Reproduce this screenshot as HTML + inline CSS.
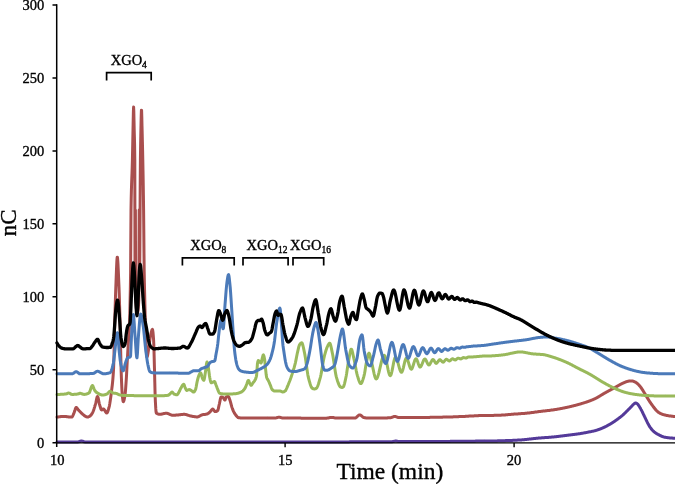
<!DOCTYPE html>
<html><head><meta charset="utf-8"><title>chart</title>
<style>
html,body{margin:0;padding:0;background:#fff;}
body{width:675px;height:484px;overflow:hidden;font-family:"Liberation Serif",serif;}
svg{display:block;will-change:transform;opacity:0.999}
text{font-family:"Liberation Serif",serif;fill:#000;stroke:#000;stroke-width:0.35px;stroke-linejoin:round}
</style></head><body>
<svg width="675" height="484" viewBox="0 0 675 484">
<rect width="675" height="484" fill="#fff"/>
<g fill="none" stroke-linejoin="round" stroke-linecap="round">
<path d="M57.0,441.9 L57.4,441.9 L57.8,441.9 L58.2,441.9 L58.6,441.9 L59.0,441.9 L59.4,441.9 L59.8,441.9 L60.2,441.9 L60.6,441.9 L61.0,441.9 L61.4,441.9 L61.8,441.9 L62.2,441.9 L62.6,441.9 L63.0,441.9 L63.4,441.9 L63.8,441.9 L64.2,441.9 L64.6,441.9 L65.0,441.9 L65.4,441.9 L65.8,441.9 L66.2,441.9 L66.6,441.9 L67.0,441.9 L67.4,441.9 L67.8,441.9 L68.2,441.9 L68.6,441.9 L69.0,441.9 L69.4,441.9 L69.8,441.9 L70.2,441.9 L70.6,441.9 L71.0,441.9 L71.4,441.9 L71.8,441.9 L72.2,441.9 L72.6,441.9 L73.0,441.9 L73.4,441.9 L73.8,441.9 L74.2,441.9 L74.6,441.9 L75.0,441.9 L75.4,441.9 L75.8,441.9 L76.2,441.9 L76.6,441.9 L77.0,441.9 L77.4,441.9 L77.8,441.9 L78.2,441.9 L78.6,441.8 L79.0,441.7 L79.4,441.6 L79.8,441.4 L80.2,441.3 L80.6,441.1 L81.0,441.0 L81.4,441.0 L81.8,441.0 L82.2,441.1 L82.6,441.2 L83.0,441.4 L83.4,441.5 L83.8,441.7 L84.2,441.8 L84.6,441.9 L85.0,441.9 L85.4,441.9 L85.8,441.9 L86.2,441.9 L86.6,441.9 L87.0,441.9 L87.4,441.9 L87.8,441.9 L88.2,441.9 L88.6,441.9 L89.0,441.9 L89.4,441.9 L89.8,441.9 L90.2,441.9 L90.6,441.9 L91.0,441.9 L91.4,441.9 L91.8,441.9 L92.2,441.9 L92.6,441.9 L93.0,441.9 L93.4,441.9 L93.8,441.9 L94.2,441.9 L94.6,441.9 L95.0,441.9 L95.4,441.9 L95.8,441.9 L96.2,441.9 L96.6,441.9 L97.0,441.9 L97.4,441.9 L97.8,441.9 L98.2,441.9 L98.6,441.9 L99.0,441.9 L99.4,441.9 L99.8,441.9 L100.2,441.9 L100.6,441.9 L101.0,441.9 L101.4,441.9 L101.8,441.9 L102.2,441.9 L102.6,441.9 L103.0,441.9 L103.4,441.9 L103.8,441.9 L104.2,441.9 L104.6,441.9 L105.0,441.9 L105.4,441.9 L105.8,441.9 L106.2,441.9 L106.6,441.9 L107.0,441.9 L107.4,441.9 L107.8,441.9 L108.2,441.9 L108.6,441.9 L109.0,441.9 L109.4,441.9 L109.8,441.9 L110.2,441.9 L110.6,441.9 L111.0,441.9 L111.4,441.9 L111.8,441.9 L112.2,441.9 L112.6,441.9 L113.0,441.9 L113.4,441.9 L113.8,441.9 L114.2,441.9 L114.6,441.9 L115.0,441.9 L115.4,441.9 L115.8,441.9 L116.2,441.9 L116.6,441.9 L117.0,441.9 L117.4,441.9 L117.8,441.9 L118.2,441.9 L118.6,441.9 L119.0,441.9 L119.4,441.9 L119.8,441.9 L120.2,441.9 L120.6,441.9 L121.0,441.9 L121.4,441.9 L121.8,441.9 L122.2,441.9 L122.6,441.9 L123.0,441.9 L123.4,441.9 L123.8,441.9 L124.2,441.9 L124.6,441.9 L125.0,441.9 L125.4,441.9 L125.8,441.9 L126.2,441.9 L126.6,441.9 L127.0,441.9 L127.4,441.9 L127.8,441.9 L128.2,441.9 L128.6,441.9 L129.0,441.9 L129.4,441.9 L129.8,441.9 L130.2,441.9 L130.6,441.9 L131.0,441.9 L131.4,441.9 L131.8,441.9 L132.2,441.9 L132.6,441.9 L133.0,441.9 L133.4,441.9 L133.8,441.9 L134.2,441.9 L134.6,441.9 L135.0,441.9 L135.4,441.9 L135.8,441.9 L136.2,441.9 L136.6,441.9 L137.0,441.9 L137.4,441.9 L137.8,441.9 L138.2,441.9 L138.6,441.9 L139.0,441.9 L139.4,441.9 L139.8,441.9 L140.2,441.9 L140.6,441.9 L141.0,441.9 L141.4,441.9 L141.8,441.9 L142.2,441.9 L142.6,441.9 L143.0,441.9 L143.4,441.9 L143.8,441.9 L144.2,441.9 L144.6,441.9 L145.0,441.9 L145.4,441.9 L145.8,441.9 L146.2,441.9 L146.6,441.9 L147.0,441.9 L147.4,441.9 L147.8,441.9 L148.2,441.9 L148.6,441.9 L149.0,441.9 L149.4,441.9 L149.8,441.9 L150.2,441.9 L150.6,441.9 L151.0,441.9 L151.4,441.9 L151.8,441.9 L152.2,441.9 L152.6,441.9 L153.0,441.9 L153.4,441.9 L153.8,441.9 L154.2,441.9 L154.6,441.9 L155.0,441.9 L155.4,441.9 L155.8,441.9 L156.2,441.9 L156.6,441.9 L157.0,441.9 L157.4,441.9 L157.8,441.9 L158.2,441.9 L158.6,441.9 L159.0,441.9 L159.4,441.9 L159.8,441.9 L160.2,441.9 L160.6,441.9 L161.0,441.9 L161.4,441.9 L161.8,441.9 L162.2,441.9 L162.6,441.9 L163.0,441.9 L163.4,441.9 L163.8,441.9 L164.2,441.9 L164.6,441.9 L165.0,441.9 L165.4,441.9 L165.8,441.9 L166.2,441.9 L166.6,441.9 L167.0,441.9 L167.4,441.9 L167.8,441.9 L168.2,441.9 L168.6,441.9 L169.0,441.9 L169.4,441.9 L169.8,441.9 L170.2,441.9 L170.6,441.9 L171.0,441.9 L171.4,441.9 L171.8,441.9 L172.2,441.9 L172.6,441.9 L173.0,441.9 L173.4,441.9 L173.8,441.9 L174.2,441.9 L174.6,441.9 L175.0,441.9 L175.4,441.9 L175.8,441.9 L176.2,441.9 L176.6,441.9 L177.0,441.9 L177.4,441.9 L177.8,441.9 L178.2,441.9 L178.6,441.9 L179.0,441.9 L179.4,441.9 L179.8,441.9 L180.2,441.9 L180.6,441.9 L181.0,441.9 L181.4,441.9 L181.8,441.9 L182.2,441.9 L182.6,441.9 L183.0,441.9 L183.4,441.9 L183.8,441.9 L184.2,441.9 L184.6,441.9 L185.0,441.9 L185.4,441.9 L185.8,441.9 L186.2,441.9 L186.6,441.9 L187.0,441.9 L187.4,441.9 L187.8,441.9 L188.2,441.9 L188.6,441.9 L189.0,441.9 L189.4,441.9 L189.8,441.9 L190.2,441.9 L190.6,441.9 L191.0,441.9 L191.4,441.9 L191.8,441.9 L192.2,441.9 L192.6,441.9 L193.0,441.9 L193.4,441.9 L193.8,441.9 L194.2,441.9 L194.6,441.9 L195.0,441.9 L195.4,441.9 L195.8,441.9 L196.2,441.9 L196.6,441.9 L197.0,441.9 L197.4,441.9 L197.8,441.9 L198.2,441.9 L198.6,441.9 L199.0,441.9 L199.4,441.9 L199.8,441.9 L200.2,441.9 L200.6,441.9 L201.0,441.9 L201.4,441.9 L201.8,441.9 L202.2,441.9 L202.6,441.9 L203.0,441.9 L203.4,441.9 L203.8,441.9 L204.2,441.9 L204.6,441.9 L205.0,441.9 L205.4,441.9 L205.8,441.9 L206.2,441.9 L206.6,441.9 L207.0,441.9 L207.4,441.9 L207.8,441.9 L208.2,441.9 L208.6,441.9 L209.0,441.9 L209.4,441.9 L209.8,441.9 L210.2,441.9 L210.6,441.9 L211.0,441.9 L211.4,441.9 L211.8,441.9 L212.2,441.9 L212.6,441.9 L213.0,441.9 L213.4,441.9 L213.8,441.9 L214.2,441.9 L214.6,441.9 L215.0,441.9 L215.4,441.9 L215.8,441.9 L216.2,441.9 L216.6,441.9 L217.0,441.9 L217.4,441.9 L217.8,441.9 L218.2,441.9 L218.6,441.9 L219.0,441.9 L219.4,441.9 L219.8,441.9 L220.2,441.9 L220.6,441.9 L221.0,441.9 L221.4,441.9 L221.8,441.9 L222.2,441.9 L222.6,441.9 L223.0,441.9 L223.4,441.9 L223.8,441.9 L224.2,441.9 L224.6,441.9 L225.0,441.9 L225.4,441.9 L225.8,441.9 L226.2,441.9 L226.6,441.9 L227.0,441.9 L227.4,441.9 L227.8,441.9 L228.2,441.9 L228.6,441.9 L229.0,441.9 L229.4,441.9 L229.8,441.9 L230.2,441.9 L230.6,441.9 L231.0,441.9 L231.4,441.9 L231.8,441.9 L232.2,441.9 L232.6,441.9 L233.0,441.9 L233.4,441.9 L233.8,441.9 L234.2,441.9 L234.6,441.9 L235.0,441.9 L235.4,441.9 L235.8,441.9 L236.2,441.9 L236.6,441.9 L237.0,441.9 L237.4,441.9 L237.8,441.9 L238.2,441.9 L238.6,441.9 L239.0,441.9 L239.4,441.9 L239.8,441.9 L240.2,441.9 L240.6,441.9 L241.0,441.9 L241.4,441.9 L241.8,441.9 L242.2,441.9 L242.6,441.9 L243.0,441.9 L243.4,441.9 L243.8,441.9 L244.2,441.9 L244.6,441.9 L245.0,441.9 L245.4,441.9 L245.8,441.9 L246.2,441.9 L246.6,441.9 L247.0,441.9 L247.4,441.9 L247.8,441.9 L248.2,441.9 L248.6,441.9 L249.0,441.9 L249.4,441.9 L249.8,441.9 L250.2,441.9 L250.6,441.9 L251.0,441.9 L251.4,441.9 L251.8,441.9 L252.2,441.9 L252.6,441.9 L253.0,441.9 L253.4,441.9 L253.8,441.9 L254.2,441.9 L254.6,441.9 L255.0,441.9 L255.4,441.9 L255.8,441.9 L256.2,441.9 L256.6,441.9 L257.0,441.9 L257.4,441.9 L257.8,441.9 L258.2,441.9 L258.6,441.9 L259.0,441.9 L259.4,441.9 L259.8,441.9 L260.2,441.9 L260.6,441.9 L261.0,441.9 L261.4,441.9 L261.8,441.9 L262.2,441.9 L262.6,441.9 L263.0,441.9 L263.4,441.9 L263.8,441.9 L264.2,441.9 L264.6,441.9 L265.0,441.9 L265.4,441.9 L265.8,441.9 L266.2,441.9 L266.6,441.9 L267.0,441.9 L267.4,441.9 L267.8,441.9 L268.2,441.9 L268.6,441.9 L269.0,441.9 L269.4,441.9 L269.8,441.9 L270.2,441.9 L270.6,441.9 L271.0,441.9 L271.4,441.9 L271.8,441.9 L272.2,441.9 L272.6,441.9 L273.0,441.9 L273.4,441.9 L273.8,441.9 L274.2,441.9 L274.6,441.9 L275.0,441.9 L275.4,441.9 L275.8,441.9 L276.2,441.9 L276.6,441.9 L277.0,441.9 L277.4,441.9 L277.8,441.9 L278.2,441.9 L278.6,441.9 L279.0,441.9 L279.4,441.9 L279.8,441.9 L280.2,441.9 L280.6,441.9 L281.0,441.9 L281.4,441.9 L281.8,441.9 L282.2,441.9 L282.6,441.9 L283.0,441.9 L283.4,441.9 L283.8,441.9 L284.2,441.9 L284.6,441.9 L285.0,441.9 L285.4,441.9 L285.8,441.9 L286.2,441.9 L286.6,441.9 L287.0,441.9 L287.4,441.9 L287.8,441.9 L288.2,441.9 L288.6,441.9 L289.0,441.9 L289.4,441.9 L289.8,441.9 L290.2,441.9 L290.6,441.9 L291.0,441.9 L291.4,441.9 L291.8,441.9 L292.2,441.9 L292.6,441.9 L293.0,441.9 L293.4,441.9 L293.8,441.9 L294.2,441.9 L294.6,441.9 L295.0,441.9 L295.4,441.9 L295.8,441.9 L296.2,441.9 L296.6,441.9 L297.0,441.9 L297.4,441.9 L297.8,441.9 L298.2,441.9 L298.6,441.9 L299.0,441.9 L299.4,441.9 L299.8,441.9 L300.2,441.9 L300.6,441.9 L301.0,441.9 L301.4,441.9 L301.8,441.9 L302.2,441.9 L302.6,441.9 L303.0,441.9 L303.4,441.9 L303.8,441.9 L304.2,441.9 L304.6,441.9 L305.0,441.9 L305.4,441.9 L305.8,441.9 L306.2,441.9 L306.6,441.9 L307.0,441.9 L307.4,441.9 L307.8,441.9 L308.2,441.9 L308.6,441.9 L309.0,441.9 L309.4,441.9 L309.8,441.9 L310.2,441.9 L310.6,441.9 L311.0,441.9 L311.4,441.9 L311.8,441.9 L312.2,441.9 L312.6,441.9 L313.0,441.9 L313.4,441.9 L313.8,441.9 L314.2,441.9 L314.6,441.9 L315.0,441.9 L315.4,441.9 L315.8,441.9 L316.2,441.9 L316.6,441.9 L317.0,441.9 L317.4,441.9 L317.8,441.9 L318.2,441.9 L318.6,441.9 L319.0,441.9 L319.4,441.9 L319.8,441.9 L320.2,441.9 L320.6,441.9 L321.0,441.9 L321.4,441.9 L321.8,441.9 L322.2,441.9 L322.6,441.9 L323.0,441.9 L323.4,441.9 L323.8,441.9 L324.2,441.9 L324.6,441.9 L325.0,441.9 L325.4,441.9 L325.8,441.9 L326.2,441.9 L326.6,441.9 L327.0,441.9 L327.4,441.9 L327.8,441.9 L328.2,441.9 L328.6,441.9 L329.0,441.9 L329.4,441.9 L329.8,441.9 L330.2,441.9 L330.6,441.9 L331.0,441.9 L331.4,441.9 L331.8,441.9 L332.2,441.9 L332.6,441.9 L333.0,441.9 L333.4,441.9 L333.8,441.9 L334.2,441.9 L334.6,441.9 L335.0,441.9 L335.4,441.9 L335.8,441.9 L336.2,441.9 L336.6,441.9 L337.0,441.9 L337.4,441.9 L337.8,441.9 L338.2,441.9 L338.6,441.9 L339.0,441.9 L339.4,441.9 L339.8,441.9 L340.2,441.9 L340.6,441.9 L341.0,441.9 L341.4,441.9 L341.8,441.9 L342.2,441.9 L342.6,441.9 L343.0,441.9 L343.4,441.9 L343.8,441.9 L344.2,441.9 L344.6,441.9 L345.0,441.9 L345.4,441.9 L345.8,441.9 L346.2,441.9 L346.6,441.9 L347.0,441.9 L347.4,441.9 L347.8,441.9 L348.2,441.9 L348.6,441.9 L349.0,441.9 L349.4,441.9 L349.8,441.8 L350.2,441.8 L350.6,441.8 L351.0,441.8 L351.4,441.8 L351.8,441.8 L352.2,441.8 L352.6,441.8 L353.0,441.8 L353.4,441.8 L353.8,441.8 L354.2,441.8 L354.6,441.8 L355.0,441.8 L355.4,441.8 L355.8,441.8 L356.2,441.8 L356.6,441.8 L357.0,441.8 L357.4,441.8 L357.8,441.8 L358.2,441.8 L358.6,441.8 L359.0,441.8 L359.4,441.8 L359.8,441.8 L360.2,441.8 L360.6,441.8 L361.0,441.8 L361.4,441.8 L361.8,441.8 L362.2,441.8 L362.6,441.8 L363.0,441.8 L363.4,441.8 L363.8,441.8 L364.2,441.8 L364.6,441.8 L365.0,441.8 L365.4,441.8 L365.8,441.8 L366.2,441.8 L366.6,441.8 L367.0,441.8 L367.4,441.8 L367.8,441.8 L368.2,441.8 L368.6,441.8 L369.0,441.8 L369.4,441.8 L369.8,441.8 L370.2,441.8 L370.6,441.8 L371.0,441.8 L371.4,441.8 L371.8,441.8 L372.2,441.8 L372.6,441.8 L373.0,441.8 L373.4,441.8 L373.8,441.8 L374.2,441.8 L374.6,441.8 L375.0,441.8 L375.4,441.8 L375.8,441.8 L376.2,441.8 L376.6,441.8 L377.0,441.8 L377.4,441.8 L377.8,441.8 L378.2,441.8 L378.6,441.8 L379.0,441.8 L379.4,441.8 L379.8,441.8 L380.2,441.8 L380.6,441.8 L381.0,441.8 L381.4,441.8 L381.8,441.8 L382.2,441.8 L382.6,441.8 L383.0,441.8 L383.4,441.8 L383.8,441.8 L384.2,441.8 L384.6,441.8 L385.0,441.8 L385.4,441.8 L385.8,441.8 L386.2,441.8 L386.6,441.8 L387.0,441.8 L387.4,441.8 L387.8,441.8 L388.2,441.8 L388.6,441.8 L389.0,441.8 L389.4,441.8 L389.8,441.8 L390.2,441.8 L390.6,441.8 L391.0,441.8 L391.4,441.7 L391.8,441.7 L392.2,441.7 L392.6,441.6 L393.0,441.6 L393.4,441.5 L393.8,441.4 L394.2,441.3 L394.6,441.2 L395.0,441.1 L395.4,441.0 L395.8,441.0 L396.2,441.0 L396.6,441.1 L397.0,441.2 L397.4,441.3 L397.8,441.4 L398.2,441.5 L398.6,441.5 L399.0,441.5 L399.4,441.5 L399.8,441.5 L400.2,441.5 L400.6,441.5 L401.0,441.5 L401.4,441.5 L401.8,441.5 L402.2,441.5 L402.6,441.5 L403.0,441.5 L403.4,441.5 L403.8,441.5 L404.2,441.5 L404.6,441.5 L405.0,441.5 L405.4,441.5 L405.8,441.5 L406.2,441.5 L406.6,441.5 L407.0,441.5 L407.4,441.5 L407.8,441.5 L408.2,441.5 L408.6,441.5 L409.0,441.5 L409.4,441.5 L409.8,441.5 L410.2,441.5 L410.6,441.5 L411.0,441.5 L411.4,441.5 L411.8,441.5 L412.2,441.5 L412.6,441.5 L413.0,441.5 L413.4,441.5 L413.8,441.5 L414.2,441.5 L414.6,441.5 L415.0,441.5 L415.4,441.5 L415.8,441.5 L416.2,441.5 L416.6,441.5 L417.0,441.5 L417.4,441.5 L417.8,441.5 L418.2,441.5 L418.6,441.5 L419.0,441.5 L419.4,441.5 L419.8,441.5 L420.2,441.5 L420.6,441.5 L421.0,441.5 L421.4,441.5 L421.8,441.5 L422.2,441.5 L422.6,441.5 L423.0,441.5 L423.4,441.5 L423.8,441.5 L424.2,441.5 L424.6,441.5 L425.0,441.5 L425.4,441.5 L425.8,441.4 L426.2,441.4 L426.6,441.4 L427.0,441.4 L427.4,441.4 L427.8,441.4 L428.2,441.4 L428.6,441.4 L429.0,441.4 L429.4,441.4 L429.8,441.4 L430.2,441.4 L430.6,441.4 L431.0,441.4 L431.4,441.4 L431.8,441.4 L432.2,441.4 L432.6,441.4 L433.0,441.4 L433.4,441.4 L433.8,441.4 L434.2,441.4 L434.6,441.4 L435.0,441.4 L435.4,441.4 L435.8,441.4 L436.2,441.4 L436.6,441.4 L437.0,441.4 L437.4,441.4 L437.8,441.4 L438.2,441.4 L438.6,441.4 L439.0,441.4 L439.4,441.4 L439.8,441.4 L440.2,441.4 L440.6,441.4 L441.0,441.4 L441.4,441.4 L441.8,441.4 L442.2,441.4 L442.6,441.4 L443.0,441.4 L443.4,441.4 L443.8,441.4 L444.2,441.4 L444.6,441.4 L445.0,441.4 L445.4,441.4 L445.8,441.4 L446.2,441.4 L446.6,441.4 L447.0,441.4 L447.4,441.4 L447.8,441.4 L448.2,441.4 L448.6,441.4 L449.0,441.4 L449.4,441.4 L449.8,441.4 L450.2,441.4 L450.6,441.3 L451.0,441.3 L451.4,441.3 L451.8,441.3 L452.2,441.3 L452.6,441.3 L453.0,441.3 L453.4,441.3 L453.8,441.3 L454.2,441.3 L454.6,441.3 L455.0,441.3 L455.4,441.3 L455.8,441.3 L456.2,441.3 L456.6,441.3 L457.0,441.3 L457.4,441.3 L457.8,441.3 L458.2,441.3 L458.6,441.3 L459.0,441.3 L459.4,441.3 L459.8,441.3 L460.2,441.3 L460.6,441.3 L461.0,441.3 L461.4,441.3 L461.8,441.3 L462.2,441.3 L462.6,441.3 L463.0,441.3 L463.4,441.3 L463.8,441.3 L464.2,441.2 L464.6,441.2 L465.0,441.2 L465.4,441.2 L465.8,441.2 L466.2,441.2 L466.6,441.2 L467.0,441.2 L467.4,441.2 L467.8,441.2 L468.2,441.2 L468.6,441.2 L469.0,441.2 L469.4,441.2 L469.8,441.2 L470.2,441.2 L470.6,441.2 L471.0,441.2 L471.4,441.2 L471.8,441.2 L472.2,441.2 L472.6,441.2 L473.0,441.2 L473.4,441.2 L473.8,441.2 L474.2,441.2 L474.6,441.2 L475.0,441.2 L475.4,441.1 L475.8,441.1 L476.2,441.1 L476.6,441.1 L477.0,441.1 L477.4,441.1 L477.8,441.1 L478.2,441.1 L478.6,441.1 L479.0,441.1 L479.4,441.1 L479.8,441.1 L480.2,441.1 L480.6,441.1 L481.0,441.1 L481.4,441.1 L481.8,441.1 L482.2,441.1 L482.6,441.1 L483.0,441.1 L483.4,441.1 L483.8,441.1 L484.2,441.1 L484.6,441.0 L485.0,441.0 L485.4,441.0 L485.8,441.0 L486.2,441.0 L486.6,441.0 L487.0,441.0 L487.4,441.0 L487.8,441.0 L488.2,441.0 L488.6,441.0 L489.0,441.0 L489.4,441.0 L489.8,441.0 L490.2,441.0 L490.6,441.0 L491.0,441.0 L491.4,441.0 L491.8,441.0 L492.2,440.9 L492.6,440.9 L493.0,440.9 L493.4,440.9 L493.8,440.9 L494.2,440.9 L494.6,440.9 L495.0,440.9 L495.4,440.9 L495.8,440.9 L496.2,440.9 L496.6,440.9 L497.0,440.9 L497.4,440.9 L497.8,440.8 L498.2,440.8 L498.6,440.8 L499.0,440.8 L499.4,440.8 L499.8,440.8 L500.2,440.8 L500.6,440.8 L501.0,440.8 L501.4,440.8 L501.8,440.8 L502.2,440.7 L502.6,440.7 L503.0,440.7 L503.4,440.7 L503.8,440.7 L504.2,440.7 L504.6,440.7 L505.0,440.7 L505.4,440.6 L505.8,440.6 L506.2,440.6 L506.6,440.6 L507.0,440.6 L507.4,440.6 L507.8,440.6 L508.2,440.5 L508.6,440.5 L509.0,440.5 L509.4,440.5 L509.8,440.5 L510.2,440.5 L510.6,440.4 L511.0,440.4 L511.4,440.4 L511.8,440.4 L512.2,440.4 L512.6,440.4 L513.0,440.3 L513.4,440.3 L513.8,440.3 L514.2,440.3 L514.6,440.3 L515.0,440.3 L515.4,440.2 L515.8,440.2 L516.2,440.2 L516.6,440.2 L517.0,440.2 L517.4,440.1 L517.8,440.1 L518.2,440.1 L518.6,440.1 L519.0,440.1 L519.4,440.0 L519.8,440.0 L520.2,440.0 L520.6,440.0 L521.0,439.9 L521.4,439.9 L521.8,439.9 L522.2,439.8 L522.6,439.8 L523.0,439.8 L523.4,439.7 L523.8,439.7 L524.2,439.7 L524.6,439.6 L525.0,439.6 L525.4,439.5 L525.8,439.5 L526.2,439.5 L526.6,439.4 L527.0,439.4 L527.4,439.3 L527.8,439.3 L528.2,439.2 L528.6,439.2 L529.0,439.1 L529.4,439.1 L529.8,439.1 L530.2,439.0 L530.6,439.0 L531.0,438.9 L531.4,438.9 L531.8,438.8 L532.2,438.8 L532.6,438.7 L533.0,438.7 L533.4,438.6 L533.8,438.6 L534.2,438.6 L534.6,438.5 L535.0,438.5 L535.4,438.4 L535.8,438.4 L536.2,438.3 L536.6,438.3 L537.0,438.3 L537.4,438.2 L537.8,438.2 L538.2,438.1 L538.6,438.1 L539.0,438.1 L539.4,438.0 L539.8,438.0 L540.2,438.0 L540.6,437.9 L541.0,437.9 L541.4,437.9 L541.8,437.8 L542.2,437.8 L542.6,437.8 L543.0,437.7 L543.4,437.7 L543.8,437.7 L544.2,437.7 L544.6,437.6 L545.0,437.6 L545.4,437.6 L545.8,437.5 L546.2,437.5 L546.6,437.5 L547.0,437.5 L547.4,437.4 L547.8,437.4 L548.2,437.4 L548.6,437.4 L549.0,437.3 L549.4,437.3 L549.8,437.3 L550.2,437.2 L550.6,437.2 L551.0,437.2 L551.4,437.1 L551.8,437.1 L552.2,437.1 L552.6,437.0 L553.0,437.0 L553.4,437.0 L553.8,436.9 L554.2,436.9 L554.6,436.8 L555.0,436.8 L555.4,436.8 L555.8,436.7 L556.2,436.7 L556.6,436.6 L557.0,436.6 L557.4,436.5 L557.8,436.5 L558.2,436.4 L558.6,436.4 L559.0,436.3 L559.4,436.3 L559.8,436.2 L560.2,436.2 L560.6,436.1 L561.0,436.1 L561.4,436.0 L561.8,436.0 L562.2,435.9 L562.6,435.9 L563.0,435.8 L563.4,435.8 L563.8,435.7 L564.2,435.7 L564.6,435.6 L565.0,435.6 L565.4,435.5 L565.8,435.5 L566.2,435.4 L566.6,435.4 L567.0,435.3 L567.4,435.3 L567.8,435.2 L568.2,435.2 L568.6,435.1 L569.0,435.1 L569.4,435.0 L569.8,435.0 L570.2,434.9 L570.6,434.9 L571.0,434.8 L571.4,434.8 L571.8,434.7 L572.2,434.7 L572.6,434.6 L573.0,434.6 L573.4,434.5 L573.8,434.5 L574.2,434.4 L574.6,434.4 L575.0,434.3 L575.4,434.3 L575.8,434.2 L576.2,434.2 L576.6,434.1 L577.0,434.1 L577.4,434.0 L577.8,433.9 L578.2,433.9 L578.6,433.8 L579.0,433.8 L579.4,433.7 L579.8,433.7 L580.2,433.6 L580.6,433.5 L581.0,433.5 L581.4,433.4 L581.8,433.3 L582.2,433.3 L582.6,433.2 L583.0,433.1 L583.4,433.0 L583.8,433.0 L584.2,432.9 L584.6,432.8 L585.0,432.8 L585.4,432.7 L585.8,432.6 L586.2,432.5 L586.6,432.4 L587.0,432.4 L587.4,432.3 L587.8,432.2 L588.2,432.1 L588.6,432.1 L589.0,432.0 L589.4,431.9 L589.8,431.8 L590.2,431.7 L590.6,431.7 L591.0,431.6 L591.4,431.5 L591.8,431.4 L592.2,431.3 L592.6,431.3 L593.0,431.2 L593.4,431.1 L593.8,431.0 L594.2,430.9 L594.6,430.8 L595.0,430.7 L595.4,430.6 L595.8,430.5 L596.2,430.4 L596.6,430.2 L597.0,430.1 L597.4,430.0 L597.8,429.8 L598.2,429.7 L598.6,429.6 L599.0,429.4 L599.4,429.3 L599.8,429.1 L600.2,429.0 L600.6,428.8 L601.0,428.6 L601.4,428.5 L601.8,428.3 L602.2,428.1 L602.6,428.0 L603.0,427.8 L603.4,427.6 L603.8,427.4 L604.2,427.3 L604.6,427.1 L605.0,426.9 L605.4,426.7 L605.8,426.5 L606.2,426.3 L606.6,426.1 L607.0,425.9 L607.4,425.6 L607.8,425.4 L608.2,425.2 L608.6,425.0 L609.0,424.7 L609.4,424.5 L609.8,424.3 L610.2,424.1 L610.6,423.8 L611.0,423.6 L611.4,423.3 L611.8,423.1 L612.2,422.8 L612.6,422.6 L613.0,422.3 L613.4,422.1 L613.8,421.8 L614.2,421.5 L614.6,421.3 L615.0,421.0 L615.4,420.7 L615.8,420.4 L616.2,420.2 L616.6,419.9 L617.0,419.6 L617.4,419.3 L617.8,419.0 L618.2,418.7 L618.6,418.4 L619.0,418.1 L619.4,417.8 L619.8,417.5 L620.2,417.2 L620.6,416.9 L621.0,416.6 L621.4,416.2 L621.8,415.9 L622.2,415.6 L622.6,415.2 L623.0,414.9 L623.4,414.5 L623.8,414.2 L624.2,413.8 L624.6,413.4 L625.0,413.0 L625.4,412.6 L625.8,412.2 L626.2,411.8 L626.6,411.4 L627.0,411.0 L627.4,410.6 L627.8,410.2 L628.2,409.8 L628.6,409.4 L629.0,409.0 L629.4,408.6 L629.8,408.2 L630.2,407.8 L630.6,407.4 L631.0,407.0 L631.4,406.6 L631.8,406.1 L632.2,405.6 L632.6,405.2 L633.0,404.7 L633.4,404.4 L633.8,404.1 L634.2,403.7 L634.6,403.4 L635.0,403.2 L635.4,403.0 L635.8,403.0 L636.2,403.1 L636.6,403.3 L637.0,403.6 L637.4,403.9 L637.8,404.3 L638.2,404.8 L638.6,405.4 L639.0,406.0 L639.4,406.6 L639.8,407.3 L640.2,407.9 L640.6,408.6 L641.0,409.4 L641.4,410.1 L641.8,410.9 L642.2,411.7 L642.6,412.5 L643.0,413.3 L643.4,414.2 L643.8,415.0 L644.2,415.8 L644.6,416.7 L645.0,417.5 L645.4,418.3 L645.8,419.2 L646.2,420.0 L646.6,420.8 L647.0,421.7 L647.4,422.5 L647.8,423.3 L648.2,424.1 L648.6,424.8 L649.0,425.5 L649.4,426.2 L649.8,426.8 L650.2,427.4 L650.6,427.9 L651.0,428.5 L651.4,429.0 L651.8,429.5 L652.2,430.0 L652.6,430.4 L653.0,430.8 L653.4,431.2 L653.8,431.5 L654.2,431.9 L654.6,432.2 L655.0,432.5 L655.4,432.8 L655.8,433.1 L656.2,433.3 L656.6,433.6 L657.0,433.8 L657.4,434.0 L657.8,434.3 L658.2,434.5 L658.6,434.7 L659.0,434.9 L659.4,435.1 L659.8,435.3 L660.2,435.6 L660.6,435.7 L661.0,435.9 L661.4,436.1 L661.8,436.3 L662.2,436.5 L662.6,436.6 L663.0,436.7 L663.4,436.9 L663.8,437.0 L664.2,437.1 L664.6,437.2 L665.0,437.2 L665.4,437.3 L665.8,437.4 L666.2,437.4 L666.6,437.5 L667.0,437.5 L667.4,437.6 L667.8,437.7 L668.2,437.7 L668.6,437.8 L669.0,437.8 L669.4,437.9 L669.8,437.9 L670.2,437.9 L670.6,438.0 L671.0,438.0 L671.4,438.0 L671.8,438.1 L672.2,438.1 L672.6,438.1 L673.0,438.2 L673.4,438.2 L673.8,438.2 L674.2,438.2 L674.6,438.2 L675.0,438.2 L675.0,438.2" stroke="#543a99" stroke-width="3"/>
<path d="M57.0,417.1 L57.2,417.1 L57.4,417.0 L57.6,417.0 L57.8,417.0 L58.0,416.9 L58.2,416.9 L58.4,416.9 L58.6,416.9 L58.8,416.8 L59.0,416.8 L59.2,416.8 L59.4,416.8 L59.6,416.7 L59.8,416.7 L60.0,416.7 L60.2,416.7 L60.4,416.7 L60.6,416.6 L60.8,416.6 L61.0,416.6 L61.2,416.6 L61.4,416.6 L61.6,416.6 L61.8,416.6 L62.0,416.6 L62.2,416.5 L62.4,416.5 L62.6,416.5 L62.8,416.5 L63.0,416.5 L63.2,416.5 L63.4,416.5 L63.6,416.5 L63.8,416.5 L64.0,416.5 L64.2,416.5 L64.4,416.5 L64.6,416.5 L64.8,416.5 L65.0,416.5 L65.2,416.5 L65.4,416.6 L65.6,416.6 L65.8,416.6 L66.0,416.6 L66.2,416.6 L66.4,416.6 L66.6,416.7 L66.8,416.7 L67.0,416.7 L67.2,416.7 L67.4,416.7 L67.6,416.8 L67.8,416.8 L68.0,416.8 L68.2,416.8 L68.4,416.9 L68.6,416.9 L68.8,416.9 L69.0,416.9 L69.2,417.0 L69.4,417.0 L69.6,417.0 L69.8,417.0 L70.0,417.0 L70.2,417.0 L70.4,417.1 L70.6,417.1 L70.8,417.1 L71.0,417.1 L71.2,417.1 L71.4,417.1 L71.6,417.1 L71.8,417.1 L72.0,417.0 L72.2,416.8 L72.4,416.5 L72.6,416.2 L72.8,415.8 L73.0,415.3 L73.2,414.9 L73.4,414.4 L73.6,413.9 L73.8,413.4 L74.0,413.0 L74.2,412.5 L74.4,411.9 L74.6,411.3 L74.8,410.6 L75.0,410.0 L75.2,409.3 L75.4,408.7 L75.6,408.2 L75.8,407.8 L76.0,407.5 L76.2,407.4 L76.4,407.5 L76.6,407.6 L76.8,407.8 L77.0,408.1 L77.2,408.4 L77.4,408.7 L77.6,409.0 L77.8,409.3 L78.0,409.5 L78.2,409.7 L78.4,409.9 L78.6,410.2 L78.8,410.4 L79.0,410.6 L79.2,410.8 L79.4,411.0 L79.6,411.2 L79.8,411.4 L80.0,411.6 L80.2,411.8 L80.4,412.0 L80.6,412.2 L80.8,412.4 L81.0,412.6 L81.2,412.8 L81.4,413.1 L81.6,413.3 L81.8,413.5 L82.0,413.6 L82.2,413.8 L82.4,414.0 L82.6,414.2 L82.8,414.3 L83.0,414.5 L83.2,414.6 L83.4,414.8 L83.6,415.0 L83.8,415.1 L84.0,415.3 L84.2,415.4 L84.4,415.6 L84.6,415.7 L84.8,415.9 L85.0,416.0 L85.2,416.2 L85.4,416.3 L85.6,416.4 L85.8,416.5 L86.0,416.6 L86.2,416.7 L86.4,416.8 L86.6,416.9 L86.8,417.0 L87.0,417.0 L87.2,417.1 L87.4,417.1 L87.6,417.1 L87.8,417.1 L88.0,417.1 L88.2,417.0 L88.4,416.9 L88.6,416.8 L88.8,416.8 L89.0,416.6 L89.2,416.5 L89.4,416.4 L89.6,416.3 L89.8,416.1 L90.0,416.0 L90.2,415.9 L90.4,415.7 L90.6,415.5 L90.8,415.3 L91.0,415.1 L91.2,414.8 L91.4,414.5 L91.6,414.3 L91.8,414.0 L92.0,413.7 L92.2,413.3 L92.4,413.0 L92.6,412.6 L92.8,412.2 L93.0,411.8 L93.2,411.3 L93.4,410.8 L93.6,410.2 L93.8,409.6 L94.0,409.0 L94.2,408.4 L94.4,407.7 L94.6,407.1 L94.8,406.4 L95.0,405.8 L95.2,405.1 L95.4,404.4 L95.6,403.7 L95.8,402.9 L96.0,402.0 L96.2,401.0 L96.4,400.0 L96.6,399.0 L96.8,398.1 L97.0,397.4 L97.2,396.8 L97.4,396.5 L97.6,396.5 L97.8,396.8 L98.0,397.4 L98.2,398.2 L98.4,399.1 L98.6,400.1 L98.8,401.2 L99.0,402.2 L99.2,403.2 L99.4,404.1 L99.6,404.8 L99.8,405.4 L100.0,406.1 L100.2,406.8 L100.4,407.4 L100.6,408.0 L100.8,408.6 L101.0,409.1 L101.2,409.5 L101.4,409.8 L101.6,410.0 L101.8,410.0 L102.0,409.9 L102.2,409.7 L102.4,409.6 L102.6,409.3 L102.8,409.2 L103.0,409.0 L103.2,408.9 L103.4,408.9 L103.6,409.0 L103.8,409.1 L104.0,409.3 L104.2,409.6 L104.4,409.9 L104.6,410.2 L104.8,410.5 L105.0,410.9 L105.2,411.2 L105.4,411.6 L105.6,411.9 L105.8,412.2 L106.0,412.5 L106.2,412.7 L106.4,412.9 L106.6,413.0 L106.8,413.0 L107.0,412.9 L107.2,412.7 L107.4,412.4 L107.6,412.0 L107.8,411.5 L108.0,410.9 L108.2,410.3 L108.4,409.6 L108.6,408.9 L108.8,408.2 L109.0,407.5 L109.2,406.7 L109.4,405.8 L109.6,404.7 L109.8,403.6 L110.0,402.3 L110.2,401.0 L110.4,399.6 L110.6,398.2 L110.8,396.7 L111.0,395.2 L111.2,393.6 L111.4,392.0 L111.6,390.4 L111.8,388.9 L112.0,387.3 L112.2,385.7 L112.4,383.9 L112.6,382.0 L112.8,379.8 L113.0,377.4 L113.2,374.7 L113.4,371.7 L113.6,367.9 L113.8,362.0 L114.0,354.3 L114.2,345.6 L114.4,336.5 L114.6,327.7 L114.8,320.0 L115.0,313.0 L115.2,306.1 L115.4,299.5 L115.6,293.3 L115.8,287.6 L116.0,282.5 L116.2,277.1 L116.4,271.7 L116.6,266.7 L116.8,262.3 L117.0,259.1 L117.2,257.2 L117.4,257.2 L117.6,258.5 L117.8,261.0 L118.0,264.4 L118.2,268.5 L118.4,273.1 L118.6,277.9 L118.8,282.7 L119.0,287.4 L119.2,292.9 L119.4,299.1 L119.6,305.7 L119.8,312.8 L120.0,320.0 L120.2,328.0 L120.4,337.1 L120.6,346.6 L120.8,356.1 L121.0,364.7 L121.2,372.1 L121.4,377.6 L121.6,382.6 L121.8,387.1 L122.0,390.9 L122.2,393.9 L122.4,396.0 L122.6,397.9 L122.8,399.6 L123.0,400.9 L123.2,401.6 L123.4,401.7 L123.6,401.4 L123.8,400.9 L124.0,400.3 L124.2,399.4 L124.4,398.4 L124.6,397.4 L124.8,396.2 L125.0,395.0 L125.2,393.5 L125.4,391.5 L125.6,389.1 L125.8,386.4 L126.0,383.5 L126.2,380.5 L126.4,377.4 L126.6,373.8 L126.8,369.8 L127.0,365.8 L127.2,362.0 L127.4,358.5 L127.6,355.0 L127.8,351.6 L128.0,348.3 L128.2,345.0 L128.4,342.0 L128.6,339.4 L128.8,336.9 L129.0,334.2 L129.2,331.0 L129.4,327.2 L129.6,322.3 L129.8,314.8 L130.0,305.5 L130.2,295.2 L130.4,284.9 L130.6,272.0 L130.8,240.0 L131.0,210.0 L131.2,198.6 L131.4,190.2 L131.6,183.7 L131.8,178.4 L132.0,173.2 L132.2,167.4 L132.4,160.0 L132.6,150.4 L132.8,139.7 L133.0,130.0 L133.2,120.2 L133.4,111.0 L133.6,107.0 L133.8,111.0 L134.0,120.2 L134.2,130.0 L134.4,136.9 L134.6,144.7 L134.8,160.0 L135.0,272.0 L135.2,241.0 L135.4,210.0 L135.6,291.8 L135.8,300.0 L136.0,303.5 L136.2,306.5 L136.4,308.8 L136.6,310.5 L136.8,311.8 L137.0,312.6 L137.2,313.0 L137.4,313.0 L137.6,312.6 L137.8,311.9 L138.0,310.7 L138.2,309.0 L138.4,306.7 L138.6,303.7 L138.8,300.0 L139.0,254.0 L139.2,210.0 L139.4,264.5 L139.6,272.0 L139.8,257.6 L140.0,224.1 L140.2,186.7 L140.4,160.0 L140.6,145.7 L140.8,134.6 L141.0,125.4 L141.2,116.4 L141.4,110.3 L141.6,110.4 L141.8,116.8 L142.0,125.8 L142.2,133.8 L142.4,141.8 L142.6,150.4 L142.8,160.0 L143.0,170.6 L143.2,182.2 L143.4,195.2 L143.6,210.0 L143.8,230.2 L144.0,253.7 L144.2,272.0 L144.4,283.1 L144.6,291.9 L144.8,300.0 L145.0,308.7 L145.2,317.6 L145.4,326.1 L145.6,333.9 L145.8,340.3 L146.0,345.0 L146.2,348.5 L146.4,351.8 L146.6,354.5 L146.8,356.3 L147.0,357.0 L147.2,356.8 L147.4,356.2 L147.6,355.3 L147.8,354.3 L148.0,353.0 L148.2,351.8 L148.4,350.6 L148.6,349.4 L148.8,348.1 L149.0,346.7 L149.2,345.2 L149.4,343.6 L149.6,342.0 L149.8,340.4 L150.0,339.0 L150.2,337.6 L150.4,336.5 L150.6,335.5 L150.8,334.6 L151.0,333.6 L151.2,332.7 L151.4,331.8 L151.6,331.0 L151.8,330.4 L152.0,329.8 L152.2,329.5 L152.4,329.4 L152.6,329.8 L152.8,330.9 L153.0,332.5 L153.2,334.7 L153.4,337.2 L153.6,340.0 L153.8,344.3 L154.0,350.8 L154.2,358.5 L154.4,366.3 L154.6,373.8 L154.8,382.3 L155.0,390.7 L155.2,397.6 L155.4,401.9 L155.6,405.6 L155.8,408.9 L156.0,411.3 L156.2,412.7 L156.4,413.1 L156.6,413.2 L156.8,413.4 L157.0,413.5 L157.2,413.6 L157.4,413.7 L157.6,413.8 L157.8,413.9 L158.0,414.0 L158.2,414.1 L158.4,414.1 L158.6,414.2 L158.8,414.2 L159.0,414.2 L159.2,414.3 L159.4,414.3 L159.6,414.3 L159.8,414.3 L160.0,414.3 L160.2,414.3 L160.4,414.3 L160.6,414.3 L160.8,414.3 L161.0,414.2 L161.2,414.2 L161.4,414.2 L161.6,414.1 L161.8,414.1 L162.0,414.0 L162.2,414.0 L162.4,413.9 L162.6,413.9 L162.8,413.8 L163.0,413.8 L163.2,413.7 L163.4,413.7 L163.6,413.6 L163.8,413.6 L164.0,413.5 L164.2,413.5 L164.4,413.4 L164.6,413.4 L164.8,413.4 L165.0,413.3 L165.2,413.3 L165.4,413.3 L165.6,413.2 L165.8,413.2 L166.0,413.2 L166.2,413.2 L166.4,413.2 L166.6,413.2 L166.8,413.2 L167.0,413.3 L167.2,413.3 L167.4,413.4 L167.6,413.4 L167.8,413.5 L168.0,413.6 L168.2,413.6 L168.4,413.7 L168.6,413.8 L168.8,413.9 L169.0,414.0 L169.2,414.1 L169.4,414.2 L169.6,414.3 L169.8,414.4 L170.0,414.5 L170.2,414.6 L170.4,414.7 L170.6,414.7 L170.8,414.8 L171.0,414.9 L171.2,415.0 L171.4,415.0 L171.6,415.1 L171.8,415.2 L172.0,415.2 L172.2,415.2 L172.4,415.3 L172.6,415.3 L172.8,415.3 L173.0,415.3 L173.2,415.3 L173.4,415.3 L173.6,415.3 L173.8,415.3 L174.0,415.3 L174.2,415.3 L174.4,415.3 L174.6,415.2 L174.8,415.2 L175.0,415.2 L175.2,415.2 L175.4,415.2 L175.6,415.2 L175.8,415.1 L176.0,415.1 L176.2,415.1 L176.4,415.1 L176.6,415.1 L176.8,415.0 L177.0,415.0 L177.2,415.0 L177.4,415.0 L177.6,415.0 L177.8,414.9 L178.0,414.9 L178.2,414.9 L178.4,414.9 L178.6,414.9 L178.8,414.8 L179.0,414.8 L179.2,414.8 L179.4,414.8 L179.6,414.8 L179.8,414.7 L180.0,414.7 L180.2,414.7 L180.4,414.7 L180.6,414.7 L180.8,414.6 L181.0,414.6 L181.2,414.6 L181.4,414.5 L181.6,414.5 L181.8,414.5 L182.0,414.5 L182.2,414.4 L182.4,414.4 L182.6,414.4 L182.8,414.4 L183.0,414.4 L183.2,414.3 L183.4,414.3 L183.6,414.3 L183.8,414.3 L184.0,414.3 L184.2,414.3 L184.4,414.3 L184.6,414.3 L184.8,414.3 L185.0,414.4 L185.2,414.4 L185.4,414.4 L185.6,414.5 L185.8,414.5 L186.0,414.6 L186.2,414.6 L186.4,414.7 L186.6,414.7 L186.8,414.8 L187.0,414.9 L187.2,414.9 L187.4,415.0 L187.6,415.1 L187.8,415.1 L188.0,415.2 L188.2,415.3 L188.4,415.3 L188.6,415.4 L188.8,415.5 L189.0,415.5 L189.2,415.6 L189.4,415.7 L189.6,415.7 L189.8,415.8 L190.0,415.8 L190.2,415.9 L190.4,415.9 L190.6,416.0 L190.8,416.0 L191.0,416.1 L191.2,416.1 L191.4,416.1 L191.6,416.2 L191.8,416.2 L192.0,416.2 L192.2,416.3 L192.4,416.3 L192.6,416.4 L192.8,416.4 L193.0,416.4 L193.2,416.5 L193.4,416.5 L193.6,416.5 L193.8,416.6 L194.0,416.6 L194.2,416.6 L194.4,416.7 L194.6,416.7 L194.8,416.7 L195.0,416.7 L195.2,416.8 L195.4,416.8 L195.6,416.8 L195.8,416.8 L196.0,416.8 L196.2,416.9 L196.4,416.9 L196.6,416.9 L196.8,416.9 L197.0,416.9 L197.2,416.9 L197.4,416.9 L197.6,416.9 L197.8,416.8 L198.0,416.8 L198.2,416.7 L198.4,416.7 L198.6,416.6 L198.8,416.5 L199.0,416.4 L199.2,416.3 L199.4,416.2 L199.6,416.1 L199.8,416.0 L200.0,415.8 L200.2,415.7 L200.4,415.6 L200.6,415.5 L200.8,415.4 L201.0,415.3 L201.2,415.2 L201.4,415.1 L201.6,415.0 L201.8,414.9 L202.0,414.9 L202.2,414.8 L202.4,414.8 L202.6,414.7 L202.8,414.7 L203.0,414.6 L203.2,414.6 L203.4,414.6 L203.6,414.5 L203.8,414.5 L204.0,414.5 L204.2,414.5 L204.4,414.4 L204.6,414.4 L204.8,414.4 L205.0,414.4 L205.2,414.4 L205.4,414.3 L205.6,414.3 L205.8,414.3 L206.0,414.2 L206.2,414.2 L206.4,414.1 L206.6,414.1 L206.8,414.1 L207.0,414.0 L207.2,413.9 L207.4,413.9 L207.6,413.8 L207.8,413.6 L208.0,413.5 L208.2,413.4 L208.4,413.2 L208.6,413.1 L208.8,412.9 L209.0,412.7 L209.2,412.6 L209.4,412.4 L209.6,412.2 L209.8,412.0 L210.0,411.9 L210.2,411.7 L210.4,411.5 L210.6,411.3 L210.8,411.0 L211.0,410.8 L211.2,410.5 L211.4,410.2 L211.6,410.0 L211.8,409.7 L212.0,409.5 L212.2,409.3 L212.4,409.2 L212.6,409.1 L212.8,409.1 L213.0,409.2 L213.2,409.4 L213.4,409.6 L213.6,409.8 L213.8,410.1 L214.0,410.4 L214.2,410.7 L214.4,411.0 L214.6,411.2 L214.8,411.4 L215.0,411.6 L215.2,411.6 L215.4,411.6 L215.6,411.6 L215.8,411.5 L216.0,411.5 L216.2,411.4 L216.4,411.4 L216.6,411.3 L216.8,411.2 L217.0,411.1 L217.2,411.0 L217.4,410.8 L217.6,410.7 L217.8,410.4 L218.0,409.9 L218.2,409.2 L218.4,408.3 L218.6,407.4 L218.8,406.4 L219.0,405.5 L219.2,404.6 L219.4,403.8 L219.6,402.9 L219.8,401.9 L220.0,400.9 L220.2,399.9 L220.4,398.9 L220.6,398.1 L220.8,397.5 L221.0,397.1 L221.2,396.9 L221.4,396.9 L221.6,396.9 L221.8,397.0 L222.0,397.0 L222.2,397.1 L222.4,397.2 L222.6,397.3 L222.8,397.4 L223.0,397.5 L223.2,397.6 L223.4,397.8 L223.6,398.1 L223.8,398.5 L224.0,398.9 L224.2,399.3 L224.4,399.7 L224.6,400.0 L224.8,400.1 L225.0,400.0 L225.2,399.6 L225.4,399.1 L225.6,398.5 L225.8,397.9 L226.0,397.4 L226.2,397.1 L226.4,396.9 L226.6,396.8 L226.8,396.7 L227.0,396.7 L227.2,396.6 L227.4,396.5 L227.6,396.5 L227.8,396.4 L228.0,396.4 L228.2,396.4 L228.4,396.5 L228.6,396.7 L228.8,397.0 L229.0,397.5 L229.2,398.0 L229.4,398.6 L229.6,399.2 L229.8,399.8 L230.0,400.4 L230.2,401.0 L230.4,401.6 L230.6,402.3 L230.8,403.1 L231.0,403.9 L231.2,404.7 L231.4,405.5 L231.6,406.2 L231.8,406.9 L232.0,407.5 L232.2,408.0 L232.4,408.6 L232.6,409.1 L232.8,409.6 L233.0,410.1 L233.2,410.6 L233.4,411.1 L233.6,411.5 L233.8,411.9 L234.0,412.3 L234.2,412.7 L234.4,413.1 L234.6,413.4 L234.8,413.7 L235.0,414.0 L235.2,414.3 L235.4,414.5 L235.6,414.8 L235.8,415.1 L236.0,415.3 L236.2,415.6 L236.4,415.9 L236.6,416.1 L236.8,416.3 L237.0,416.5 L237.2,416.8 L237.4,417.0 L237.6,417.1 L237.8,417.3 L238.0,417.4 L238.2,417.6 L238.4,417.7 L238.6,417.7 L238.8,417.8 L239.0,417.8 L239.2,417.8 L239.4,417.8 L239.6,417.8 L239.8,417.8 L240.0,417.8 L240.2,417.9 L240.4,417.9 L240.6,417.9 L240.8,417.9 L241.0,417.9 L241.2,417.9 L241.4,417.9 L241.6,417.9 L241.8,417.9 L242.0,417.9 L242.2,417.9 L242.4,417.9 L242.6,417.9 L242.8,417.9 L243.0,417.9 L243.2,418.0 L243.4,418.0 L243.6,418.0 L243.8,418.0 L244.0,418.0 L244.2,418.0 L244.4,418.0 L244.6,418.0 L244.8,418.0 L245.0,418.0 L245.2,418.0 L245.4,418.0 L245.6,418.0 L245.8,418.0 L246.0,418.0 L246.2,418.0 L246.4,418.0 L246.6,418.0 L246.8,418.0 L247.0,418.0 L247.2,418.0 L247.4,418.0 L247.6,418.0 L247.8,418.0 L248.0,418.0 L248.2,418.0 L248.4,418.0 L248.6,418.0 L248.8,418.0 L249.0,418.0 L249.2,418.0 L249.4,418.0 L249.6,418.0 L249.8,418.0 L250.0,418.0 L250.2,418.0 L250.4,418.0 L250.6,418.0 L250.8,418.0 L251.0,418.0 L251.2,418.0 L251.4,418.0 L251.6,418.0 L251.8,418.0 L252.0,418.0 L252.2,418.0 L252.4,418.0 L252.6,418.0 L252.8,418.0 L253.0,418.0 L253.2,418.0 L253.4,418.0 L253.6,418.0 L253.8,418.0 L254.0,418.0 L254.2,418.0 L254.4,418.0 L254.6,418.0 L254.8,418.0 L255.0,418.0 L255.2,418.0 L255.4,418.0 L255.6,418.0 L255.8,418.0 L256.0,418.0 L256.2,418.0 L256.4,418.0 L256.6,418.0 L256.8,418.0 L257.0,418.0 L257.2,418.0 L257.4,418.0 L257.6,418.0 L257.8,418.0 L258.0,418.0 L258.2,418.0 L258.4,418.0 L258.6,418.0 L258.8,418.0 L259.0,418.0 L259.2,418.0 L259.4,418.0 L259.6,418.0 L259.8,418.0 L260.0,418.0 L260.2,418.0 L260.4,418.0 L260.6,418.0 L260.8,418.0 L261.0,418.0 L261.2,418.0 L261.4,418.0 L261.6,418.0 L261.8,418.0 L262.0,418.0 L262.2,418.0 L262.4,418.0 L262.6,418.0 L262.8,418.0 L263.0,418.0 L263.2,418.0 L263.4,418.0 L263.6,418.0 L263.8,418.0 L264.0,418.0 L264.2,418.0 L264.4,418.0 L264.6,418.0 L264.8,418.0 L265.0,418.0 L265.2,418.0 L265.4,418.0 L265.6,418.0 L265.8,418.0 L266.0,418.0 L266.2,418.0 L266.4,418.0 L266.6,418.0 L266.8,418.0 L267.0,418.0 L267.2,418.0 L267.4,418.0 L267.6,418.1 L267.8,418.1 L268.0,418.1 L268.2,418.1 L268.4,418.1 L268.6,418.1 L268.8,418.1 L269.0,418.1 L269.2,418.1 L269.4,418.1 L269.6,418.1 L269.8,418.1 L270.0,418.1 L270.2,418.1 L270.4,418.1 L270.6,418.1 L270.8,418.1 L271.0,418.1 L271.2,418.1 L271.4,418.1 L271.6,418.1 L271.8,418.1 L272.0,418.1 L272.2,418.1 L272.4,418.1 L272.6,418.1 L272.8,418.1 L273.0,418.1 L273.2,418.1 L273.4,418.1 L273.6,418.1 L273.8,418.1 L274.0,418.1 L274.2,418.1 L274.4,418.1 L274.6,418.1 L274.8,418.1 L275.0,418.1 L275.2,418.1 L275.4,418.1 L275.6,418.0 L275.8,418.0 L276.0,418.0 L276.2,417.9 L276.4,417.8 L276.6,417.8 L276.8,417.7 L277.0,417.6 L277.2,417.6 L277.4,417.5 L277.6,417.5 L277.8,417.4 L278.0,417.3 L278.2,417.3 L278.4,417.3 L278.6,417.2 L278.8,417.2 L279.0,417.2 L279.2,417.2 L279.4,417.2 L279.6,417.2 L279.8,417.3 L280.0,417.3 L280.2,417.4 L280.4,417.4 L280.6,417.5 L280.8,417.5 L281.0,417.6 L281.2,417.7 L281.4,417.7 L281.6,417.8 L281.8,417.8 L282.0,417.9 L282.2,417.9 L282.4,417.9 L282.6,418.0 L282.8,418.0 L283.0,418.0 L283.2,418.0 L283.4,418.0 L283.6,418.0 L283.8,418.0 L284.0,418.0 L284.2,418.0 L284.4,418.0 L284.6,418.0 L284.8,418.0 L285.0,418.0 L285.2,418.0 L285.4,418.0 L285.6,418.0 L285.8,418.0 L286.0,418.0 L286.2,418.0 L286.4,418.0 L286.6,418.0 L286.8,418.0 L287.0,418.0 L287.2,418.0 L287.4,418.0 L287.6,418.1 L287.8,418.1 L288.0,418.1 L288.2,418.1 L288.4,418.1 L288.6,418.1 L288.8,418.1 L289.0,418.1 L289.2,418.1 L289.4,418.1 L289.6,418.1 L289.8,418.1 L290.0,418.1 L290.2,418.1 L290.4,418.1 L290.6,418.1 L290.8,418.1 L291.0,418.1 L291.2,418.1 L291.4,418.1 L291.6,418.1 L291.8,418.1 L292.0,418.1 L292.2,418.1 L292.4,418.1 L292.6,418.1 L292.8,418.1 L293.0,418.1 L293.2,418.1 L293.4,418.1 L293.6,418.1 L293.8,418.1 L294.0,418.1 L294.2,418.1 L294.4,418.1 L294.6,418.1 L294.8,418.1 L295.0,418.1 L295.2,418.1 L295.4,418.1 L295.6,418.1 L295.8,418.1 L296.0,418.1 L296.2,418.1 L296.4,418.1 L296.6,418.1 L296.8,418.1 L297.0,418.1 L297.2,418.1 L297.4,418.1 L297.6,418.1 L297.8,418.1 L298.0,418.1 L298.2,418.1 L298.4,418.1 L298.6,418.1 L298.8,418.1 L299.0,418.1 L299.2,418.1 L299.4,418.1 L299.6,418.1 L299.8,418.1 L300.0,418.1 L300.2,418.1 L300.4,418.1 L300.6,418.1 L300.8,418.1 L301.0,418.2 L301.2,418.2 L301.4,418.2 L301.6,418.2 L301.8,418.2 L302.0,418.2 L302.2,418.2 L302.4,418.2 L302.6,418.2 L302.8,418.2 L303.0,418.2 L303.2,418.2 L303.4,418.2 L303.6,418.2 L303.8,418.2 L304.0,418.2 L304.2,418.2 L304.4,418.2 L304.6,418.2 L304.8,418.2 L305.0,418.2 L305.2,418.2 L305.4,418.2 L305.6,418.2 L305.8,418.2 L306.0,418.2 L306.2,418.2 L306.4,418.2 L306.6,418.2 L306.8,418.2 L307.0,418.2 L307.2,418.2 L307.4,418.2 L307.6,418.2 L307.8,418.2 L308.0,418.2 L308.2,418.2 L308.4,418.2 L308.6,418.2 L308.8,418.2 L309.0,418.2 L309.2,418.2 L309.4,418.2 L309.6,418.2 L309.8,418.2 L310.0,418.2 L310.2,418.2 L310.4,418.2 L310.6,418.2 L310.8,418.2 L311.0,418.2 L311.2,418.2 L311.4,418.2 L311.6,418.2 L311.8,418.2 L312.0,418.2 L312.2,418.2 L312.4,418.2 L312.6,418.2 L312.8,418.2 L313.0,418.2 L313.2,418.2 L313.4,418.2 L313.6,418.2 L313.8,418.2 L314.0,418.2 L314.2,418.2 L314.4,418.2 L314.6,418.2 L314.8,418.2 L315.0,418.2 L315.2,418.2 L315.4,418.2 L315.6,418.2 L315.8,418.2 L316.0,418.2 L316.2,418.2 L316.4,418.2 L316.6,418.2 L316.8,418.2 L317.0,418.2 L317.2,418.2 L317.4,418.2 L317.6,418.2 L317.8,418.2 L318.0,418.2 L318.2,418.2 L318.4,418.2 L318.6,418.2 L318.8,418.2 L319.0,418.2 L319.2,418.2 L319.4,418.2 L319.6,418.2 L319.8,418.2 L320.0,418.2 L320.2,418.2 L320.4,418.2 L320.6,418.2 L320.8,418.2 L321.0,418.2 L321.2,418.2 L321.4,418.2 L321.6,418.2 L321.8,418.2 L322.0,418.2 L322.2,418.2 L322.4,418.2 L322.6,418.2 L322.8,418.2 L323.0,418.2 L323.2,418.2 L323.4,418.2 L323.6,418.2 L323.8,418.2 L324.0,418.2 L324.2,418.2 L324.4,418.2 L324.6,418.2 L324.8,418.2 L325.0,418.2 L325.2,418.2 L325.4,418.2 L325.6,418.2 L325.8,418.2 L326.0,418.2 L326.2,418.2 L326.4,418.2 L326.6,418.2 L326.8,418.2 L327.0,418.1 L327.2,418.1 L327.4,418.1 L327.6,418.1 L327.8,418.0 L328.0,418.0 L328.2,417.9 L328.4,417.9 L328.6,417.9 L328.8,417.8 L329.0,417.8 L329.2,417.7 L329.4,417.7 L329.6,417.7 L329.8,417.6 L330.0,417.6 L330.2,417.5 L330.4,417.5 L330.6,417.5 L330.8,417.5 L331.0,417.4 L331.2,417.4 L331.4,417.4 L331.6,417.4 L331.8,417.4 L332.0,417.4 L332.2,417.4 L332.4,417.4 L332.6,417.5 L332.8,417.5 L333.0,417.5 L333.2,417.6 L333.4,417.6 L333.6,417.6 L333.8,417.7 L334.0,417.7 L334.2,417.8 L334.4,417.8 L334.6,417.8 L334.8,417.9 L335.0,417.9 L335.2,417.9 L335.4,418.0 L335.6,418.0 L335.8,418.0 L336.0,418.0 L336.2,418.0 L336.4,418.0 L336.6,418.0 L336.8,418.0 L337.0,418.0 L337.2,418.0 L337.4,418.0 L337.6,418.0 L337.8,418.0 L338.0,418.0 L338.2,418.0 L338.4,418.0 L338.6,418.0 L338.8,418.0 L339.0,418.0 L339.2,418.0 L339.4,418.0 L339.6,418.0 L339.8,418.0 L340.0,418.0 L340.2,418.0 L340.4,418.0 L340.6,418.0 L340.8,418.0 L341.0,418.0 L341.2,418.0 L341.4,418.0 L341.6,418.0 L341.8,418.0 L342.0,418.0 L342.2,418.0 L342.4,418.0 L342.6,418.0 L342.8,418.0 L343.0,418.0 L343.2,418.0 L343.4,418.0 L343.6,418.0 L343.8,418.0 L344.0,418.0 L344.2,418.0 L344.4,418.0 L344.6,418.0 L344.8,418.0 L345.0,418.0 L345.2,418.0 L345.4,418.0 L345.6,418.0 L345.8,418.0 L346.0,418.0 L346.2,418.0 L346.4,418.0 L346.6,418.0 L346.8,418.0 L347.0,418.0 L347.2,418.0 L347.4,418.0 L347.6,418.0 L347.8,418.0 L348.0,418.0 L348.2,418.0 L348.4,418.0 L348.6,418.0 L348.8,418.0 L349.0,418.0 L349.2,418.0 L349.4,418.0 L349.6,418.0 L349.8,418.0 L350.0,418.0 L350.2,418.0 L350.4,418.0 L350.6,418.0 L350.8,418.0 L351.0,418.0 L351.2,418.0 L351.4,418.0 L351.6,418.0 L351.8,418.0 L352.0,418.0 L352.2,418.0 L352.4,418.0 L352.6,418.0 L352.8,418.0 L353.0,418.0 L353.2,418.0 L353.4,418.0 L353.6,418.0 L353.8,418.0 L354.0,418.0 L354.2,418.0 L354.4,418.0 L354.6,418.0 L354.8,418.0 L355.0,418.0 L355.2,418.0 L355.4,417.9 L355.6,417.9 L355.8,417.8 L356.0,417.6 L356.2,417.5 L356.4,417.3 L356.6,417.2 L356.8,417.0 L357.0,416.8 L357.2,416.6 L357.4,416.4 L357.6,416.2 L357.8,416.0 L358.0,415.8 L358.2,415.6 L358.4,415.5 L358.6,415.3 L358.8,415.2 L359.0,415.1 L359.2,415.0 L359.4,414.9 L359.6,414.9 L359.8,414.9 L360.0,414.9 L360.2,415.0 L360.4,415.1 L360.6,415.2 L360.8,415.3 L361.0,415.4 L361.2,415.6 L361.4,415.8 L361.6,415.9 L361.8,416.1 L362.0,416.3 L362.2,416.5 L362.4,416.6 L362.6,416.8 L362.8,417.0 L363.0,417.1 L363.2,417.3 L363.4,417.4 L363.6,417.5 L363.8,417.6 L364.0,417.6 L364.2,417.6 L364.4,417.7 L364.6,417.7 L364.8,417.7 L365.0,417.8 L365.2,417.8 L365.4,417.8 L365.6,417.8 L365.8,417.9 L366.0,417.9 L366.2,417.9 L366.4,417.9 L366.6,417.9 L366.8,418.0 L367.0,418.0 L367.2,418.0 L367.4,418.0 L367.6,418.0 L367.8,418.0 L368.0,418.0 L368.2,418.0 L368.4,418.0 L368.6,418.0 L368.8,418.0 L369.0,418.0 L369.2,418.0 L369.4,418.0 L369.6,418.0 L369.8,418.0 L370.0,418.0 L370.2,418.0 L370.4,418.0 L370.6,418.0 L370.8,418.0 L371.0,418.0 L371.2,418.0 L371.4,418.0 L371.6,418.0 L371.8,418.0 L372.0,418.0 L372.2,418.0 L372.4,418.0 L372.6,418.0 L372.8,418.0 L373.0,418.0 L373.2,418.0 L373.4,418.0 L373.6,418.0 L373.8,418.0 L374.0,418.0 L374.2,418.0 L374.4,418.0 L374.6,418.0 L374.8,418.0 L375.0,418.0 L375.2,418.0 L375.4,418.0 L375.6,418.0 L375.8,418.0 L376.0,418.0 L376.2,418.0 L376.4,418.0 L376.6,418.0 L376.8,418.0 L377.0,418.0 L377.2,418.0 L377.4,418.0 L377.6,418.0 L377.8,418.0 L378.0,418.0 L378.2,418.0 L378.4,418.0 L378.6,418.0 L378.8,418.0 L379.0,418.0 L379.2,418.0 L379.4,418.0 L379.6,418.0 L379.8,418.0 L380.0,418.0 L380.2,417.9 L380.4,417.9 L380.6,417.9 L380.8,417.9 L381.0,417.9 L381.2,417.9 L381.4,417.9 L381.6,417.9 L381.8,417.9 L382.0,417.9 L382.2,417.9 L382.4,417.9 L382.6,417.9 L382.8,417.9 L383.0,417.9 L383.2,417.9 L383.4,417.9 L383.6,417.9 L383.8,417.9 L384.0,417.9 L384.2,417.9 L384.4,417.9 L384.6,417.9 L384.8,417.9 L385.0,417.9 L385.2,417.9 L385.4,417.9 L385.6,417.9 L385.8,417.9 L386.0,417.9 L386.2,417.9 L386.4,417.9 L386.6,417.9 L386.8,417.9 L387.0,417.9 L387.2,417.9 L387.4,417.9 L387.6,417.8 L387.8,417.8 L388.0,417.8 L388.2,417.8 L388.4,417.8 L388.6,417.8 L388.8,417.8 L389.0,417.8 L389.2,417.8 L389.4,417.8 L389.6,417.8 L389.8,417.8 L390.0,417.8 L390.2,417.8 L390.4,417.8 L390.6,417.7 L390.8,417.7 L391.0,417.6 L391.2,417.6 L391.4,417.5 L391.6,417.4 L391.8,417.4 L392.0,417.3 L392.2,417.2 L392.4,417.1 L392.6,417.1 L392.8,417.0 L393.0,416.9 L393.2,416.8 L393.4,416.8 L393.6,416.7 L393.8,416.6 L394.0,416.6 L394.2,416.6 L394.4,416.5 L394.6,416.5 L394.8,416.5 L395.0,416.5 L395.2,416.5 L395.4,416.6 L395.6,416.6 L395.8,416.7 L396.0,416.7 L396.2,416.8 L396.4,416.9 L396.6,416.9 L396.8,417.0 L397.0,417.1 L397.2,417.2 L397.4,417.2 L397.6,417.3 L397.8,417.4 L398.0,417.4 L398.2,417.5 L398.4,417.5 L398.6,417.6 L398.8,417.6 L399.0,417.6 L399.2,417.6 L399.4,417.6 L399.6,417.6 L399.8,417.6 L400.0,417.6 L400.2,417.6 L400.4,417.6 L400.6,417.6 L400.8,417.6 L401.0,417.6 L401.2,417.6 L401.4,417.6 L401.6,417.6 L401.8,417.6 L402.0,417.6 L402.2,417.6 L402.4,417.6 L402.6,417.6 L402.8,417.6 L403.0,417.6 L403.2,417.6 L403.4,417.6 L403.6,417.6 L403.8,417.6 L404.0,417.6 L404.2,417.6 L404.4,417.6 L404.6,417.6 L404.8,417.6 L405.0,417.6 L405.2,417.6 L405.4,417.6 L405.6,417.6 L405.8,417.6 L406.0,417.6 L406.2,417.6 L406.4,417.6 L406.6,417.6 L406.8,417.6 L407.0,417.6 L407.2,417.6 L407.4,417.6 L407.6,417.6 L407.8,417.6 L408.0,417.6 L408.2,417.6 L408.4,417.6 L408.6,417.6 L408.8,417.6 L409.0,417.6 L409.2,417.6 L409.4,417.6 L409.6,417.6 L409.8,417.6 L410.0,417.6 L410.2,417.6 L410.4,417.6 L410.6,417.6 L410.8,417.6 L411.0,417.6 L411.2,417.6 L411.4,417.6 L411.6,417.6 L411.8,417.6 L412.0,417.5 L412.2,417.5 L412.4,417.5 L412.6,417.5 L412.8,417.5 L413.0,417.5 L413.2,417.5 L413.4,417.5 L413.6,417.5 L413.8,417.5 L414.0,417.5 L414.2,417.5 L414.4,417.5 L414.6,417.5 L414.8,417.5 L415.0,417.5 L415.2,417.5 L415.4,417.5 L415.6,417.5 L415.8,417.5 L416.0,417.5 L416.2,417.5 L416.4,417.5 L416.6,417.5 L416.8,417.5 L417.0,417.5 L417.2,417.5 L417.4,417.5 L417.6,417.5 L417.8,417.5 L418.0,417.5 L418.2,417.5 L418.4,417.5 L418.6,417.5 L418.8,417.5 L419.0,417.5 L419.2,417.5 L419.4,417.5 L419.6,417.5 L419.8,417.5 L420.0,417.5 L420.2,417.5 L420.4,417.5 L420.6,417.5 L420.8,417.5 L421.0,417.5 L421.2,417.5 L421.4,417.5 L421.6,417.5 L421.8,417.5 L422.0,417.5 L422.2,417.4 L422.4,417.4 L422.6,417.4 L422.8,417.4 L423.0,417.4 L423.2,417.4 L423.4,417.4 L423.6,417.4 L423.8,417.4 L424.0,417.4 L424.2,417.4 L424.4,417.4 L424.6,417.4 L424.8,417.4 L425.0,417.4 L425.2,417.4 L425.4,417.4 L425.6,417.4 L425.8,417.4 L426.0,417.4 L426.2,417.4 L426.4,417.4 L426.6,417.4 L426.8,417.4 L427.0,417.4 L427.2,417.4 L427.4,417.4 L427.6,417.4 L427.8,417.4 L428.0,417.4 L428.2,417.4 L428.4,417.4 L428.6,417.4 L428.8,417.4 L429.0,417.4 L429.2,417.4 L429.4,417.4 L429.6,417.4 L429.8,417.4 L430.0,417.3 L430.2,417.3 L430.4,417.3 L430.6,417.3 L430.8,417.3 L431.0,417.3 L431.2,417.3 L431.4,417.3 L431.6,417.3 L431.8,417.3 L432.0,417.3 L432.2,417.3 L432.4,417.3 L432.6,417.3 L432.8,417.3 L433.0,417.3 L433.2,417.3 L433.4,417.3 L433.6,417.3 L433.8,417.3 L434.0,417.3 L434.2,417.3 L434.4,417.3 L434.6,417.3 L434.8,417.3 L435.0,417.3 L435.2,417.3 L435.4,417.3 L435.6,417.3 L435.8,417.3 L436.0,417.3 L436.2,417.3 L436.4,417.3 L436.6,417.3 L436.8,417.2 L437.0,417.2 L437.2,417.2 L437.4,417.2 L437.6,417.2 L437.8,417.2 L438.0,417.2 L438.2,417.2 L438.4,417.2 L438.6,417.2 L438.8,417.2 L439.0,417.2 L439.2,417.2 L439.4,417.2 L439.6,417.2 L439.8,417.2 L440.0,417.2 L440.2,417.2 L440.4,417.2 L440.6,417.2 L440.8,417.2 L441.0,417.2 L441.2,417.2 L441.4,417.2 L441.6,417.2 L441.8,417.2 L442.0,417.2 L442.2,417.2 L442.4,417.2 L442.6,417.2 L442.8,417.1 L443.0,417.1 L443.2,417.1 L443.4,417.1 L443.6,417.1 L443.8,417.1 L444.0,417.1 L444.2,417.1 L444.4,417.1 L444.6,417.1 L444.8,417.1 L445.0,417.1 L445.2,417.1 L445.4,417.1 L445.6,417.1 L445.8,417.1 L446.0,417.1 L446.2,417.1 L446.4,417.1 L446.6,417.1 L446.8,417.0 L447.0,417.0 L447.2,417.0 L447.4,417.0 L447.6,417.0 L447.8,417.0 L448.0,417.0 L448.2,417.0 L448.4,417.0 L448.6,417.0 L448.8,417.0 L449.0,417.0 L449.2,417.0 L449.4,417.0 L449.6,417.0 L449.8,417.0 L450.0,417.0 L450.2,416.9 L450.4,416.9 L450.6,416.9 L450.8,416.9 L451.0,416.9 L451.2,416.9 L451.4,416.9 L451.6,416.9 L451.8,416.9 L452.0,416.9 L452.2,416.9 L452.4,416.9 L452.6,416.9 L452.8,416.9 L453.0,416.9 L453.2,416.8 L453.4,416.8 L453.6,416.8 L453.8,416.8 L454.0,416.8 L454.2,416.8 L454.4,416.8 L454.6,416.8 L454.8,416.8 L455.0,416.8 L455.2,416.8 L455.4,416.8 L455.6,416.8 L455.8,416.8 L456.0,416.7 L456.2,416.7 L456.4,416.7 L456.6,416.7 L456.8,416.7 L457.0,416.7 L457.2,416.7 L457.4,416.7 L457.6,416.7 L457.8,416.7 L458.0,416.7 L458.2,416.7 L458.4,416.7 L458.6,416.7 L458.8,416.6 L459.0,416.6 L459.2,416.6 L459.4,416.6 L459.6,416.6 L459.8,416.6 L460.0,416.6 L460.2,416.6 L460.4,416.6 L460.6,416.6 L460.8,416.6 L461.0,416.6 L461.2,416.6 L461.4,416.5 L461.6,416.5 L461.8,416.5 L462.0,416.5 L462.2,416.5 L462.4,416.5 L462.6,416.5 L462.8,416.5 L463.0,416.5 L463.2,416.5 L463.4,416.4 L463.6,416.4 L463.8,416.4 L464.0,416.4 L464.2,416.4 L464.4,416.4 L464.6,416.4 L464.8,416.4 L465.0,416.4 L465.2,416.4 L465.4,416.3 L465.6,416.3 L465.8,416.3 L466.0,416.3 L466.2,416.3 L466.4,416.3 L466.6,416.3 L466.8,416.3 L467.0,416.3 L467.2,416.2 L467.4,416.2 L467.6,416.2 L467.8,416.2 L468.0,416.2 L468.2,416.2 L468.4,416.2 L468.6,416.2 L468.8,416.1 L469.0,416.1 L469.2,416.1 L469.4,416.1 L469.6,416.1 L469.8,416.1 L470.0,416.1 L470.2,416.1 L470.4,416.1 L470.6,416.0 L470.8,416.0 L471.0,416.0 L471.2,416.0 L471.4,416.0 L471.6,416.0 L471.8,416.0 L472.0,416.0 L472.2,416.0 L472.4,415.9 L472.6,415.9 L472.8,415.9 L473.0,415.9 L473.2,415.9 L473.4,415.9 L473.6,415.9 L473.8,415.9 L474.0,415.9 L474.2,415.8 L474.4,415.8 L474.6,415.8 L474.8,415.8 L475.0,415.8 L475.2,415.8 L475.4,415.8 L475.6,415.8 L475.8,415.8 L476.0,415.8 L476.2,415.7 L476.4,415.7 L476.6,415.7 L476.8,415.7 L477.0,415.7 L477.2,415.7 L477.4,415.7 L477.6,415.7 L477.8,415.7 L478.0,415.7 L478.2,415.7 L478.4,415.7 L478.6,415.6 L478.8,415.6 L479.0,415.6 L479.2,415.6 L479.4,415.6 L479.6,415.6 L479.8,415.6 L480.0,415.6 L480.2,415.6 L480.4,415.6 L480.6,415.6 L480.8,415.6 L481.0,415.6 L481.2,415.6 L481.4,415.6 L481.6,415.6 L481.8,415.6 L482.0,415.5 L482.2,415.5 L482.4,415.5 L482.6,415.5 L482.8,415.5 L483.0,415.5 L483.2,415.5 L483.4,415.5 L483.6,415.5 L483.8,415.5 L484.0,415.5 L484.2,415.5 L484.4,415.5 L484.6,415.5 L484.8,415.5 L485.0,415.5 L485.2,415.5 L485.4,415.5 L485.6,415.5 L485.8,415.5 L486.0,415.5 L486.2,415.5 L486.4,415.5 L486.6,415.5 L486.8,415.5 L487.0,415.5 L487.2,415.5 L487.4,415.4 L487.6,415.4 L487.8,415.4 L488.0,415.4 L488.2,415.4 L488.4,415.4 L488.6,415.4 L488.8,415.4 L489.0,415.4 L489.2,415.4 L489.4,415.4 L489.6,415.4 L489.8,415.4 L490.0,415.4 L490.2,415.4 L490.4,415.4 L490.6,415.4 L490.8,415.4 L491.0,415.4 L491.2,415.4 L491.4,415.4 L491.6,415.4 L491.8,415.4 L492.0,415.4 L492.2,415.4 L492.4,415.4 L492.6,415.4 L492.8,415.4 L493.0,415.4 L493.2,415.4 L493.4,415.4 L493.6,415.4 L493.8,415.4 L494.0,415.3 L494.2,415.3 L494.4,415.3 L494.6,415.3 L494.8,415.3 L495.0,415.3 L495.2,415.3 L495.4,415.3 L495.6,415.3 L495.8,415.3 L496.0,415.3 L496.2,415.3 L496.4,415.3 L496.6,415.3 L496.8,415.3 L497.0,415.3 L497.2,415.3 L497.4,415.3 L497.6,415.3 L497.8,415.3 L498.0,415.3 L498.2,415.3 L498.4,415.2 L498.6,415.2 L498.8,415.2 L499.0,415.2 L499.2,415.2 L499.4,415.2 L499.6,415.2 L499.8,415.2 L500.0,415.2 L500.2,415.2 L500.4,415.2 L500.6,415.2 L500.8,415.2 L501.0,415.2 L501.2,415.2 L501.4,415.1 L501.6,415.1 L501.8,415.1 L502.0,415.1 L502.2,415.1 L502.4,415.1 L502.6,415.1 L502.8,415.1 L503.0,415.0 L503.2,415.0 L503.4,415.0 L503.6,415.0 L503.8,415.0 L504.0,415.0 L504.2,415.0 L504.4,414.9 L504.6,414.9 L504.8,414.9 L505.0,414.9 L505.2,414.9 L505.4,414.9 L505.6,414.8 L505.8,414.8 L506.0,414.8 L506.2,414.8 L506.4,414.8 L506.6,414.8 L506.8,414.7 L507.0,414.7 L507.2,414.7 L507.4,414.7 L507.6,414.7 L507.8,414.7 L508.0,414.6 L508.2,414.6 L508.4,414.6 L508.6,414.6 L508.8,414.6 L509.0,414.5 L509.2,414.5 L509.4,414.5 L509.6,414.5 L509.8,414.5 L510.0,414.5 L510.2,414.4 L510.4,414.4 L510.6,414.4 L510.8,414.4 L511.0,414.4 L511.2,414.3 L511.4,414.3 L511.6,414.3 L511.8,414.3 L512.0,414.3 L512.2,414.3 L512.4,414.2 L512.6,414.2 L512.8,414.2 L513.0,414.2 L513.2,414.2 L513.4,414.2 L513.6,414.2 L513.8,414.1 L514.0,414.1 L514.2,414.1 L514.4,414.1 L514.6,414.1 L514.8,414.1 L515.0,414.1 L515.2,414.0 L515.4,414.0 L515.6,414.0 L515.8,414.0 L516.0,414.0 L516.2,414.0 L516.4,414.0 L516.6,413.9 L516.8,413.9 L517.0,413.9 L517.2,413.9 L517.4,413.9 L517.6,413.9 L517.8,413.9 L518.0,413.9 L518.2,413.8 L518.4,413.8 L518.6,413.8 L518.8,413.8 L519.0,413.8 L519.2,413.8 L519.4,413.8 L519.6,413.7 L519.8,413.7 L520.0,413.7 L520.2,413.7 L520.4,413.7 L520.6,413.7 L520.8,413.7 L521.0,413.6 L521.2,413.6 L521.4,413.6 L521.6,413.6 L521.8,413.6 L522.0,413.6 L522.2,413.6 L522.4,413.5 L522.6,413.5 L522.8,413.5 L523.0,413.5 L523.2,413.5 L523.4,413.5 L523.6,413.5 L523.8,413.4 L524.0,413.4 L524.2,413.4 L524.4,413.4 L524.6,413.4 L524.8,413.4 L525.0,413.3 L525.2,413.3 L525.4,413.3 L525.6,413.3 L525.8,413.3 L526.0,413.2 L526.2,413.2 L526.4,413.2 L526.6,413.2 L526.8,413.2 L527.0,413.2 L527.2,413.1 L527.4,413.1 L527.6,413.1 L527.8,413.1 L528.0,413.0 L528.2,413.0 L528.4,413.0 L528.6,413.0 L528.8,413.0 L529.0,412.9 L529.2,412.9 L529.4,412.9 L529.6,412.9 L529.8,412.8 L530.0,412.8 L530.2,412.8 L530.4,412.8 L530.6,412.7 L530.8,412.7 L531.0,412.7 L531.2,412.7 L531.4,412.6 L531.6,412.6 L531.8,412.6 L532.0,412.6 L532.2,412.5 L532.4,412.5 L532.6,412.5 L532.8,412.4 L533.0,412.4 L533.2,412.4 L533.4,412.4 L533.6,412.3 L533.8,412.3 L534.0,412.3 L534.2,412.2 L534.4,412.2 L534.6,412.2 L534.8,412.2 L535.0,412.1 L535.2,412.1 L535.4,412.1 L535.6,412.0 L535.8,412.0 L536.0,412.0 L536.2,412.0 L536.4,411.9 L536.6,411.9 L536.8,411.9 L537.0,411.9 L537.2,411.8 L537.4,411.8 L537.6,411.8 L537.8,411.7 L538.0,411.7 L538.2,411.7 L538.4,411.7 L538.6,411.6 L538.8,411.6 L539.0,411.6 L539.2,411.6 L539.4,411.5 L539.6,411.5 L539.8,411.5 L540.0,411.5 L540.2,411.4 L540.4,411.4 L540.6,411.4 L540.8,411.4 L541.0,411.3 L541.2,411.3 L541.4,411.3 L541.6,411.3 L541.8,411.2 L542.0,411.2 L542.2,411.2 L542.4,411.2 L542.6,411.2 L542.8,411.1 L543.0,411.1 L543.2,411.1 L543.4,411.1 L543.6,411.0 L543.8,411.0 L544.0,411.0 L544.2,411.0 L544.4,411.0 L544.6,410.9 L544.8,410.9 L545.0,410.9 L545.2,410.9 L545.4,410.8 L545.6,410.8 L545.8,410.8 L546.0,410.8 L546.2,410.8 L546.4,410.7 L546.6,410.7 L546.8,410.7 L547.0,410.7 L547.2,410.6 L547.4,410.6 L547.6,410.6 L547.8,410.6 L548.0,410.5 L548.2,410.5 L548.4,410.5 L548.6,410.5 L548.8,410.4 L549.0,410.4 L549.2,410.4 L549.4,410.4 L549.6,410.4 L549.8,410.3 L550.0,410.3 L550.2,410.3 L550.4,410.3 L550.6,410.2 L550.8,410.2 L551.0,410.2 L551.2,410.1 L551.4,410.1 L551.6,410.1 L551.8,410.1 L552.0,410.0 L552.2,410.0 L552.4,410.0 L552.6,410.0 L552.8,409.9 L553.0,409.9 L553.2,409.9 L553.4,409.8 L553.6,409.8 L553.8,409.8 L554.0,409.8 L554.2,409.7 L554.4,409.7 L554.6,409.7 L554.8,409.6 L555.0,409.6 L555.2,409.6 L555.4,409.5 L555.6,409.5 L555.8,409.5 L556.0,409.4 L556.2,409.4 L556.4,409.4 L556.6,409.3 L556.8,409.3 L557.0,409.3 L557.2,409.2 L557.4,409.2 L557.6,409.2 L557.8,409.1 L558.0,409.1 L558.2,409.1 L558.4,409.0 L558.6,409.0 L558.8,409.0 L559.0,408.9 L559.2,408.9 L559.4,408.8 L559.6,408.8 L559.8,408.8 L560.0,408.7 L560.2,408.7 L560.4,408.7 L560.6,408.6 L560.8,408.6 L561.0,408.5 L561.2,408.5 L561.4,408.5 L561.6,408.4 L561.8,408.4 L562.0,408.4 L562.2,408.3 L562.4,408.3 L562.6,408.2 L562.8,408.2 L563.0,408.2 L563.2,408.1 L563.4,408.1 L563.6,408.0 L563.8,408.0 L564.0,408.0 L564.2,407.9 L564.4,407.9 L564.6,407.8 L564.8,407.8 L565.0,407.7 L565.2,407.7 L565.4,407.7 L565.6,407.6 L565.8,407.6 L566.0,407.5 L566.2,407.5 L566.4,407.5 L566.6,407.4 L566.8,407.4 L567.0,407.3 L567.2,407.3 L567.4,407.2 L567.6,407.2 L567.8,407.2 L568.0,407.1 L568.2,407.1 L568.4,407.0 L568.6,407.0 L568.8,406.9 L569.0,406.9 L569.2,406.8 L569.4,406.8 L569.6,406.8 L569.8,406.7 L570.0,406.7 L570.2,406.6 L570.4,406.6 L570.6,406.5 L570.8,406.5 L571.0,406.4 L571.2,406.4 L571.4,406.3 L571.6,406.3 L571.8,406.2 L572.0,406.2 L572.2,406.1 L572.4,406.1 L572.6,406.0 L572.8,406.0 L573.0,405.9 L573.2,405.9 L573.4,405.8 L573.6,405.8 L573.8,405.7 L574.0,405.7 L574.2,405.6 L574.4,405.6 L574.6,405.5 L574.8,405.5 L575.0,405.4 L575.2,405.4 L575.4,405.3 L575.6,405.3 L575.8,405.2 L576.0,405.2 L576.2,405.1 L576.4,405.1 L576.6,405.0 L576.8,404.9 L577.0,404.9 L577.2,404.8 L577.4,404.8 L577.6,404.7 L577.8,404.7 L578.0,404.6 L578.2,404.6 L578.4,404.5 L578.6,404.5 L578.8,404.4 L579.0,404.3 L579.2,404.3 L579.4,404.2 L579.6,404.2 L579.8,404.1 L580.0,404.1 L580.2,404.0 L580.4,403.9 L580.6,403.9 L580.8,403.8 L581.0,403.8 L581.2,403.7 L581.4,403.6 L581.6,403.6 L581.8,403.5 L582.0,403.5 L582.2,403.4 L582.4,403.3 L582.6,403.3 L582.8,403.2 L583.0,403.2 L583.2,403.1 L583.4,403.0 L583.6,403.0 L583.8,402.9 L584.0,402.8 L584.2,402.8 L584.4,402.7 L584.6,402.7 L584.8,402.6 L585.0,402.5 L585.2,402.5 L585.4,402.4 L585.6,402.3 L585.8,402.3 L586.0,402.2 L586.2,402.1 L586.4,402.1 L586.6,402.0 L586.8,401.9 L587.0,401.9 L587.2,401.8 L587.4,401.7 L587.6,401.6 L587.8,401.6 L588.0,401.5 L588.2,401.4 L588.4,401.4 L588.6,401.3 L588.8,401.2 L589.0,401.1 L589.2,401.1 L589.4,401.0 L589.6,400.9 L589.8,400.9 L590.0,400.8 L590.2,400.7 L590.4,400.6 L590.6,400.6 L590.8,400.5 L591.0,400.4 L591.2,400.3 L591.4,400.2 L591.6,400.2 L591.8,400.1 L592.0,400.0 L592.2,399.9 L592.4,399.8 L592.6,399.8 L592.8,399.7 L593.0,399.6 L593.2,399.5 L593.4,399.4 L593.6,399.3 L593.8,399.2 L594.0,399.2 L594.2,399.1 L594.4,399.0 L594.6,398.9 L594.8,398.8 L595.0,398.7 L595.2,398.6 L595.4,398.5 L595.6,398.4 L595.8,398.3 L596.0,398.2 L596.2,398.1 L596.4,398.0 L596.6,397.9 L596.8,397.8 L597.0,397.7 L597.2,397.6 L597.4,397.4 L597.6,397.3 L597.8,397.2 L598.0,397.1 L598.2,397.0 L598.4,396.9 L598.6,396.7 L598.8,396.6 L599.0,396.5 L599.2,396.4 L599.4,396.3 L599.6,396.1 L599.8,396.0 L600.0,395.9 L600.2,395.8 L600.4,395.6 L600.6,395.5 L600.8,395.4 L601.0,395.3 L601.2,395.1 L601.4,395.0 L601.6,394.9 L601.8,394.8 L602.0,394.7 L602.2,394.5 L602.4,394.4 L602.6,394.3 L602.8,394.2 L603.0,394.1 L603.2,393.9 L603.4,393.8 L603.6,393.7 L603.8,393.6 L604.0,393.5 L604.2,393.4 L604.4,393.2 L604.6,393.1 L604.8,393.0 L605.0,392.9 L605.2,392.8 L605.4,392.7 L605.6,392.6 L605.8,392.5 L606.0,392.4 L606.2,392.2 L606.4,392.1 L606.6,392.0 L606.8,391.9 L607.0,391.8 L607.2,391.7 L607.4,391.6 L607.6,391.5 L607.8,391.4 L608.0,391.3 L608.2,391.1 L608.4,391.0 L608.6,390.9 L608.8,390.8 L609.0,390.7 L609.2,390.6 L609.4,390.5 L609.6,390.4 L609.8,390.3 L610.0,390.2 L610.2,390.1 L610.4,390.0 L610.6,389.9 L610.8,389.7 L611.0,389.6 L611.2,389.5 L611.4,389.4 L611.6,389.3 L611.8,389.2 L612.0,389.1 L612.2,389.0 L612.4,388.9 L612.6,388.8 L612.8,388.7 L613.0,388.6 L613.2,388.4 L613.4,388.3 L613.6,388.2 L613.8,388.1 L614.0,388.0 L614.2,387.9 L614.4,387.8 L614.6,387.7 L614.8,387.6 L615.0,387.5 L615.2,387.4 L615.4,387.2 L615.6,387.1 L615.8,387.0 L616.0,386.9 L616.2,386.8 L616.4,386.7 L616.6,386.6 L616.8,386.4 L617.0,386.3 L617.2,386.2 L617.4,386.1 L617.6,386.0 L617.8,385.9 L618.0,385.8 L618.2,385.6 L618.4,385.5 L618.6,385.4 L618.8,385.3 L619.0,385.2 L619.2,385.1 L619.4,385.0 L619.6,384.9 L619.8,384.7 L620.0,384.6 L620.2,384.5 L620.4,384.4 L620.6,384.3 L620.8,384.2 L621.0,384.1 L621.2,384.0 L621.4,383.9 L621.6,383.8 L621.8,383.7 L622.0,383.6 L622.2,383.5 L622.4,383.4 L622.6,383.3 L622.8,383.2 L623.0,383.2 L623.2,383.1 L623.4,383.0 L623.6,382.9 L623.8,382.8 L624.0,382.7 L624.2,382.6 L624.4,382.5 L624.6,382.4 L624.8,382.3 L625.0,382.3 L625.2,382.2 L625.4,382.1 L625.6,382.0 L625.8,381.9 L626.0,381.8 L626.2,381.8 L626.4,381.7 L626.6,381.6 L626.8,381.6 L627.0,381.5 L627.2,381.4 L627.4,381.4 L627.6,381.3 L627.8,381.3 L628.0,381.3 L628.2,381.2 L628.4,381.2 L628.6,381.2 L628.8,381.1 L629.0,381.1 L629.2,381.1 L629.4,381.0 L629.6,381.0 L629.8,381.0 L630.0,381.0 L630.2,381.0 L630.4,380.9 L630.6,380.9 L630.8,380.9 L631.0,380.9 L631.2,380.9 L631.4,380.9 L631.6,380.9 L631.8,380.9 L632.0,380.9 L632.2,381.0 L632.4,381.0 L632.6,381.1 L632.8,381.1 L633.0,381.2 L633.2,381.2 L633.4,381.3 L633.6,381.4 L633.8,381.4 L634.0,381.5 L634.2,381.6 L634.4,381.7 L634.6,381.8 L634.8,381.9 L635.0,382.0 L635.2,382.1 L635.4,382.1 L635.6,382.2 L635.8,382.4 L636.0,382.5 L636.2,382.6 L636.4,382.8 L636.6,382.9 L636.8,383.1 L637.0,383.2 L637.2,383.4 L637.4,383.6 L637.6,383.8 L637.8,383.9 L638.0,384.1 L638.2,384.3 L638.4,384.5 L638.6,384.8 L638.8,385.0 L639.0,385.2 L639.2,385.4 L639.4,385.6 L639.6,385.9 L639.8,386.1 L640.0,386.3 L640.2,386.5 L640.4,386.8 L640.6,387.0 L640.8,387.3 L641.0,387.6 L641.2,387.9 L641.4,388.1 L641.6,388.4 L641.8,388.8 L642.0,389.1 L642.2,389.4 L642.4,389.7 L642.6,390.0 L642.8,390.4 L643.0,390.7 L643.2,391.0 L643.4,391.3 L643.6,391.7 L643.8,392.0 L644.0,392.3 L644.2,392.7 L644.4,393.0 L644.6,393.3 L644.8,393.6 L645.0,393.9 L645.2,394.3 L645.4,394.6 L645.6,394.9 L645.8,395.3 L646.0,395.6 L646.2,395.9 L646.4,396.3 L646.6,396.6 L646.8,396.9 L647.0,397.3 L647.2,397.6 L647.4,397.9 L647.6,398.3 L647.8,398.6 L648.0,398.9 L648.2,399.3 L648.4,399.6 L648.6,399.9 L648.8,400.2 L649.0,400.5 L649.2,400.8 L649.4,401.2 L649.6,401.5 L649.8,401.8 L650.0,402.1 L650.2,402.3 L650.4,402.6 L650.6,402.9 L650.8,403.2 L651.0,403.5 L651.2,403.8 L651.4,404.1 L651.6,404.4 L651.8,404.6 L652.0,404.9 L652.2,405.2 L652.4,405.5 L652.6,405.7 L652.8,406.0 L653.0,406.3 L653.2,406.5 L653.4,406.8 L653.6,407.1 L653.8,407.3 L654.0,407.6 L654.2,407.9 L654.4,408.1 L654.6,408.4 L654.8,408.6 L655.0,408.9 L655.2,409.2 L655.4,409.4 L655.6,409.6 L655.8,409.9 L656.0,410.1 L656.2,410.3 L656.4,410.5 L656.6,410.7 L656.8,410.9 L657.0,411.1 L657.2,411.3 L657.4,411.4 L657.6,411.6 L657.8,411.8 L658.0,411.9 L658.2,412.1 L658.4,412.2 L658.6,412.4 L658.8,412.5 L659.0,412.6 L659.2,412.8 L659.4,412.9 L659.6,413.0 L659.8,413.1 L660.0,413.2 L660.2,413.4 L660.4,413.5 L660.6,413.6 L660.8,413.7 L661.0,413.7 L661.2,413.8 L661.4,413.9 L661.6,414.0 L661.8,414.1 L662.0,414.1 L662.2,414.2 L662.4,414.3 L662.6,414.4 L662.8,414.4 L663.0,414.5 L663.2,414.6 L663.4,414.6 L663.6,414.7 L663.8,414.7 L664.0,414.8 L664.2,414.8 L664.4,414.9 L664.6,414.9 L664.8,415.0 L665.0,415.0 L665.2,415.1 L665.4,415.1 L665.6,415.2 L665.8,415.2 L666.0,415.3 L666.2,415.3 L666.4,415.4 L666.6,415.4 L666.8,415.5 L667.0,415.5 L667.2,415.5 L667.4,415.6 L667.6,415.6 L667.8,415.6 L668.0,415.7 L668.2,415.7 L668.4,415.7 L668.6,415.8 L668.8,415.8 L669.0,415.8 L669.2,415.9 L669.4,415.9 L669.6,415.9 L669.8,416.0 L670.0,416.0 L670.2,416.0 L670.4,416.0 L670.6,416.1 L670.8,416.1 L671.0,416.1 L671.2,416.1 L671.4,416.2 L671.6,416.2 L671.8,416.2 L672.0,416.2 L672.2,416.3 L672.4,416.3 L672.6,416.3 L672.8,416.3 L673.0,416.3 L673.2,416.4 L673.4,416.4 L673.6,416.4 L673.8,416.4 L674.0,416.4 L674.2,416.4 L674.4,416.5 L674.6,416.5 L674.8,416.5 L675.0,416.5" stroke="#a94f4e" stroke-width="3"/>
<path d="M57.0,394.4 L57.4,394.4 L57.8,394.4 L58.2,394.4 L58.6,394.4 L59.0,394.4 L59.4,394.4 L59.8,394.4 L60.2,394.4 L60.6,394.3 L61.0,394.3 L61.4,394.3 L61.8,394.3 L62.2,394.3 L62.6,394.3 L63.0,394.2 L63.4,394.2 L63.8,394.2 L64.2,394.1 L64.6,394.1 L65.0,394.1 L65.4,394.1 L65.8,394.0 L66.2,394.0 L66.6,393.8 L67.0,393.6 L67.4,393.4 L67.8,393.2 L68.2,393.1 L68.6,393.0 L69.0,393.1 L69.4,393.2 L69.8,393.4 L70.2,393.6 L70.6,393.9 L71.0,394.1 L71.4,394.3 L71.8,394.4 L72.2,394.4 L72.6,394.4 L73.0,394.4 L73.4,394.4 L73.8,394.4 L74.2,394.3 L74.6,394.3 L75.0,394.3 L75.4,394.3 L75.8,394.2 L76.2,394.2 L76.6,394.2 L77.0,394.1 L77.4,394.1 L77.8,394.0 L78.2,394.0 L78.6,393.8 L79.0,393.6 L79.4,393.4 L79.8,393.3 L80.2,393.3 L80.6,393.4 L81.0,393.5 L81.4,393.6 L81.8,393.8 L82.2,393.9 L82.6,394.1 L83.0,394.2 L83.4,394.3 L83.8,394.4 L84.2,394.4 L84.6,394.4 L85.0,394.3 L85.4,394.3 L85.8,394.2 L86.2,394.1 L86.6,394.0 L87.0,393.9 L87.4,393.7 L87.8,393.6 L88.2,393.4 L88.6,393.2 L89.0,393.0 L89.4,392.6 L89.8,391.7 L90.2,390.6 L90.6,389.3 L91.0,388.1 L91.4,387.0 L91.8,386.1 L92.2,385.6 L92.6,385.6 L93.0,386.2 L93.4,387.2 L93.8,388.4 L94.2,389.4 L94.6,390.2 L95.0,390.7 L95.4,391.3 L95.8,391.8 L96.2,392.2 L96.6,392.5 L97.0,392.7 L97.4,393.0 L97.8,393.2 L98.2,393.5 L98.6,393.7 L99.0,393.9 L99.4,394.1 L99.8,394.3 L100.2,394.5 L100.6,394.6 L101.0,394.7 L101.4,394.9 L101.8,394.9 L102.2,395.0 L102.6,395.0 L103.0,395.0 L103.4,395.0 L103.8,394.9 L104.2,394.9 L104.6,394.8 L105.0,394.7 L105.4,394.6 L105.8,394.4 L106.2,394.3 L106.6,394.2 L107.0,394.0 L107.4,393.8 L107.8,393.4 L108.2,392.9 L108.6,392.4 L109.0,391.9 L109.4,391.5 L109.8,391.3 L110.2,391.3 L110.6,391.5 L111.0,391.7 L111.4,392.0 L111.8,392.3 L112.2,392.6 L112.6,392.9 L113.0,393.0 L113.4,393.1 L113.8,393.1 L114.2,393.2 L114.6,393.2 L115.0,393.3 L115.4,393.3 L115.8,393.4 L116.2,393.4 L116.6,393.6 L117.0,393.7 L117.4,393.9 L117.8,394.1 L118.2,394.3 L118.6,394.5 L119.0,394.7 L119.4,394.8 L119.8,395.0 L120.2,395.0 L120.6,395.1 L121.0,395.2 L121.4,395.2 L121.8,395.3 L122.2,395.3 L122.6,395.4 L123.0,395.4 L123.4,395.4 L123.8,395.4 L124.2,395.5 L124.6,395.5 L125.0,395.5 L125.4,395.5 L125.8,395.5 L126.2,395.5 L126.6,395.5 L127.0,395.5 L127.4,395.5 L127.8,395.6 L128.2,395.6 L128.6,395.6 L129.0,395.6 L129.4,395.6 L129.8,395.6 L130.2,395.6 L130.6,395.6 L131.0,395.6 L131.4,395.6 L131.8,395.6 L132.2,395.6 L132.6,395.6 L133.0,395.6 L133.4,395.6 L133.8,395.6 L134.2,395.7 L134.6,395.7 L135.0,395.7 L135.4,395.7 L135.8,395.7 L136.2,395.7 L136.6,395.7 L137.0,395.7 L137.4,395.7 L137.8,395.7 L138.2,395.7 L138.6,395.7 L139.0,395.7 L139.4,395.7 L139.8,395.7 L140.2,395.7 L140.6,395.7 L141.0,395.7 L141.4,395.7 L141.8,395.7 L142.2,395.7 L142.6,395.7 L143.0,395.7 L143.4,395.7 L143.8,395.7 L144.2,395.8 L144.6,395.8 L145.0,395.8 L145.4,395.8 L145.8,395.8 L146.2,395.8 L146.6,395.8 L147.0,395.8 L147.4,395.8 L147.8,395.8 L148.2,395.8 L148.6,395.8 L149.0,395.8 L149.4,395.8 L149.8,395.8 L150.2,395.8 L150.6,395.8 L151.0,395.8 L151.4,395.8 L151.8,395.8 L152.2,395.8 L152.6,395.8 L153.0,395.8 L153.4,395.8 L153.8,395.8 L154.2,395.8 L154.6,395.8 L155.0,395.8 L155.4,395.8 L155.8,395.8 L156.2,395.8 L156.6,395.8 L157.0,395.8 L157.4,395.8 L157.8,395.8 L158.2,395.8 L158.6,395.8 L159.0,395.8 L159.4,395.8 L159.8,395.8 L160.2,395.8 L160.6,395.8 L161.0,395.8 L161.4,395.8 L161.8,395.8 L162.2,395.8 L162.6,395.8 L163.0,395.7 L163.4,395.7 L163.8,395.7 L164.2,395.7 L164.6,395.6 L165.0,395.6 L165.4,395.6 L165.8,395.5 L166.2,395.5 L166.6,395.5 L167.0,395.4 L167.4,395.4 L167.8,395.3 L168.2,395.3 L168.6,395.1 L169.0,394.8 L169.4,394.5 L169.8,394.1 L170.2,393.8 L170.6,393.4 L171.0,392.9 L171.4,392.4 L171.8,392.1 L172.2,392.0 L172.6,392.4 L173.0,392.9 L173.4,393.4 L173.8,393.9 L174.2,394.1 L174.6,394.3 L175.0,394.4 L175.4,394.5 L175.8,394.7 L176.2,394.7 L176.6,394.8 L177.0,394.8 L177.4,394.5 L177.8,394.1 L178.2,393.4 L178.6,392.7 L179.0,392.0 L179.4,391.3 L179.8,390.4 L180.2,389.5 L180.6,388.6 L181.0,387.9 L181.4,387.2 L181.8,386.5 L182.2,385.8 L182.6,385.2 L183.0,384.7 L183.4,384.4 L183.8,384.3 L184.2,384.9 L184.6,386.1 L185.0,387.3 L185.4,388.2 L185.8,389.1 L186.2,389.9 L186.6,390.4 L187.0,390.4 L187.4,390.2 L187.8,390.0 L188.2,389.9 L188.6,389.7 L189.0,389.6 L189.4,389.6 L189.8,389.7 L190.2,389.9 L190.6,390.1 L191.0,390.3 L191.4,390.6 L191.8,390.9 L192.2,391.3 L192.6,391.6 L193.0,391.9 L193.4,392.1 L193.8,392.1 L194.2,391.8 L194.6,391.3 L195.0,390.6 L195.4,389.8 L195.8,388.7 L196.2,386.8 L196.6,384.5 L197.0,382.3 L197.4,380.5 L197.8,379.0 L198.2,377.5 L198.6,376.2 L199.0,375.1 L199.4,374.3 L199.8,373.6 L200.2,373.1 L200.6,372.9 L201.0,373.4 L201.4,374.7 L201.8,376.3 L202.2,377.7 L202.6,378.7 L203.0,379.4 L203.4,380.1 L203.8,380.3 L204.2,379.5 L204.6,377.4 L205.0,374.8 L205.4,372.3 L205.8,369.4 L206.2,366.0 L206.6,363.2 L207.0,362.0 L207.4,362.7 L207.8,364.5 L208.2,366.8 L208.6,369.1 L209.0,372.1 L209.4,375.3 L209.8,377.7 L210.2,379.8 L210.6,381.5 L211.0,382.6 L211.4,382.8 L211.8,382.7 L212.2,382.5 L212.6,382.3 L213.0,382.1 L213.4,381.9 L213.8,381.8 L214.2,381.6 L214.6,381.6 L215.0,382.2 L215.4,383.3 L215.8,384.5 L216.2,385.4 L216.6,386.5 L217.0,387.6 L217.4,388.6 L217.8,389.6 L218.2,390.6 L218.6,391.6 L219.0,392.4 L219.4,393.1 L219.8,393.3 L220.2,393.4 L220.6,393.5 L221.0,393.6 L221.4,393.7 L221.8,393.8 L222.2,393.8 L222.6,393.9 L223.0,393.9 L223.4,394.0 L223.8,394.0 L224.2,394.0 L224.6,394.0 L225.0,394.0 L225.4,394.0 L225.8,394.0 L226.2,394.0 L226.6,394.0 L227.0,394.0 L227.4,394.0 L227.8,394.0 L228.2,394.0 L228.6,394.0 L229.0,394.0 L229.4,394.0 L229.8,393.9 L230.2,393.9 L230.6,393.9 L231.0,393.9 L231.4,393.9 L231.8,393.9 L232.2,393.9 L232.6,393.9 L233.0,393.9 L233.4,393.8 L233.8,393.8 L234.2,393.8 L234.6,393.8 L235.0,393.8 L235.4,393.8 L235.8,393.7 L236.2,393.6 L236.6,393.6 L237.0,393.5 L237.4,393.4 L237.8,393.3 L238.2,393.2 L238.6,393.1 L239.0,392.9 L239.4,392.8 L239.8,392.6 L240.2,392.5 L240.6,392.3 L241.0,392.1 L241.4,392.0 L241.8,391.7 L242.2,391.5 L242.6,391.1 L243.0,390.8 L243.4,390.3 L243.8,389.9 L244.2,389.4 L244.6,388.8 L245.0,388.2 L245.4,387.5 L245.8,386.5 L246.2,385.5 L246.6,384.5 L247.0,383.5 L247.4,382.3 L247.8,381.1 L248.2,380.4 L248.6,380.4 L249.0,381.2 L249.4,382.3 L249.8,383.3 L250.2,384.1 L250.6,384.8 L251.0,385.3 L251.4,385.2 L251.8,384.7 L252.2,384.1 L252.6,383.4 L253.0,382.8 L253.4,382.3 L253.8,381.9 L254.2,381.4 L254.6,380.8 L255.0,380.1 L255.4,379.4 L255.8,378.4 L256.2,377.1 L256.6,375.3 L257.0,369.8 L257.4,364.1 L257.8,361.8 L258.2,360.6 L258.6,360.6 L259.0,360.9 L259.4,361.3 L259.8,361.7 L260.2,362.2 L260.6,362.7 L261.0,363.0 L261.4,362.4 L261.8,360.5 L262.2,358.4 L262.6,356.8 L263.0,355.3 L263.4,354.9 L263.8,355.7 L264.2,357.2 L264.6,359.2 L265.0,363.0 L265.4,367.3 L265.8,371.2 L266.2,374.8 L266.6,377.2 L267.0,378.3 L267.4,379.1 L267.8,379.7 L268.2,380.3 L268.6,381.1 L269.0,382.0 L269.4,382.9 L269.8,383.9 L270.2,384.8 L270.6,385.8 L271.0,386.9 L271.4,388.0 L271.8,389.0 L272.2,389.6 L272.6,390.0 L273.0,390.3 L273.4,390.6 L273.8,390.9 L274.2,391.0 L274.6,391.1 L275.0,391.1 L275.4,391.1 L275.8,391.1 L276.2,391.1 L276.6,391.0 L277.0,391.0 L277.4,391.0 L277.8,391.0 L278.2,390.9 L278.6,390.9 L279.0,390.9 L279.4,390.9 L279.8,390.9 L280.2,391.0 L280.6,391.1 L281.0,391.3 L281.4,391.5 L281.8,391.7 L282.2,391.9 L282.6,392.0 L283.0,392.0 L283.4,391.9 L283.8,391.8 L284.2,391.6 L284.6,391.3 L285.0,391.0 L285.4,390.7 L285.8,390.2 L286.2,389.4 L286.6,388.5 L287.0,387.6 L287.4,386.6 L287.8,385.7 L288.2,384.8 L288.6,383.8 L289.0,382.8 L289.4,381.8 L289.8,380.8 L290.2,379.7 L290.6,378.6 L291.0,377.5 L291.4,376.3 L291.8,375.1 L292.2,373.9 L292.6,372.6 L293.0,371.3 L293.4,370.0 L293.8,368.7 L294.2,367.4 L294.6,365.9 L295.0,364.4 L295.4,362.8 L295.8,360.9 L296.2,358.9 L296.6,356.8 L297.0,354.7 L297.4,352.8 L297.8,351.1 L298.2,349.4 L298.6,347.7 L299.0,346.2 L299.4,345.1 L299.8,344.4 L300.2,343.8 L300.6,343.4 L301.0,343.1 L301.4,342.9 L301.8,342.8 L302.2,343.3 L302.6,344.3 L303.0,345.8 L303.4,347.5 L303.8,349.4 L304.2,351.4 L304.6,353.3 L305.0,355.4 L305.4,357.8 L305.8,360.6 L306.2,363.5 L306.6,366.5 L307.0,369.4 L307.4,372.1 L307.8,374.6 L308.2,376.7 L308.6,378.3 L309.0,379.8 L309.4,381.3 L309.8,382.7 L310.2,384.0 L310.6,385.2 L311.0,386.3 L311.4,387.2 L311.8,387.8 L312.2,388.2 L312.6,388.5 L313.0,388.7 L313.4,388.8 L313.8,388.9 L314.2,389.0 L314.6,389.0 L315.0,388.9 L315.4,388.8 L315.8,388.6 L316.2,388.4 L316.6,388.1 L317.0,387.5 L317.4,386.7 L317.8,385.8 L318.2,384.7 L318.6,383.5 L319.0,382.1 L319.4,380.7 L319.8,379.3 L320.2,377.9 L320.6,376.3 L321.0,374.5 L321.4,372.4 L321.8,370.1 L322.2,367.8 L322.6,365.4 L323.0,363.0 L323.4,360.7 L323.8,358.6 L324.2,356.8 L324.6,355.2 L325.0,353.8 L325.4,352.4 L325.8,351.0 L326.2,349.8 L326.6,348.6 L327.0,347.5 L327.4,346.6 L327.8,345.8 L328.2,345.1 L328.6,344.3 L329.0,343.7 L329.4,343.3 L329.8,343.2 L330.2,343.8 L330.6,344.9 L331.0,346.5 L331.4,348.4 L331.8,350.4 L332.2,352.4 L332.6,354.3 L333.0,356.4 L333.4,358.9 L333.8,361.5 L334.2,364.3 L334.6,367.0 L335.0,369.7 L335.4,372.2 L335.8,374.4 L336.2,376.4 L336.6,377.8 L337.0,379.2 L337.4,380.5 L337.8,381.7 L338.2,382.9 L338.6,383.9 L339.0,384.9 L339.4,385.7 L339.8,386.3 L340.2,386.8 L340.6,387.1 L341.0,387.2 L341.4,387.4 L341.8,387.5 L342.2,387.5 L342.6,387.4 L343.0,387.1 L343.4,386.8 L343.8,386.0 L344.2,384.8 L344.6,383.3 L345.0,381.6 L345.4,379.8 L345.8,378.0 L346.2,376.0 L346.6,373.7 L347.0,371.0 L347.4,368.3 L347.8,365.6 L348.2,363.1 L348.6,360.9 L349.0,358.6 L349.4,356.3 L349.8,354.0 L350.2,352.0 L350.6,350.4 L351.0,349.4 L351.4,349.2 L351.8,349.8 L352.2,351.0 L352.6,352.6 L353.0,354.5 L353.4,356.4 L353.8,358.3 L354.2,360.0 L354.6,361.9 L355.0,364.0 L355.4,366.2 L355.8,368.3 L356.2,370.5 L356.6,372.4 L357.0,374.2 L357.4,375.7 L357.8,376.9 L358.2,378.2 L358.6,379.5 L359.0,380.7 L359.4,381.7 L359.8,382.6 L360.2,383.2 L360.6,383.6 L361.0,383.6 L361.4,383.2 L361.8,382.6 L362.2,381.7 L362.6,380.6 L363.0,379.4 L363.4,378.0 L363.8,376.7 L364.2,375.2 L364.6,373.3 L365.0,370.9 L365.4,368.3 L365.8,365.8 L366.2,363.5 L366.6,361.6 L367.0,359.7 L367.4,357.8 L367.8,356.0 L368.2,354.6 L368.6,353.6 L369.0,353.2 L369.4,353.6 L369.8,354.7 L370.2,356.3 L370.6,358.1 L371.0,359.9 L371.4,361.6 L371.8,363.1 L372.2,364.8 L372.6,366.6 L373.0,368.5 L373.4,370.4 L373.8,372.3 L374.2,374.1 L374.6,375.6 L375.0,377.0 L375.4,378.0 L375.8,378.7 L376.2,378.9 L376.6,378.7 L377.0,378.2 L377.4,377.5 L377.8,376.4 L378.2,375.2 L378.6,373.8 L379.0,372.3 L379.4,370.6 L379.8,368.9 L380.2,367.1 L380.6,365.3 L381.0,363.6 L381.4,361.9 L381.8,360.4 L382.2,359.0 L382.6,357.8 L383.0,356.7 L383.4,356.0 L383.8,355.5 L384.2,355.3 L384.6,355.6 L385.0,356.3 L385.4,357.4 L385.8,358.8 L386.2,360.4 L386.6,362.3 L387.0,364.2 L387.4,366.3 L387.8,368.2 L388.2,370.1 L388.6,371.8 L389.0,373.3 L389.4,374.5 L389.8,375.3 L390.2,375.7 L390.6,375.5 L391.0,374.8 L391.4,373.6 L391.8,372.0 L392.2,370.1 L392.6,368.1 L393.0,366.0 L393.4,363.9 L393.8,361.9 L394.2,360.2 L394.6,358.8 L395.0,357.8 L395.4,357.3 L395.8,357.4 L396.2,357.9 L396.6,358.6 L397.0,359.6 L397.4,360.9 L397.8,362.2 L398.2,363.7 L398.6,365.2 L399.0,366.7 L399.4,368.1 L399.8,369.4 L400.2,370.5 L400.6,371.4 L401.0,372.0 L401.4,372.3 L401.8,372.1 L402.2,371.5 L402.6,370.5 L403.0,369.1 L403.4,367.6 L403.8,365.9 L404.2,364.2 L404.6,362.5 L405.0,361.0 L405.4,359.7 L405.8,358.8 L406.2,358.3 L406.6,358.3 L407.0,358.7 L407.4,359.4 L407.8,360.4 L408.2,361.6 L408.6,362.9 L409.0,364.2 L409.4,365.5 L409.8,366.7 L410.2,367.8 L410.6,368.6 L411.0,369.1 L411.4,369.2 L411.8,368.9 L412.2,368.2 L412.6,367.2 L413.0,366.1 L413.4,364.8 L413.8,363.4 L414.2,362.1 L414.6,360.9 L415.0,359.9 L415.4,359.2 L415.8,358.8 L416.2,358.8 L416.6,359.2 L417.0,360.0 L417.4,361.0 L417.8,362.1 L418.2,363.4 L418.6,364.5 L419.0,365.6 L419.4,366.4 L419.8,367.0 L420.2,367.1 L420.6,366.8 L421.0,366.3 L421.4,365.6 L421.8,364.7 L422.2,363.7 L422.6,362.7 L423.0,361.7 L423.4,360.7 L423.8,359.9 L424.2,359.4 L424.6,359.0 L425.0,359.0 L425.4,359.3 L425.8,359.9 L426.2,360.6 L426.6,361.5 L427.0,362.3 L427.4,363.2 L427.8,363.9 L428.2,364.5 L428.6,364.9 L429.0,365.0 L429.4,364.8 L429.8,364.3 L430.2,363.7 L430.6,362.9 L431.0,362.1 L431.4,361.4 L431.8,360.6 L432.2,360.0 L432.6,359.6 L433.0,359.5 L433.4,359.7 L433.8,360.1 L434.2,360.7 L434.6,361.4 L435.0,362.2 L435.4,362.8 L435.8,363.2 L436.2,363.4 L436.6,363.3 L437.0,362.9 L437.4,362.4 L437.8,361.9 L438.2,361.2 L438.6,360.7 L439.0,360.2 L439.4,359.8 L439.8,359.7 L440.2,359.8 L440.6,360.1 L441.0,360.5 L441.4,360.9 L441.8,361.3 L442.2,361.7 L442.6,362.0 L443.0,362.2 L443.4,362.1 L443.8,361.9 L444.2,361.4 L444.6,360.9 L445.0,360.4 L445.4,359.9 L445.8,359.6 L446.2,359.3 L446.6,359.3 L447.0,359.5 L447.4,359.7 L447.8,360.1 L448.2,360.4 L448.6,360.7 L449.0,360.9 L449.4,361.0 L449.8,360.9 L450.2,360.6 L450.6,360.3 L451.0,359.8 L451.4,359.4 L451.8,359.1 L452.2,358.9 L452.6,358.8 L453.0,358.9 L453.4,359.1 L453.8,359.4 L454.2,359.6 L454.6,359.8 L455.0,360.0 L455.4,360.0 L455.8,359.8 L456.2,359.5 L456.6,359.1 L457.0,358.8 L457.4,358.5 L457.8,358.3 L458.2,358.2 L458.6,358.3 L459.0,358.4 L459.4,358.5 L459.8,358.7 L460.2,358.8 L460.6,358.9 L461.0,358.9 L461.4,358.7 L461.8,358.5 L462.2,358.2 L462.6,357.9 L463.0,357.7 L463.4,357.6 L463.8,357.6 L464.2,357.7 L464.6,357.8 L465.0,357.9 L465.4,358.0 L465.8,358.1 L466.2,358.1 L466.6,357.9 L467.0,357.7 L467.4,357.4 L467.8,357.2 L468.2,357.0 L468.6,357.0 L469.0,357.0 L469.4,357.0 L469.8,357.1 L470.2,357.1 L470.6,357.1 L471.0,357.1 L471.4,357.1 L471.8,357.0 L472.2,357.0 L472.6,356.9 L473.0,356.9 L473.4,356.9 L473.8,356.8 L474.2,356.8 L474.6,356.8 L475.0,356.8 L475.4,356.7 L475.8,356.7 L476.2,356.7 L476.6,356.6 L477.0,356.6 L477.4,356.6 L477.8,356.5 L478.2,356.5 L478.6,356.4 L479.0,356.4 L479.4,356.4 L479.8,356.3 L480.2,356.3 L480.6,356.3 L481.0,356.2 L481.4,356.2 L481.8,356.2 L482.2,356.1 L482.6,356.1 L483.0,356.1 L483.4,356.1 L483.8,356.1 L484.2,356.1 L484.6,356.0 L485.0,356.0 L485.4,356.0 L485.8,356.0 L486.2,356.0 L486.6,356.0 L487.0,356.0 L487.4,356.0 L487.8,356.0 L488.2,356.0 L488.6,356.0 L489.0,356.0 L489.4,355.9 L489.8,355.9 L490.2,355.9 L490.6,355.9 L491.0,355.9 L491.4,355.9 L491.8,355.9 L492.2,355.8 L492.6,355.8 L493.0,355.8 L493.4,355.8 L493.8,355.7 L494.2,355.7 L494.6,355.7 L495.0,355.7 L495.4,355.6 L495.8,355.6 L496.2,355.6 L496.6,355.5 L497.0,355.5 L497.4,355.5 L497.8,355.4 L498.2,355.4 L498.6,355.4 L499.0,355.3 L499.4,355.3 L499.8,355.2 L500.2,355.2 L500.6,355.2 L501.0,355.1 L501.4,355.1 L501.8,355.0 L502.2,355.0 L502.6,354.9 L503.0,354.9 L503.4,354.8 L503.8,354.8 L504.2,354.7 L504.6,354.7 L505.0,354.6 L505.4,354.6 L505.8,354.5 L506.2,354.4 L506.6,354.3 L507.0,354.2 L507.4,354.2 L507.8,354.1 L508.2,354.0 L508.6,353.9 L509.0,353.8 L509.4,353.7 L509.8,353.6 L510.2,353.5 L510.6,353.4 L511.0,353.3 L511.4,353.2 L511.8,353.2 L512.2,353.1 L512.6,353.0 L513.0,352.9 L513.4,352.9 L513.8,352.8 L514.2,352.7 L514.6,352.6 L515.0,352.6 L515.4,352.5 L515.8,352.4 L516.2,352.3 L516.6,352.2 L517.0,352.2 L517.4,352.1 L517.8,352.1 L518.2,352.0 L518.6,352.0 L519.0,351.9 L519.4,351.9 L519.8,351.9 L520.2,351.9 L520.6,351.9 L521.0,351.9 L521.4,352.0 L521.8,352.0 L522.2,352.0 L522.6,352.1 L523.0,352.1 L523.4,352.2 L523.8,352.2 L524.2,352.3 L524.6,352.4 L525.0,352.5 L525.4,352.5 L525.8,352.6 L526.2,352.7 L526.6,352.8 L527.0,352.8 L527.4,352.9 L527.8,353.0 L528.2,353.1 L528.6,353.2 L529.0,353.3 L529.4,353.3 L529.8,353.4 L530.2,353.5 L530.6,353.6 L531.0,353.6 L531.4,353.7 L531.8,353.7 L532.2,353.8 L532.6,353.8 L533.0,353.9 L533.4,353.9 L533.8,354.0 L534.2,354.0 L534.6,354.0 L535.0,354.1 L535.4,354.1 L535.8,354.1 L536.2,354.1 L536.6,354.2 L537.0,354.2 L537.4,354.2 L537.8,354.2 L538.2,354.2 L538.6,354.3 L539.0,354.3 L539.4,354.3 L539.8,354.3 L540.2,354.4 L540.6,354.4 L541.0,354.4 L541.4,354.4 L541.8,354.5 L542.2,354.5 L542.6,354.6 L543.0,354.6 L543.4,354.6 L543.8,354.7 L544.2,354.8 L544.6,354.8 L545.0,354.9 L545.4,355.0 L545.8,355.1 L546.2,355.2 L546.6,355.3 L547.0,355.4 L547.4,355.5 L547.8,355.6 L548.2,355.7 L548.6,355.8 L549.0,356.0 L549.4,356.1 L549.8,356.2 L550.2,356.3 L550.6,356.4 L551.0,356.6 L551.4,356.7 L551.8,356.8 L552.2,357.0 L552.6,357.1 L553.0,357.2 L553.4,357.3 L553.8,357.4 L554.2,357.6 L554.6,357.7 L555.0,357.8 L555.4,358.0 L555.8,358.1 L556.2,358.2 L556.6,358.4 L557.0,358.5 L557.4,358.7 L557.8,358.8 L558.2,359.0 L558.6,359.1 L559.0,359.3 L559.4,359.4 L559.8,359.6 L560.2,359.7 L560.6,359.9 L561.0,360.0 L561.4,360.2 L561.8,360.4 L562.2,360.5 L562.6,360.7 L563.0,360.8 L563.4,361.0 L563.8,361.2 L564.2,361.3 L564.6,361.5 L565.0,361.7 L565.4,361.9 L565.8,362.0 L566.2,362.2 L566.6,362.4 L567.0,362.6 L567.4,362.7 L567.8,362.9 L568.2,363.1 L568.6,363.3 L569.0,363.5 L569.4,363.7 L569.8,363.9 L570.2,364.1 L570.6,364.3 L571.0,364.5 L571.4,364.7 L571.8,364.9 L572.2,365.1 L572.6,365.3 L573.0,365.6 L573.4,365.8 L573.8,366.0 L574.2,366.2 L574.6,366.4 L575.0,366.6 L575.4,366.8 L575.8,367.1 L576.2,367.3 L576.6,367.5 L577.0,367.7 L577.4,367.9 L577.8,368.1 L578.2,368.3 L578.6,368.5 L579.0,368.7 L579.4,368.9 L579.8,369.2 L580.2,369.4 L580.6,369.6 L581.0,369.8 L581.4,369.9 L581.8,370.1 L582.2,370.3 L582.6,370.5 L583.0,370.7 L583.4,370.9 L583.8,371.1 L584.2,371.3 L584.6,371.5 L585.0,371.7 L585.4,371.9 L585.8,372.1 L586.2,372.3 L586.6,372.5 L587.0,372.7 L587.4,372.9 L587.8,373.1 L588.2,373.3 L588.6,373.6 L589.0,373.8 L589.4,374.0 L589.8,374.2 L590.2,374.5 L590.6,374.7 L591.0,374.9 L591.4,375.2 L591.8,375.4 L592.2,375.6 L592.6,375.9 L593.0,376.1 L593.4,376.4 L593.8,376.6 L594.2,376.9 L594.6,377.1 L595.0,377.4 L595.4,377.6 L595.8,377.8 L596.2,378.1 L596.6,378.3 L597.0,378.6 L597.4,378.8 L597.8,379.1 L598.2,379.3 L598.6,379.6 L599.0,379.8 L599.4,380.1 L599.8,380.3 L600.2,380.6 L600.6,380.8 L601.0,381.1 L601.4,381.3 L601.8,381.6 L602.2,381.8 L602.6,382.0 L603.0,382.3 L603.4,382.5 L603.8,382.7 L604.2,383.0 L604.6,383.2 L605.0,383.4 L605.4,383.6 L605.8,383.9 L606.2,384.1 L606.6,384.3 L607.0,384.5 L607.4,384.7 L607.8,385.0 L608.2,385.2 L608.6,385.4 L609.0,385.6 L609.4,385.8 L609.8,386.0 L610.2,386.2 L610.6,386.4 L611.0,386.6 L611.4,386.8 L611.8,387.0 L612.2,387.2 L612.6,387.4 L613.0,387.6 L613.4,387.8 L613.8,388.0 L614.2,388.2 L614.6,388.4 L615.0,388.5 L615.4,388.7 L615.8,388.9 L616.2,389.1 L616.6,389.2 L617.0,389.4 L617.4,389.6 L617.8,389.7 L618.2,389.9 L618.6,390.1 L619.0,390.2 L619.4,390.4 L619.8,390.5 L620.2,390.7 L620.6,390.9 L621.0,391.0 L621.4,391.1 L621.8,391.3 L622.2,391.4 L622.6,391.6 L623.0,391.7 L623.4,391.8 L623.8,391.9 L624.2,392.1 L624.6,392.2 L625.0,392.3 L625.4,392.4 L625.8,392.5 L626.2,392.6 L626.6,392.7 L627.0,392.8 L627.4,392.9 L627.8,393.0 L628.2,393.1 L628.6,393.2 L629.0,393.3 L629.4,393.4 L629.8,393.4 L630.2,393.5 L630.6,393.6 L631.0,393.7 L631.4,393.8 L631.8,393.8 L632.2,393.9 L632.6,394.0 L633.0,394.1 L633.4,394.1 L633.8,394.2 L634.2,394.2 L634.6,394.3 L635.0,394.4 L635.4,394.4 L635.8,394.5 L636.2,394.5 L636.6,394.6 L637.0,394.6 L637.4,394.7 L637.8,394.7 L638.2,394.8 L638.6,394.8 L639.0,394.9 L639.4,394.9 L639.8,394.9 L640.2,395.0 L640.6,395.0 L641.0,395.1 L641.4,395.1 L641.8,395.2 L642.2,395.2 L642.6,395.2 L643.0,395.3 L643.4,395.3 L643.8,395.3 L644.2,395.4 L644.6,395.4 L645.0,395.4 L645.4,395.5 L645.8,395.5 L646.2,395.5 L646.6,395.5 L647.0,395.6 L647.4,395.6 L647.8,395.6 L648.2,395.6 L648.6,395.6 L649.0,395.7 L649.4,395.7 L649.8,395.7 L650.2,395.7 L650.6,395.7 L651.0,395.7 L651.4,395.8 L651.8,395.8 L652.2,395.8 L652.6,395.8 L653.0,395.8 L653.4,395.8 L653.8,395.9 L654.2,395.9 L654.6,395.9 L655.0,395.9 L655.4,395.9 L655.8,395.9 L656.2,395.9 L656.6,395.9 L657.0,395.9 L657.4,396.0 L657.8,396.0 L658.2,396.0 L658.6,396.0 L659.0,396.0 L659.4,396.0 L659.8,396.0 L660.2,396.0 L660.6,396.0 L661.0,396.0 L661.4,396.0 L661.8,396.0 L662.2,396.0 L662.6,396.0 L663.0,396.0 L663.4,396.0 L663.8,396.0 L664.2,396.0 L664.6,396.0 L665.0,396.1 L665.4,396.1 L665.8,396.1 L666.2,396.1 L666.6,396.1 L667.0,396.1 L667.4,396.1 L667.8,396.1 L668.2,396.1 L668.6,396.1 L669.0,396.1 L669.4,396.1 L669.8,396.1 L670.2,396.1 L670.6,396.1 L671.0,396.1 L671.4,396.1 L671.8,396.1 L672.2,396.1 L672.6,396.1 L673.0,396.1 L673.4,396.1 L673.8,396.1 L674.2,396.1 L674.6,396.1 L675.0,396.1 L675.0,396.1" stroke="#99b95b" stroke-width="3"/>
<path d="M57.0,373.8 L57.4,373.8 L57.8,373.8 L58.2,373.8 L58.6,373.8 L59.0,373.8 L59.4,373.8 L59.8,373.8 L60.2,373.8 L60.6,373.8 L61.0,373.8 L61.4,373.8 L61.8,373.8 L62.2,373.8 L62.6,373.8 L63.0,373.8 L63.4,373.8 L63.8,373.8 L64.2,373.8 L64.6,373.8 L65.0,373.8 L65.4,373.8 L65.8,373.8 L66.2,373.8 L66.6,373.8 L67.0,373.8 L67.4,373.8 L67.8,373.8 L68.2,373.8 L68.6,373.8 L69.0,373.8 L69.4,373.8 L69.8,373.8 L70.2,373.8 L70.6,373.8 L71.0,373.8 L71.4,373.8 L71.8,373.8 L72.2,373.8 L72.6,373.7 L73.0,373.5 L73.4,373.3 L73.8,373.0 L74.2,372.7 L74.6,372.4 L75.0,372.1 L75.4,371.9 L75.8,371.8 L76.2,371.7 L76.6,371.8 L77.0,371.9 L77.4,372.2 L77.8,372.5 L78.2,372.8 L78.6,373.2 L79.0,373.4 L79.4,373.7 L79.8,373.8 L80.2,373.8 L80.6,373.8 L81.0,373.8 L81.4,373.8 L81.8,373.8 L82.2,373.8 L82.6,373.8 L83.0,373.8 L83.4,373.8 L83.8,373.8 L84.2,373.8 L84.6,373.8 L85.0,373.8 L85.4,373.8 L85.8,373.7 L86.2,373.7 L86.6,373.7 L87.0,373.7 L87.4,373.7 L87.8,373.7 L88.2,373.7 L88.6,373.7 L89.0,373.7 L89.4,373.7 L89.8,373.6 L90.2,373.6 L90.6,373.6 L91.0,373.6 L91.4,373.6 L91.8,373.6 L92.2,373.5 L92.6,373.5 L93.0,373.5 L93.4,373.4 L93.8,373.3 L94.2,373.1 L94.6,372.8 L95.0,372.6 L95.4,372.3 L95.8,372.0 L96.2,371.7 L96.6,371.5 L97.0,371.4 L97.4,371.3 L97.8,371.3 L98.2,371.4 L98.6,371.5 L99.0,371.7 L99.4,371.9 L99.8,372.1 L100.2,372.3 L100.6,372.5 L101.0,372.8 L101.4,373.0 L101.8,373.2 L102.2,373.4 L102.6,373.6 L103.0,373.7 L103.4,373.8 L103.8,373.8 L104.2,373.8 L104.6,373.8 L105.0,373.8 L105.4,373.7 L105.8,373.7 L106.2,373.6 L106.6,373.6 L107.0,373.5 L107.4,373.4 L107.8,373.3 L108.2,373.3 L108.6,373.1 L109.0,373.0 L109.4,372.9 L109.8,372.8 L110.2,372.6 L110.6,372.1 L111.0,371.4 L111.4,370.5 L111.8,369.3 L112.2,368.0 L112.6,366.5 L113.0,365.0 L113.4,363.0 L113.8,360.2 L114.2,356.9 L114.6,353.4 L115.0,350.0 L115.4,346.2 L115.8,342.1 L116.2,338.6 L116.6,336.2 L117.0,334.1 L117.4,332.7 L117.8,333.2 L118.2,337.7 L118.6,344.1 L119.0,349.4 L119.4,353.2 L119.8,356.9 L120.2,360.2 L120.6,362.9 L121.0,365.0 L121.4,366.6 L121.8,368.1 L122.2,369.4 L122.6,370.3 L123.0,370.8 L123.4,370.6 L123.8,369.6 L124.2,368.2 L124.6,366.5 L125.0,364.7 L125.4,363.2 L125.8,362.0 L126.2,360.8 L126.6,359.7 L127.0,358.8 L127.4,358.1 L127.8,357.8 L128.2,357.6 L128.6,357.5 L129.0,357.4 L129.4,357.3 L129.8,357.1 L130.2,356.8 L130.6,355.9 L131.0,347.0 L131.4,338.3 L131.8,331.4 L132.2,324.7 L132.6,319.1 L133.0,315.4 L133.4,314.6 L133.8,317.5 L134.2,322.9 L134.6,329.3 L135.0,335.0 L135.4,340.6 L135.8,347.0 L136.2,352.9 L136.6,356.9 L137.0,357.8 L137.4,353.9 L137.8,346.9 L138.2,339.4 L138.6,333.8 L139.0,328.8 L139.4,323.7 L139.8,319.1 L140.2,315.7 L140.6,314.1 L141.0,314.3 L141.4,315.4 L141.8,317.2 L142.2,319.5 L142.6,322.0 L143.0,324.7 L143.4,327.4 L143.8,330.8 L144.2,334.8 L144.6,339.0 L145.0,343.2 L145.4,347.2 L145.8,350.5 L146.2,353.6 L146.6,356.6 L147.0,359.4 L147.4,362.0 L147.8,364.3 L148.2,366.2 L148.6,367.9 L149.0,369.6 L149.4,370.8 L149.8,371.5 L150.2,371.8 L150.6,372.1 L151.0,372.3 L151.4,372.5 L151.8,372.6 L152.2,372.7 L152.6,372.8 L153.0,372.8 L153.4,372.8 L153.8,372.8 L154.2,372.8 L154.6,372.9 L155.0,372.9 L155.4,372.9 L155.8,372.9 L156.2,372.9 L156.6,372.9 L157.0,372.9 L157.4,372.9 L157.8,372.9 L158.2,372.9 L158.6,372.9 L159.0,372.9 L159.4,372.9 L159.8,373.0 L160.2,373.0 L160.6,373.0 L161.0,373.0 L161.4,373.0 L161.8,373.0 L162.2,373.0 L162.6,373.0 L163.0,373.0 L163.4,373.0 L163.8,373.0 L164.2,373.0 L164.6,373.0 L165.0,373.0 L165.4,373.0 L165.8,373.0 L166.2,373.0 L166.6,373.0 L167.0,373.0 L167.4,373.0 L167.8,373.0 L168.2,373.0 L168.6,373.0 L169.0,373.0 L169.4,373.1 L169.8,373.1 L170.2,373.1 L170.6,373.1 L171.0,373.1 L171.4,373.1 L171.8,373.1 L172.2,373.1 L172.6,373.1 L173.0,373.1 L173.4,373.1 L173.8,373.1 L174.2,373.1 L174.6,373.1 L175.0,373.1 L175.4,373.1 L175.8,373.1 L176.2,373.1 L176.6,373.1 L177.0,373.1 L177.4,373.1 L177.8,373.1 L178.2,373.1 L178.6,373.2 L179.0,373.2 L179.4,373.2 L179.8,373.2 L180.2,373.2 L180.6,373.2 L181.0,373.2 L181.4,373.2 L181.8,373.2 L182.2,373.2 L182.6,373.2 L183.0,373.2 L183.4,373.2 L183.8,373.2 L184.2,373.2 L184.6,373.2 L185.0,373.2 L185.4,373.2 L185.8,373.2 L186.2,373.2 L186.6,373.2 L187.0,373.2 L187.4,373.2 L187.8,373.2 L188.2,373.2 L188.6,373.2 L189.0,373.1 L189.4,373.0 L189.8,372.7 L190.2,372.5 L190.6,372.2 L191.0,372.0 L191.4,371.8 L191.8,371.5 L192.2,371.3 L192.6,371.1 L193.0,370.9 L193.4,370.8 L193.8,370.8 L194.2,370.8 L194.6,370.8 L195.0,370.8 L195.4,370.8 L195.8,370.8 L196.2,370.8 L196.6,370.8 L197.0,370.8 L197.4,370.8 L197.8,370.8 L198.2,370.8 L198.6,370.8 L199.0,370.7 L199.4,370.4 L199.8,370.0 L200.2,369.6 L200.6,369.2 L201.0,368.9 L201.4,368.7 L201.8,368.5 L202.2,368.3 L202.6,368.2 L203.0,368.1 L203.4,368.0 L203.8,367.9 L204.2,367.7 L204.6,367.6 L205.0,367.4 L205.4,367.3 L205.8,367.1 L206.2,367.0 L206.6,366.8 L207.0,366.6 L207.4,366.4 L207.8,366.1 L208.2,365.7 L208.6,364.9 L209.0,364.1 L209.4,363.4 L209.8,362.9 L210.2,362.5 L210.6,362.2 L211.0,362.0 L211.4,361.8 L211.8,361.6 L212.2,361.5 L212.6,361.5 L213.0,361.4 L213.4,361.4 L213.8,361.3 L214.2,361.2 L214.6,361.0 L215.0,360.3 L215.4,358.1 L215.8,355.5 L216.2,353.3 L216.6,351.2 L217.0,348.9 L217.4,346.5 L217.8,343.7 L218.2,340.0 L218.6,335.8 L219.0,332.4 L219.4,328.9 L219.8,325.6 L220.2,322.7 L220.6,320.8 L221.0,320.0 L221.4,320.8 L221.8,322.7 L222.2,325.1 L222.6,327.4 L223.0,328.8 L223.4,328.4 L223.8,324.4 L224.2,318.1 L224.6,311.0 L225.0,305.0 L225.4,299.9 L225.8,294.7 L226.2,289.7 L226.6,285.4 L227.0,282.0 L227.4,279.2 L227.8,276.7 L228.2,275.0 L228.6,274.6 L229.0,276.2 L229.4,279.3 L229.8,283.1 L230.2,287.1 L230.6,292.3 L231.0,298.3 L231.4,304.5 L231.8,310.6 L232.2,316.9 L232.6,323.4 L233.0,329.5 L233.4,335.5 L233.8,341.5 L234.2,346.9 L234.6,350.9 L235.0,354.2 L235.4,357.1 L235.8,359.7 L236.2,361.9 L236.6,363.7 L237.0,365.1 L237.4,366.3 L237.8,367.3 L238.2,368.2 L238.6,368.9 L239.0,369.5 L239.4,369.9 L239.8,370.2 L240.2,370.5 L240.6,370.8 L241.0,371.0 L241.4,371.2 L241.8,371.3 L242.2,371.4 L242.6,371.5 L243.0,371.7 L243.4,371.7 L243.8,371.8 L244.2,371.9 L244.6,372.0 L245.0,372.0 L245.4,372.1 L245.8,372.1 L246.2,372.1 L246.6,372.2 L247.0,372.2 L247.4,372.3 L247.8,372.3 L248.2,372.3 L248.6,372.4 L249.0,372.4 L249.4,372.4 L249.8,372.4 L250.2,372.4 L250.6,372.5 L251.0,372.5 L251.4,372.5 L251.8,372.5 L252.2,372.5 L252.6,372.5 L253.0,372.4 L253.4,372.3 L253.8,372.2 L254.2,372.1 L254.6,371.9 L255.0,371.7 L255.4,371.4 L255.8,371.2 L256.2,371.0 L256.6,370.8 L257.0,370.5 L257.4,370.4 L257.8,370.2 L258.2,370.0 L258.6,369.8 L259.0,369.6 L259.4,369.4 L259.8,369.2 L260.2,369.0 L260.6,368.8 L261.0,368.6 L261.4,368.4 L261.8,368.2 L262.2,368.0 L262.6,367.7 L263.0,367.5 L263.4,367.2 L263.8,367.0 L264.2,366.8 L264.6,366.5 L265.0,366.2 L265.4,365.9 L265.8,365.6 L266.2,365.3 L266.6,364.9 L267.0,364.5 L267.4,364.1 L267.8,363.6 L268.2,363.0 L268.6,362.4 L269.0,361.6 L269.4,360.9 L269.8,360.0 L270.2,359.1 L270.6,358.1 L271.0,356.9 L271.4,355.5 L271.8,354.0 L272.2,352.4 L272.6,350.8 L273.0,349.1 L273.4,347.3 L273.8,345.3 L274.2,343.1 L274.6,340.3 L275.0,336.9 L275.4,333.3 L275.8,329.7 L276.2,326.3 L276.6,323.3 L277.0,320.8 L277.4,318.4 L277.8,315.9 L278.2,313.6 L278.6,311.5 L279.0,309.8 L279.4,308.6 L279.8,308.0 L280.2,309.0 L280.6,312.8 L281.0,318.2 L281.4,323.7 L281.8,329.2 L282.2,335.6 L282.6,341.5 L283.0,345.5 L283.4,348.5 L283.8,351.1 L284.2,353.7 L284.6,356.4 L285.0,359.0 L285.4,361.3 L285.8,363.2 L286.2,364.7 L286.6,366.0 L287.0,367.1 L287.4,368.0 L287.8,368.6 L288.2,369.2 L288.6,369.7 L289.0,370.2 L289.4,370.6 L289.8,370.8 L290.2,371.0 L290.6,371.1 L291.0,371.2 L291.4,371.3 L291.8,371.3 L292.2,371.4 L292.6,371.5 L293.0,371.5 L293.4,371.6 L293.8,371.6 L294.2,371.6 L294.6,371.6 L295.0,371.6 L295.4,371.6 L295.8,371.5 L296.2,371.4 L296.6,371.4 L297.0,371.3 L297.4,371.2 L297.8,371.1 L298.2,370.9 L298.6,370.8 L299.0,370.7 L299.4,370.6 L299.8,370.5 L300.2,370.3 L300.6,370.2 L301.0,370.1 L301.4,370.0 L301.8,369.9 L302.2,369.8 L302.6,369.7 L303.0,369.6 L303.4,369.4 L303.8,369.2 L304.2,369.0 L304.6,368.8 L305.0,368.5 L305.4,368.0 L305.8,367.2 L306.2,366.2 L306.6,365.1 L307.0,363.9 L307.4,362.5 L307.8,360.9 L308.2,359.1 L308.6,357.1 L309.0,355.1 L309.4,353.1 L309.8,351.0 L310.2,348.8 L310.6,346.4 L311.0,343.8 L311.4,341.2 L311.8,338.6 L312.2,336.2 L312.6,333.9 L313.0,331.9 L313.4,330.1 L313.8,328.3 L314.2,326.8 L314.6,325.5 L315.0,324.3 L315.4,323.1 L315.8,322.4 L316.2,322.4 L316.6,323.5 L317.0,325.1 L317.4,327.1 L317.8,329.0 L318.2,331.3 L318.6,333.9 L319.0,336.7 L319.4,339.7 L319.8,342.6 L320.2,345.5 L320.6,348.9 L321.0,352.4 L321.4,355.9 L321.8,359.3 L322.2,362.3 L322.6,364.8 L323.0,366.5 L323.4,367.8 L323.8,368.9 L324.2,369.8 L324.6,370.2 L325.0,370.2 L325.4,370.2 L325.8,370.2 L326.2,370.2 L326.6,370.2 L327.0,370.2 L327.4,370.2 L327.8,370.1 L328.2,370.0 L328.6,369.8 L329.0,369.6 L329.4,369.4 L329.8,369.1 L330.2,368.9 L330.6,368.6 L331.0,368.3 L331.4,368.1 L331.8,367.8 L332.2,367.5 L332.6,367.2 L333.0,366.9 L333.4,366.6 L333.8,366.1 L334.2,365.6 L334.6,365.0 L335.0,364.0 L335.4,362.6 L335.8,360.9 L336.2,359.1 L336.6,357.1 L337.0,354.9 L337.4,352.7 L337.8,350.5 L338.2,348.2 L338.6,345.8 L339.0,343.4 L339.4,341.0 L339.8,338.8 L340.2,336.7 L340.6,334.8 L341.0,333.2 L341.4,331.5 L341.8,330.0 L342.2,329.1 L342.6,329.1 L343.0,330.3 L343.4,332.3 L343.8,334.9 L344.2,338.0 L344.6,341.3 L345.0,344.6 L345.4,347.6 L345.8,350.1 L346.2,352.1 L346.6,354.2 L347.0,356.3 L347.4,358.4 L347.8,360.3 L348.2,362.0 L348.6,363.5 L349.0,364.6 L349.4,365.4 L349.8,365.9 L350.2,366.4 L350.6,366.9 L351.0,367.3 L351.4,367.6 L351.8,367.9 L352.2,368.0 L352.6,368.1 L353.0,368.0 L353.4,367.7 L353.8,367.1 L354.2,366.4 L354.6,365.6 L355.0,364.6 L355.4,363.6 L355.8,362.4 L356.2,361.2 L356.6,360.0 L357.0,358.4 L357.4,356.1 L357.8,353.3 L358.2,350.3 L358.6,347.2 L359.0,344.3 L359.4,341.7 L359.8,339.6 L360.2,338.2 L360.6,337.1 L361.0,336.1 L361.4,335.3 L361.8,334.9 L362.2,335.1 L362.6,337.0 L363.0,340.3 L363.4,344.2 L363.8,348.0 L364.2,351.0 L364.6,353.1 L365.0,355.1 L365.4,357.0 L365.8,358.8 L366.2,360.4 L366.6,361.8 L367.0,362.9 L367.4,363.7 L367.8,364.2 L368.2,364.7 L368.6,365.1 L369.0,365.4 L369.4,365.7 L369.8,365.8 L370.2,365.9 L370.6,365.6 L371.0,364.9 L371.4,363.8 L371.8,362.4 L372.2,360.8 L372.6,359.2 L373.0,357.5 L373.4,356.0 L373.8,354.4 L374.2,352.6 L374.6,350.7 L375.0,348.7 L375.4,346.8 L375.8,345.2 L376.2,343.8 L376.6,342.6 L377.0,341.5 L377.4,340.6 L377.8,340.0 L378.2,340.0 L378.6,340.9 L379.0,342.5 L379.4,344.4 L379.8,346.5 L380.2,348.4 L380.6,350.0 L381.0,351.3 L381.4,352.7 L381.8,354.1 L382.2,355.5 L382.6,356.9 L383.0,358.2 L383.4,359.4 L383.8,360.6 L384.2,361.5 L384.6,362.4 L385.0,363.0 L385.4,363.4 L385.8,363.5 L386.2,363.2 L386.6,362.5 L387.0,361.4 L387.4,359.9 L387.8,358.2 L388.2,356.3 L388.6,354.2 L389.0,352.2 L389.4,350.1 L389.8,348.2 L390.2,346.4 L390.6,344.9 L391.0,343.6 L391.4,342.8 L391.8,342.4 L392.2,342.6 L392.6,343.2 L393.0,344.4 L393.4,345.9 L393.8,347.6 L394.2,349.6 L394.6,351.6 L395.0,353.7 L395.4,355.7 L395.8,357.5 L396.2,359.1 L396.6,360.3 L397.0,361.1 L397.4,361.4 L397.8,361.2 L398.2,360.5 L398.6,359.5 L399.0,358.2 L399.4,356.6 L399.8,354.9 L400.2,353.2 L400.6,351.4 L401.0,349.7 L401.4,348.1 L401.8,346.7 L402.2,345.6 L402.6,344.9 L403.0,344.5 L403.4,344.6 L403.8,345.2 L404.2,346.1 L404.6,347.4 L405.0,348.8 L405.4,350.4 L405.8,352.0 L406.2,353.6 L406.6,355.1 L407.0,356.4 L407.4,357.4 L407.8,358.1 L408.2,358.3 L408.6,358.1 L409.0,357.6 L409.4,356.7 L409.8,355.7 L410.2,354.4 L410.6,353.1 L411.0,351.8 L411.4,350.5 L411.8,349.2 L412.2,348.2 L412.6,347.3 L413.0,346.8 L413.4,346.6 L413.8,346.8 L414.2,347.3 L414.6,348.1 L415.0,349.1 L415.4,350.2 L415.8,351.3 L416.2,352.5 L416.6,353.6 L417.0,354.5 L417.4,355.2 L417.8,355.7 L418.2,355.8 L418.6,355.5 L419.0,355.0 L419.4,354.2 L419.8,353.3 L420.2,352.2 L420.6,351.2 L421.0,350.1 L421.4,349.2 L421.8,348.4 L422.2,347.9 L422.6,347.6 L423.0,347.7 L423.4,348.1 L423.8,348.7 L424.2,349.5 L424.6,350.3 L425.0,351.2 L425.4,352.1 L425.8,352.8 L426.2,353.3 L426.6,353.7 L427.0,353.7 L427.4,353.4 L427.8,352.9 L428.2,352.2 L428.6,351.5 L429.0,350.7 L429.4,349.9 L429.8,349.2 L430.2,348.6 L430.6,348.2 L431.0,348.1 L431.4,348.2 L431.8,348.7 L432.2,349.2 L432.6,349.9 L433.0,350.7 L433.4,351.4 L433.8,352.0 L434.2,352.5 L434.6,352.7 L435.0,352.6 L435.4,352.3 L435.8,351.8 L436.2,351.2 L436.6,350.5 L437.0,349.8 L437.4,349.2 L437.8,348.8 L438.2,348.6 L438.6,348.7 L439.0,348.9 L439.4,349.3 L439.8,349.8 L440.2,350.3 L440.6,350.8 L441.0,351.2 L441.4,351.4 L441.8,351.4 L442.2,351.2 L442.6,350.8 L443.0,350.4 L443.4,349.9 L443.8,349.4 L444.2,349.0 L444.6,348.8 L445.0,348.7 L445.4,348.8 L445.8,349.0 L446.2,349.3 L446.6,349.6 L447.0,349.8 L447.4,350.1 L447.8,350.2 L448.2,350.2 L448.6,350.0 L449.0,349.7 L449.4,349.4 L449.8,349.0 L450.2,348.7 L450.6,348.4 L451.0,348.3 L451.4,348.3 L451.8,348.4 L452.2,348.6 L452.6,348.8 L453.0,349.0 L453.4,349.1 L453.8,349.2 L454.2,349.2 L454.6,349.0 L455.0,348.8 L455.4,348.5 L455.8,348.2 L456.2,347.9 L456.6,347.7 L457.0,347.7 L457.4,347.7 L457.8,347.8 L458.2,347.9 L458.6,348.0 L459.0,348.1 L459.4,348.2 L459.8,348.2 L460.2,348.1 L460.6,347.8 L461.0,347.6 L461.4,347.3 L461.8,347.2 L462.2,347.1 L462.6,347.1 L463.0,347.1 L463.4,347.2 L463.8,347.2 L464.2,347.3 L464.6,347.3 L465.0,347.3 L465.4,347.2 L465.8,347.1 L466.2,346.9 L466.6,346.8 L467.0,346.7 L467.4,346.7 L467.8,346.7 L468.2,346.7 L468.6,346.6 L469.0,346.6 L469.4,346.6 L469.8,346.6 L470.2,346.5 L470.6,346.5 L471.0,346.4 L471.4,346.3 L471.8,346.2 L472.2,346.2 L472.6,346.2 L473.0,346.1 L473.4,346.1 L473.8,346.1 L474.2,346.0 L474.6,346.0 L475.0,346.0 L475.4,346.0 L475.8,345.9 L476.2,345.9 L476.6,345.9 L477.0,345.9 L477.4,345.9 L477.8,345.8 L478.2,345.8 L478.6,345.8 L479.0,345.8 L479.4,345.7 L479.8,345.7 L480.2,345.7 L480.6,345.7 L481.0,345.6 L481.4,345.6 L481.8,345.6 L482.2,345.6 L482.6,345.5 L483.0,345.5 L483.4,345.5 L483.8,345.4 L484.2,345.4 L484.6,345.3 L485.0,345.3 L485.4,345.2 L485.8,345.2 L486.2,345.1 L486.6,345.0 L487.0,345.0 L487.4,344.9 L487.8,344.9 L488.2,344.8 L488.6,344.7 L489.0,344.7 L489.4,344.6 L489.8,344.5 L490.2,344.5 L490.6,344.4 L491.0,344.4 L491.4,344.3 L491.8,344.2 L492.2,344.2 L492.6,344.1 L493.0,344.1 L493.4,344.0 L493.8,343.9 L494.2,343.9 L494.6,343.8 L495.0,343.8 L495.4,343.7 L495.8,343.7 L496.2,343.6 L496.6,343.5 L497.0,343.5 L497.4,343.4 L497.8,343.4 L498.2,343.3 L498.6,343.2 L499.0,343.2 L499.4,343.1 L499.8,343.1 L500.2,343.0 L500.6,342.9 L501.0,342.9 L501.4,342.8 L501.8,342.8 L502.2,342.7 L502.6,342.7 L503.0,342.6 L503.4,342.6 L503.8,342.5 L504.2,342.4 L504.6,342.4 L505.0,342.3 L505.4,342.3 L505.8,342.2 L506.2,342.2 L506.6,342.1 L507.0,342.1 L507.4,342.0 L507.8,342.0 L508.2,341.9 L508.6,341.9 L509.0,341.8 L509.4,341.8 L509.8,341.7 L510.2,341.7 L510.6,341.6 L511.0,341.6 L511.4,341.5 L511.8,341.5 L512.2,341.4 L512.6,341.4 L513.0,341.3 L513.4,341.3 L513.8,341.2 L514.2,341.2 L514.6,341.1 L515.0,341.1 L515.4,341.0 L515.8,341.0 L516.2,340.9 L516.6,340.9 L517.0,340.9 L517.4,340.8 L517.8,340.8 L518.2,340.7 L518.6,340.7 L519.0,340.6 L519.4,340.6 L519.8,340.5 L520.2,340.5 L520.6,340.4 L521.0,340.4 L521.4,340.4 L521.8,340.3 L522.2,340.3 L522.6,340.2 L523.0,340.2 L523.4,340.1 L523.8,340.1 L524.2,340.0 L524.6,340.0 L525.0,339.9 L525.4,339.9 L525.8,339.8 L526.2,339.7 L526.6,339.7 L527.0,339.6 L527.4,339.6 L527.8,339.5 L528.2,339.4 L528.6,339.4 L529.0,339.3 L529.4,339.2 L529.8,339.1 L530.2,339.0 L530.6,339.0 L531.0,338.9 L531.4,338.8 L531.8,338.7 L532.2,338.6 L532.6,338.6 L533.0,338.5 L533.4,338.4 L533.8,338.3 L534.2,338.2 L534.6,338.2 L535.0,338.1 L535.4,338.0 L535.8,337.9 L536.2,337.9 L536.6,337.8 L537.0,337.7 L537.4,337.7 L537.8,337.6 L538.2,337.6 L538.6,337.5 L539.0,337.5 L539.4,337.4 L539.8,337.4 L540.2,337.4 L540.6,337.3 L541.0,337.3 L541.4,337.3 L541.8,337.2 L542.2,337.2 L542.6,337.2 L543.0,337.1 L543.4,337.1 L543.8,337.1 L544.2,337.1 L544.6,337.0 L545.0,337.0 L545.4,337.0 L545.8,337.0 L546.2,337.0 L546.6,337.0 L547.0,337.0 L547.4,337.0 L547.8,337.0 L548.2,337.1 L548.6,337.1 L549.0,337.1 L549.4,337.2 L549.8,337.2 L550.2,337.3 L550.6,337.3 L551.0,337.4 L551.4,337.5 L551.8,337.5 L552.2,337.6 L552.6,337.7 L553.0,337.7 L553.4,337.8 L553.8,337.9 L554.2,337.9 L554.6,338.0 L555.0,338.1 L555.4,338.2 L555.8,338.2 L556.2,338.3 L556.6,338.3 L557.0,338.4 L557.4,338.5 L557.8,338.5 L558.2,338.6 L558.6,338.7 L559.0,338.8 L559.4,338.8 L559.8,338.9 L560.2,339.0 L560.6,339.1 L561.0,339.1 L561.4,339.2 L561.8,339.3 L562.2,339.4 L562.6,339.5 L563.0,339.6 L563.4,339.7 L563.8,339.7 L564.2,339.8 L564.6,339.9 L565.0,340.0 L565.4,340.1 L565.8,340.2 L566.2,340.3 L566.6,340.4 L567.0,340.5 L567.4,340.6 L567.8,340.7 L568.2,340.8 L568.6,340.9 L569.0,341.0 L569.4,341.1 L569.8,341.3 L570.2,341.4 L570.6,341.5 L571.0,341.6 L571.4,341.7 L571.8,341.9 L572.2,342.0 L572.6,342.1 L573.0,342.2 L573.4,342.4 L573.8,342.5 L574.2,342.6 L574.6,342.7 L575.0,342.9 L575.4,343.0 L575.8,343.1 L576.2,343.3 L576.6,343.4 L577.0,343.5 L577.4,343.7 L577.8,343.8 L578.2,343.9 L578.6,344.1 L579.0,344.2 L579.4,344.3 L579.8,344.5 L580.2,344.6 L580.6,344.7 L581.0,344.9 L581.4,345.0 L581.8,345.1 L582.2,345.3 L582.6,345.4 L583.0,345.5 L583.4,345.7 L583.8,345.8 L584.2,346.0 L584.6,346.1 L585.0,346.2 L585.4,346.4 L585.8,346.5 L586.2,346.7 L586.6,346.9 L587.0,347.0 L587.4,347.2 L587.8,347.4 L588.2,347.5 L588.6,347.7 L589.0,347.9 L589.4,348.1 L589.8,348.3 L590.2,348.5 L590.6,348.7 L591.0,348.9 L591.4,349.1 L591.8,349.4 L592.2,349.6 L592.6,349.8 L593.0,350.1 L593.4,350.3 L593.8,350.6 L594.2,350.8 L594.6,351.0 L595.0,351.3 L595.4,351.5 L595.8,351.8 L596.2,352.0 L596.6,352.3 L597.0,352.5 L597.4,352.7 L597.8,353.0 L598.2,353.2 L598.6,353.5 L599.0,353.7 L599.4,354.0 L599.8,354.2 L600.2,354.5 L600.6,354.7 L601.0,355.0 L601.4,355.2 L601.8,355.5 L602.2,355.7 L602.6,356.0 L603.0,356.2 L603.4,356.5 L603.8,356.7 L604.2,357.0 L604.6,357.2 L605.0,357.4 L605.4,357.7 L605.8,357.9 L606.2,358.2 L606.6,358.4 L607.0,358.6 L607.4,358.9 L607.8,359.1 L608.2,359.3 L608.6,359.6 L609.0,359.8 L609.4,360.0 L609.8,360.3 L610.2,360.5 L610.6,360.7 L611.0,360.9 L611.4,361.2 L611.8,361.4 L612.2,361.6 L612.6,361.8 L613.0,362.1 L613.4,362.3 L613.8,362.5 L614.2,362.7 L614.6,362.9 L615.0,363.2 L615.4,363.4 L615.8,363.6 L616.2,363.8 L616.6,364.0 L617.0,364.2 L617.4,364.4 L617.8,364.6 L618.2,364.8 L618.6,365.0 L619.0,365.2 L619.4,365.4 L619.8,365.6 L620.2,365.8 L620.6,365.9 L621.0,366.1 L621.4,366.3 L621.8,366.4 L622.2,366.6 L622.6,366.8 L623.0,366.9 L623.4,367.1 L623.8,367.2 L624.2,367.4 L624.6,367.5 L625.0,367.7 L625.4,367.8 L625.8,368.0 L626.2,368.1 L626.6,368.3 L627.0,368.4 L627.4,368.5 L627.8,368.7 L628.2,368.8 L628.6,368.9 L629.0,369.1 L629.4,369.2 L629.8,369.3 L630.2,369.4 L630.6,369.6 L631.0,369.7 L631.4,369.8 L631.8,369.9 L632.2,370.0 L632.6,370.1 L633.0,370.3 L633.4,370.4 L633.8,370.5 L634.2,370.6 L634.6,370.7 L635.0,370.8 L635.4,370.9 L635.8,371.0 L636.2,371.1 L636.6,371.2 L637.0,371.3 L637.4,371.4 L637.8,371.5 L638.2,371.6 L638.6,371.6 L639.0,371.7 L639.4,371.8 L639.8,371.9 L640.2,372.0 L640.6,372.0 L641.0,372.1 L641.4,372.2 L641.8,372.2 L642.2,372.3 L642.6,372.4 L643.0,372.4 L643.4,372.5 L643.8,372.5 L644.2,372.6 L644.6,372.6 L645.0,372.7 L645.4,372.7 L645.8,372.8 L646.2,372.8 L646.6,372.9 L647.0,372.9 L647.4,373.0 L647.8,373.0 L648.2,373.0 L648.6,373.1 L649.0,373.1 L649.4,373.1 L649.8,373.1 L650.2,373.2 L650.6,373.2 L651.0,373.2 L651.4,373.3 L651.8,373.3 L652.2,373.3 L652.6,373.3 L653.0,373.4 L653.4,373.4 L653.8,373.4 L654.2,373.4 L654.6,373.5 L655.0,373.5 L655.4,373.5 L655.8,373.5 L656.2,373.6 L656.6,373.6 L657.0,373.6 L657.4,373.6 L657.8,373.6 L658.2,373.7 L658.6,373.7 L659.0,373.7 L659.4,373.7 L659.8,373.7 L660.2,373.7 L660.6,373.8 L661.0,373.8 L661.4,373.8 L661.8,373.8 L662.2,373.8 L662.6,373.8 L663.0,373.8 L663.4,373.8 L663.8,373.8 L664.2,373.8 L664.6,373.8 L665.0,373.8 L665.4,373.8 L665.8,373.8 L666.2,373.8 L666.6,373.8 L667.0,373.8 L667.4,373.8 L667.8,373.8 L668.2,373.8 L668.6,373.8 L669.0,373.8 L669.4,373.8 L669.8,373.8 L670.2,373.8 L670.6,373.8 L671.0,373.8 L671.4,373.8 L671.8,373.8 L672.2,373.8 L672.6,373.8 L673.0,373.8 L673.4,373.8 L673.8,373.8 L674.2,373.8 L674.6,373.8 L675.0,373.8 L675.0,373.8" stroke="#4b7ab9" stroke-width="3"/>
<path d="M57.0,343.0 L57.4,343.7 L57.8,344.4 L58.2,345.0 L58.6,345.5 L59.0,346.0 L59.4,346.4 L59.8,346.8 L60.2,347.2 L60.6,347.5 L61.0,347.8 L61.4,348.0 L61.8,348.1 L62.2,348.3 L62.6,348.4 L63.0,348.5 L63.4,348.6 L63.8,348.7 L64.2,348.7 L64.6,348.8 L65.0,348.8 L65.4,348.8 L65.8,348.8 L66.2,348.8 L66.6,348.8 L67.0,348.8 L67.4,348.8 L67.8,348.8 L68.2,348.8 L68.6,348.8 L69.0,348.8 L69.4,348.8 L69.8,348.8 L70.2,348.8 L70.6,348.8 L71.0,348.8 L71.4,348.8 L71.8,348.8 L72.2,348.8 L72.6,348.8 L73.0,348.8 L73.4,348.7 L73.8,348.5 L74.2,348.2 L74.6,347.8 L75.0,347.4 L75.4,347.0 L75.8,346.6 L76.2,346.4 L76.6,346.1 L77.0,345.8 L77.4,345.6 L77.8,345.5 L78.2,345.6 L78.6,345.8 L79.0,346.1 L79.4,346.5 L79.8,346.9 L80.2,347.1 L80.6,347.4 L81.0,347.8 L81.4,348.1 L81.8,348.4 L82.2,348.6 L82.6,348.7 L83.0,348.8 L83.4,348.8 L83.8,348.8 L84.2,348.8 L84.6,348.8 L85.0,348.8 L85.4,348.8 L85.8,348.8 L86.2,348.7 L86.6,348.7 L87.0,348.7 L87.4,348.7 L87.8,348.7 L88.2,348.6 L88.6,348.6 L89.0,348.6 L89.4,348.6 L89.8,348.5 L90.2,348.5 L90.6,348.2 L91.0,347.8 L91.4,347.3 L91.8,346.8 L92.2,346.3 L92.6,345.7 L93.0,345.2 L93.4,344.5 L93.8,343.8 L94.2,343.2 L94.6,342.6 L95.0,342.0 L95.4,341.5 L95.8,340.9 L96.2,340.3 L96.6,339.8 L97.0,339.5 L97.4,339.3 L97.8,339.4 L98.2,340.0 L98.6,340.8 L99.0,341.8 L99.4,342.8 L99.8,343.7 L100.2,344.3 L100.6,344.9 L101.0,345.4 L101.4,346.0 L101.8,346.4 L102.2,346.8 L102.6,347.0 L103.0,347.1 L103.4,347.1 L103.8,347.2 L104.2,347.3 L104.6,347.3 L105.0,347.4 L105.4,347.4 L105.8,347.5 L106.2,347.5 L106.6,347.5 L107.0,347.5 L107.4,347.5 L107.8,347.5 L108.2,347.5 L108.6,347.5 L109.0,347.4 L109.4,347.4 L109.8,347.4 L110.2,347.3 L110.6,347.3 L111.0,346.7 L111.4,345.7 L111.8,344.6 L112.2,343.4 L112.6,342.3 L113.0,340.9 L113.4,339.1 L113.8,336.5 L114.2,331.8 L114.6,326.3 L115.0,320.7 L115.4,314.7 L115.8,310.0 L116.2,306.8 L116.6,303.8 L117.0,301.5 L117.4,300.2 L117.8,300.3 L118.2,302.8 L118.6,306.9 L119.0,311.9 L119.4,316.9 L119.8,321.9 L120.2,328.2 L120.6,334.1 L121.0,338.0 L121.4,340.3 L121.8,342.4 L122.2,344.2 L122.6,345.5 L123.0,346.3 L123.4,346.5 L123.8,346.2 L124.2,345.7 L124.6,344.9 L125.0,344.0 L125.4,341.8 L125.8,338.1 L126.2,334.2 L126.6,331.4 L127.0,329.1 L127.4,327.2 L127.8,326.0 L128.2,325.4 L128.6,325.1 L129.0,324.8 L129.4,324.5 L129.8,323.9 L130.2,322.0 L130.6,314.4 L131.0,305.0 L131.4,295.0 L131.8,285.0 L132.2,276.6 L132.6,270.0 L133.0,265.3 L133.4,263.0 L133.8,265.4 L134.2,270.6 L134.6,277.2 L135.0,285.9 L135.4,293.9 L135.8,301.5 L136.2,308.0 L136.6,313.9 L137.0,315.7 L137.4,311.1 L137.8,304.7 L138.2,296.5 L138.6,287.7 L139.0,277.7 L139.4,270.7 L139.8,266.3 L140.2,264.3 L140.6,265.9 L141.0,269.8 L141.4,274.9 L141.8,280.0 L142.2,285.4 L142.6,291.6 L143.0,297.9 L143.4,303.7 L143.8,308.7 L144.2,313.4 L144.6,317.4 L145.0,320.3 L145.4,322.5 L145.8,324.5 L146.2,326.5 L146.6,328.8 L147.0,331.2 L147.4,333.6 L147.8,336.4 L148.2,339.0 L148.6,340.9 L149.0,342.4 L149.4,343.7 L149.8,344.8 L150.2,345.7 L150.6,346.4 L151.0,346.8 L151.4,347.3 L151.8,347.7 L152.2,348.0 L152.6,348.3 L153.0,348.5 L153.4,348.7 L153.8,348.8 L154.2,348.8 L154.6,348.8 L155.0,348.8 L155.4,348.8 L155.8,348.7 L156.2,348.7 L156.6,348.7 L157.0,348.7 L157.4,348.6 L157.8,348.6 L158.2,348.5 L158.6,348.5 L159.0,348.5 L159.4,348.4 L159.8,348.4 L160.2,348.3 L160.6,348.3 L161.0,348.2 L161.4,348.2 L161.8,348.2 L162.2,348.1 L162.6,348.1 L163.0,348.1 L163.4,348.0 L163.8,348.0 L164.2,348.0 L164.6,348.0 L165.0,348.0 L165.4,348.0 L165.8,348.0 L166.2,348.0 L166.6,348.1 L167.0,348.1 L167.4,348.1 L167.8,348.2 L168.2,348.2 L168.6,348.3 L169.0,348.3 L169.4,348.3 L169.8,348.4 L170.2,348.4 L170.6,348.4 L171.0,348.5 L171.4,348.5 L171.8,348.5 L172.2,348.5 L172.6,348.5 L173.0,348.5 L173.4,348.5 L173.8,348.5 L174.2,348.5 L174.6,348.4 L175.0,348.4 L175.4,348.4 L175.8,348.4 L176.2,348.4 L176.6,348.3 L177.0,348.3 L177.4,348.3 L177.8,348.2 L178.2,348.2 L178.6,348.2 L179.0,348.1 L179.4,348.1 L179.8,348.0 L180.2,348.0 L180.6,347.8 L181.0,347.6 L181.4,347.3 L181.8,347.0 L182.2,346.7 L182.6,346.5 L183.0,346.3 L183.4,346.3 L183.8,346.4 L184.2,346.5 L184.6,346.7 L185.0,347.0 L185.4,347.2 L185.8,347.5 L186.2,347.7 L186.6,347.9 L187.0,348.0 L187.4,348.0 L187.8,347.9 L188.2,347.6 L188.6,347.1 L189.0,346.6 L189.4,345.9 L189.8,345.2 L190.2,344.5 L190.6,343.7 L191.0,343.0 L191.4,342.3 L191.8,341.6 L192.2,340.8 L192.6,339.9 L193.0,339.0 L193.4,338.1 L193.8,337.2 L194.2,336.2 L194.6,335.3 L195.0,334.4 L195.4,333.5 L195.8,332.6 L196.2,331.7 L196.6,330.7 L197.0,329.7 L197.4,328.8 L197.8,328.0 L198.2,327.3 L198.6,326.9 L199.0,326.6 L199.4,326.3 L199.8,326.1 L200.2,326.0 L200.6,326.1 L201.0,326.5 L201.4,327.1 L201.8,327.5 L202.2,327.5 L202.6,327.2 L203.0,326.6 L203.4,325.8 L203.8,325.1 L204.2,324.5 L204.6,324.1 L205.0,323.8 L205.4,323.6 L205.8,323.5 L206.2,324.0 L206.6,325.0 L207.0,326.3 L207.4,327.6 L207.8,328.7 L208.2,329.8 L208.6,331.1 L209.0,332.3 L209.4,333.3 L209.8,333.9 L210.2,334.1 L210.6,334.1 L211.0,334.1 L211.4,334.1 L211.8,334.1 L212.2,334.1 L212.6,334.1 L213.0,334.0 L213.4,333.6 L213.8,333.0 L214.2,332.3 L214.6,331.5 L215.0,329.9 L215.4,327.6 L215.8,325.0 L216.2,322.3 L216.6,319.9 L217.0,317.8 L217.4,315.6 L217.8,313.4 L218.2,311.7 L218.6,310.6 L219.0,310.6 L219.4,311.1 L219.8,312.1 L220.2,313.2 L220.6,314.2 L221.0,315.4 L221.4,316.9 L221.8,318.4 L222.2,319.6 L222.6,320.3 L223.0,320.0 L223.4,318.9 L223.8,317.3 L224.2,315.6 L224.6,314.2 L225.0,313.3 L225.4,312.4 L225.8,311.7 L226.2,311.0 L226.6,310.6 L227.0,310.5 L227.4,311.0 L227.8,312.1 L228.2,313.5 L228.6,315.0 L229.0,316.6 L229.4,318.7 L229.8,321.2 L230.2,324.0 L230.6,326.8 L231.0,329.3 L231.4,331.4 L231.8,333.3 L232.2,335.1 L232.6,336.7 L233.0,338.3 L233.4,339.6 L233.8,340.6 L234.2,341.5 L234.6,342.3 L235.0,343.1 L235.4,343.7 L235.8,344.3 L236.2,344.8 L236.6,345.2 L237.0,345.5 L237.4,345.7 L237.8,345.9 L238.2,346.0 L238.6,346.2 L239.0,346.3 L239.4,346.3 L239.8,346.3 L240.2,346.2 L240.6,346.0 L241.0,345.8 L241.4,345.6 L241.8,345.3 L242.2,345.0 L242.6,344.8 L243.0,344.5 L243.4,344.1 L243.8,343.7 L244.2,343.2 L244.6,342.9 L245.0,342.7 L245.4,342.6 L245.8,342.5 L246.2,342.5 L246.6,342.5 L247.0,342.4 L247.4,342.4 L247.8,342.4 L248.2,342.3 L248.6,342.3 L249.0,342.1 L249.4,341.8 L249.8,341.5 L250.2,341.1 L250.6,340.6 L251.0,340.0 L251.4,339.5 L251.8,338.8 L252.2,337.9 L252.6,336.8 L253.0,335.4 L253.4,333.9 L253.8,332.4 L254.2,330.9 L254.6,329.3 L255.0,327.6 L255.4,325.7 L255.8,324.1 L256.2,322.7 L256.6,321.9 L257.0,321.4 L257.4,321.0 L257.8,320.6 L258.2,320.4 L258.6,320.3 L259.0,320.4 L259.4,320.5 L259.8,320.6 L260.2,320.7 L260.6,320.3 L261.0,319.6 L261.4,319.1 L261.8,319.3 L262.2,320.0 L262.6,321.2 L263.0,322.4 L263.4,323.8 L263.8,325.9 L264.2,328.0 L264.6,329.7 L265.0,330.9 L265.4,332.0 L265.8,333.0 L266.2,333.9 L266.6,334.5 L267.0,334.9 L267.4,334.9 L267.8,334.7 L268.2,334.4 L268.6,334.0 L269.0,333.6 L269.4,333.2 L269.8,333.0 L270.2,332.7 L270.6,332.4 L271.0,332.1 L271.4,331.5 L271.8,330.2 L272.2,328.3 L272.6,326.0 L273.0,323.7 L273.4,321.7 L273.8,319.6 L274.2,317.4 L274.6,315.4 L275.0,313.8 L275.4,312.7 L275.8,311.8 L276.2,311.2 L276.6,311.0 L277.0,312.0 L277.4,313.6 L277.8,315.0 L278.2,315.4 L278.6,315.1 L279.0,314.7 L279.4,314.3 L279.8,314.2 L280.2,314.3 L280.6,314.4 L281.0,314.6 L281.4,315.5 L281.8,317.5 L282.2,320.1 L282.6,322.8 L283.0,325.1 L283.4,327.1 L283.8,329.2 L284.2,331.2 L284.6,333.1 L285.0,334.7 L285.4,336.0 L285.8,337.3 L286.2,338.6 L286.6,339.8 L287.0,340.8 L287.4,341.5 L287.8,341.9 L288.2,342.0 L288.6,341.9 L289.0,341.7 L289.4,341.4 L289.8,341.0 L290.2,340.6 L290.6,340.1 L291.0,339.6 L291.4,339.1 L291.8,338.5 L292.2,337.9 L292.6,337.3 L293.0,336.6 L293.4,335.7 L293.8,334.7 L294.2,333.7 L294.6,332.5 L295.0,331.3 L295.4,330.0 L295.8,328.7 L296.2,327.4 L296.6,326.0 L297.0,324.7 L297.4,323.1 L297.8,321.3 L298.2,319.5 L298.6,317.6 L299.0,315.9 L299.4,314.3 L299.8,313.1 L300.2,312.0 L300.6,311.0 L301.0,310.0 L301.4,309.2 L301.8,308.5 L302.2,308.1 L302.6,308.0 L303.0,308.7 L303.4,310.1 L303.8,312.0 L304.2,314.0 L304.6,316.0 L305.0,317.6 L305.4,319.0 L305.8,320.6 L306.2,322.2 L306.6,323.7 L307.0,324.9 L307.4,325.9 L307.8,326.4 L308.2,326.4 L308.6,326.0 L309.0,325.2 L309.4,324.2 L309.8,322.9 L310.2,321.5 L310.6,320.1 L311.0,318.6 L311.4,316.7 L311.8,314.4 L312.2,311.9 L312.6,309.6 L313.0,307.6 L313.4,306.0 L313.8,304.5 L314.2,303.0 L314.6,301.6 L315.0,300.6 L315.4,300.0 L315.8,299.8 L316.2,300.7 L316.6,302.4 L317.0,304.7 L317.4,307.4 L317.8,310.1 L318.2,312.6 L318.6,314.7 L319.0,317.1 L319.4,319.6 L319.8,322.0 L320.2,324.4 L320.6,326.5 L321.0,328.3 L321.4,329.7 L321.8,331.0 L322.2,332.3 L322.6,333.4 L323.0,334.2 L323.4,334.6 L323.8,334.4 L324.2,333.8 L324.6,332.7 L325.0,331.2 L325.4,329.6 L325.8,327.9 L326.2,326.2 L326.6,324.6 L327.0,322.8 L327.4,320.7 L327.8,318.5 L328.2,316.4 L328.6,314.6 L329.0,313.1 L329.4,311.8 L329.8,310.6 L330.2,309.6 L330.6,308.9 L331.0,308.7 L331.4,309.4 L331.8,310.8 L332.2,312.5 L332.6,314.3 L333.0,315.8 L333.4,317.0 L333.8,318.2 L334.2,319.3 L334.6,320.3 L335.0,321.0 L335.4,321.3 L335.8,321.0 L336.2,320.0 L336.6,318.7 L337.0,317.1 L337.4,315.4 L337.8,313.7 L338.2,311.3 L338.6,308.5 L339.0,305.6 L339.4,303.1 L339.8,301.3 L340.2,299.9 L340.6,298.6 L341.0,297.5 L341.4,296.6 L341.8,296.2 L342.2,296.3 L342.6,297.4 L343.0,299.4 L343.4,301.8 L343.8,304.4 L344.2,306.7 L344.6,308.7 L345.0,310.9 L345.4,313.1 L345.8,315.3 L346.2,317.4 L346.6,319.2 L347.0,320.7 L347.4,321.9 L347.8,322.9 L348.2,323.8 L348.6,324.3 L349.0,324.0 L349.4,322.7 L349.8,320.9 L350.2,318.9 L350.6,317.1 L351.0,315.9 L351.4,314.8 L351.8,313.9 L352.2,313.1 L352.6,312.5 L353.0,312.4 L353.4,313.1 L353.8,314.4 L354.2,315.8 L354.6,316.9 L355.0,317.8 L355.4,318.6 L355.8,319.3 L356.2,319.7 L356.6,319.6 L357.0,318.2 L357.4,315.9 L357.8,313.2 L358.2,310.7 L358.6,308.6 L359.0,306.3 L359.4,304.0 L359.8,301.8 L360.2,299.9 L360.6,298.3 L361.0,296.9 L361.4,295.5 L361.8,294.5 L362.2,293.9 L362.6,294.1 L363.0,295.0 L363.4,296.3 L363.8,297.9 L364.2,299.4 L364.6,301.0 L365.0,303.1 L365.4,305.2 L365.8,307.0 L366.2,308.0 L366.6,308.4 L367.0,308.7 L367.4,309.0 L367.8,309.2 L368.2,309.6 L368.6,309.9 L369.0,310.2 L369.4,310.6 L369.8,311.0 L370.2,311.5 L370.6,312.0 L371.0,312.6 L371.4,313.3 L371.8,314.2 L372.2,315.1 L372.6,315.7 L373.0,316.1 L373.4,315.8 L373.8,314.8 L374.2,313.1 L374.6,311.2 L375.0,309.1 L375.4,307.2 L375.8,305.2 L376.2,302.8 L376.6,300.4 L377.0,298.3 L377.4,296.6 L377.8,295.7 L378.2,294.9 L378.6,294.2 L379.0,293.6 L379.4,293.2 L379.8,293.1 L380.2,293.1 L380.6,293.2 L381.0,293.2 L381.4,293.3 L381.8,293.4 L382.2,293.6 L382.6,294.3 L383.0,295.4 L383.4,296.6 L383.8,298.1 L384.2,300.1 L384.6,302.3 L385.0,304.3 L385.4,306.1 L385.8,308.1 L386.2,309.9 L386.6,311.5 L387.0,312.6 L387.4,313.0 L387.8,312.5 L388.2,311.3 L388.6,309.5 L389.0,307.3 L389.4,305.0 L389.8,302.7 L390.2,300.8 L390.6,299.3 L391.0,297.7 L391.4,296.1 L391.8,294.5 L392.2,293.0 L392.6,291.7 L393.0,290.7 L393.4,290.1 L393.8,290.0 L394.2,290.4 L394.6,291.3 L395.0,292.6 L395.4,294.2 L395.8,296.0 L396.2,298.0 L396.6,300.1 L397.0,302.2 L397.4,304.2 L397.8,306.0 L398.2,307.6 L398.6,308.9 L399.0,309.8 L399.4,310.2 L399.8,309.9 L400.2,308.9 L400.6,307.2 L401.0,304.9 L401.4,302.4 L401.8,299.7 L402.2,297.0 L402.6,294.6 L403.0,292.5 L403.4,290.9 L403.8,290.0 L404.2,290.0 L404.6,290.5 L405.0,291.5 L405.4,292.8 L405.8,294.5 L406.2,296.3 L406.6,298.3 L407.0,300.2 L407.4,302.2 L407.8,304.0 L408.2,305.5 L408.6,306.8 L409.0,307.7 L409.4,308.1 L409.8,307.9 L410.2,307.1 L410.6,305.7 L411.0,303.9 L411.4,301.9 L411.8,299.7 L412.2,297.5 L412.6,295.3 L413.0,293.4 L413.4,291.9 L413.8,290.7 L414.2,290.2 L414.6,290.4 L415.0,291.1 L415.4,292.3 L415.8,293.9 L416.2,295.7 L416.6,297.6 L417.0,299.5 L417.4,301.3 L417.8,302.9 L418.2,304.1 L418.6,304.8 L419.0,305.0 L419.4,304.5 L419.8,303.5 L420.2,302.1 L420.6,300.5 L421.0,298.7 L421.4,296.8 L421.8,295.0 L422.2,293.4 L422.6,292.1 L423.0,291.2 L423.4,290.9 L423.8,291.2 L424.2,291.9 L424.6,293.0 L425.0,294.4 L425.4,295.9 L425.8,297.4 L426.2,298.9 L426.6,300.2 L427.0,301.1 L427.4,301.6 L427.8,301.6 L428.2,301.1 L428.6,300.0 L429.0,298.7 L429.4,297.3 L429.8,295.8 L430.2,294.5 L430.6,293.4 L431.0,292.7 L431.4,292.5 L431.8,292.9 L432.2,293.7 L432.6,294.8 L433.0,296.0 L433.4,297.3 L433.8,298.5 L434.2,299.5 L434.6,300.2 L435.0,300.5 L435.4,300.2 L435.8,299.6 L436.2,298.6 L436.6,297.4 L437.0,296.2 L437.4,295.0 L437.8,293.9 L438.2,293.2 L438.6,292.8 L439.0,292.9 L439.4,293.4 L439.8,294.2 L440.2,295.2 L440.6,296.2 L441.0,297.2 L441.4,298.0 L441.8,298.6 L442.2,298.8 L442.6,298.6 L443.0,298.1 L443.4,297.4 L443.8,296.5 L444.2,295.7 L444.6,295.1 L445.0,294.6 L445.4,294.5 L445.8,294.7 L446.2,295.2 L446.6,295.9 L447.0,296.7 L447.4,297.4 L447.8,298.1 L448.2,298.6 L448.6,299.0 L449.0,299.0 L449.4,298.7 L449.8,298.3 L450.2,297.8 L450.6,297.2 L451.0,296.8 L451.4,296.5 L451.8,296.4 L452.2,296.6 L452.6,297.1 L453.0,297.7 L453.4,298.3 L453.8,298.8 L454.2,299.2 L454.6,299.4 L455.0,299.3 L455.4,299.0 L455.8,298.6 L456.2,298.2 L456.6,297.8 L457.0,297.6 L457.4,297.5 L457.8,297.7 L458.2,298.1 L458.6,298.6 L459.0,299.1 L459.4,299.5 L459.8,299.9 L460.2,300.0 L460.6,299.9 L461.0,299.7 L461.4,299.4 L461.8,299.1 L462.2,298.9 L462.6,298.8 L463.0,298.9 L463.4,299.2 L463.8,299.6 L464.2,300.0 L464.6,300.4 L465.0,300.6 L465.4,300.7 L465.8,300.6 L466.2,300.4 L466.6,300.2 L467.0,300.0 L467.4,299.8 L467.8,299.8 L468.2,300.1 L468.6,300.5 L469.0,300.9 L469.4,301.3 L469.8,301.6 L470.2,301.7 L470.6,301.6 L471.0,301.4 L471.4,301.3 L471.8,301.1 L472.2,301.1 L472.6,301.3 L473.0,301.5 L473.4,301.9 L473.8,302.2 L474.2,302.4 L474.6,302.4 L475.0,302.4 L475.4,302.3 L475.8,302.2 L476.2,302.2 L476.6,302.2 L477.0,302.3 L477.4,302.4 L477.8,302.5 L478.2,302.7 L478.6,302.8 L479.0,302.9 L479.4,303.0 L479.8,303.1 L480.2,303.2 L480.6,303.3 L481.0,303.4 L481.4,303.5 L481.8,303.6 L482.2,303.7 L482.6,303.8 L483.0,303.9 L483.4,304.0 L483.8,304.1 L484.2,304.1 L484.6,304.2 L485.0,304.3 L485.4,304.4 L485.8,304.5 L486.2,304.6 L486.6,304.8 L487.0,304.9 L487.4,305.0 L487.8,305.1 L488.2,305.2 L488.6,305.4 L489.0,305.5 L489.4,305.6 L489.8,305.8 L490.2,305.9 L490.6,306.1 L491.0,306.3 L491.4,306.4 L491.8,306.6 L492.2,306.7 L492.6,306.9 L493.0,307.1 L493.4,307.3 L493.8,307.4 L494.2,307.6 L494.6,307.8 L495.0,308.0 L495.4,308.1 L495.8,308.3 L496.2,308.5 L496.6,308.7 L497.0,308.8 L497.4,309.0 L497.8,309.2 L498.2,309.3 L498.6,309.5 L499.0,309.7 L499.4,309.9 L499.8,310.0 L500.2,310.2 L500.6,310.4 L501.0,310.6 L501.4,310.8 L501.8,310.9 L502.2,311.1 L502.6,311.3 L503.0,311.5 L503.4,311.7 L503.8,311.9 L504.2,312.0 L504.6,312.2 L505.0,312.4 L505.4,312.6 L505.8,312.8 L506.2,313.0 L506.6,313.2 L507.0,313.4 L507.4,313.6 L507.8,313.8 L508.2,314.0 L508.6,314.2 L509.0,314.4 L509.4,314.6 L509.8,314.8 L510.2,315.0 L510.6,315.2 L511.0,315.4 L511.4,315.7 L511.8,315.9 L512.2,316.1 L512.6,316.3 L513.0,316.4 L513.4,316.6 L513.8,316.8 L514.2,317.0 L514.6,317.2 L515.0,317.4 L515.4,317.5 L515.8,317.7 L516.2,317.8 L516.6,318.0 L517.0,318.2 L517.4,318.3 L517.8,318.5 L518.2,318.6 L518.6,318.8 L519.0,318.9 L519.4,319.1 L519.8,319.3 L520.2,319.5 L520.6,319.7 L521.0,319.9 L521.4,320.1 L521.8,320.3 L522.2,320.6 L522.6,320.8 L523.0,321.0 L523.4,321.3 L523.8,321.5 L524.2,321.8 L524.6,322.0 L525.0,322.3 L525.4,322.5 L525.8,322.8 L526.2,323.0 L526.6,323.3 L527.0,323.5 L527.4,323.7 L527.8,324.0 L528.2,324.2 L528.6,324.5 L529.0,324.7 L529.4,325.0 L529.8,325.2 L530.2,325.5 L530.6,325.7 L531.0,326.0 L531.4,326.2 L531.8,326.5 L532.2,326.7 L532.6,327.0 L533.0,327.2 L533.4,327.5 L533.8,327.7 L534.2,327.9 L534.6,328.2 L535.0,328.4 L535.4,328.7 L535.8,328.9 L536.2,329.1 L536.6,329.4 L537.0,329.6 L537.4,329.8 L537.8,330.1 L538.2,330.3 L538.6,330.5 L539.0,330.8 L539.4,331.0 L539.8,331.2 L540.2,331.5 L540.6,331.7 L541.0,331.9 L541.4,332.2 L541.8,332.4 L542.2,332.6 L542.6,332.9 L543.0,333.1 L543.4,333.3 L543.8,333.5 L544.2,333.7 L544.6,334.0 L545.0,334.2 L545.4,334.4 L545.8,334.6 L546.2,334.8 L546.6,335.0 L547.0,335.2 L547.4,335.4 L547.8,335.6 L548.2,335.8 L548.6,336.0 L549.0,336.2 L549.4,336.4 L549.8,336.6 L550.2,336.8 L550.6,337.0 L551.0,337.1 L551.4,337.3 L551.8,337.5 L552.2,337.7 L552.6,337.9 L553.0,338.0 L553.4,338.2 L553.8,338.4 L554.2,338.6 L554.6,338.7 L555.0,338.9 L555.4,339.1 L555.8,339.3 L556.2,339.4 L556.6,339.6 L557.0,339.8 L557.4,339.9 L557.8,340.1 L558.2,340.2 L558.6,340.4 L559.0,340.5 L559.4,340.7 L559.8,340.8 L560.2,341.0 L560.6,341.1 L561.0,341.3 L561.4,341.4 L561.8,341.6 L562.2,341.7 L562.6,341.8 L563.0,342.0 L563.4,342.1 L563.8,342.2 L564.2,342.3 L564.6,342.5 L565.0,342.6 L565.4,342.7 L565.8,342.8 L566.2,342.9 L566.6,343.0 L567.0,343.1 L567.4,343.3 L567.8,343.4 L568.2,343.5 L568.6,343.6 L569.0,343.7 L569.4,343.8 L569.8,343.9 L570.2,344.0 L570.6,344.1 L571.0,344.2 L571.4,344.3 L571.8,344.4 L572.2,344.4 L572.6,344.5 L573.0,344.6 L573.4,344.7 L573.8,344.8 L574.2,344.9 L574.6,345.0 L575.0,345.1 L575.4,345.2 L575.8,345.3 L576.2,345.3 L576.6,345.4 L577.0,345.5 L577.4,345.6 L577.8,345.7 L578.2,345.8 L578.6,345.9 L579.0,345.9 L579.4,346.0 L579.8,346.1 L580.2,346.2 L580.6,346.3 L581.0,346.4 L581.4,346.4 L581.8,346.5 L582.2,346.6 L582.6,346.7 L583.0,346.8 L583.4,346.9 L583.8,347.0 L584.2,347.0 L584.6,347.1 L585.0,347.2 L585.4,347.3 L585.8,347.4 L586.2,347.5 L586.6,347.5 L587.0,347.6 L587.4,347.7 L587.8,347.8 L588.2,347.9 L588.6,347.9 L589.0,348.0 L589.4,348.1 L589.8,348.1 L590.2,348.2 L590.6,348.3 L591.0,348.3 L591.4,348.4 L591.8,348.5 L592.2,348.5 L592.6,348.6 L593.0,348.7 L593.4,348.7 L593.8,348.8 L594.2,348.8 L594.6,348.9 L595.0,348.9 L595.4,349.0 L595.8,349.0 L596.2,349.1 L596.6,349.1 L597.0,349.2 L597.4,349.2 L597.8,349.3 L598.2,349.3 L598.6,349.4 L599.0,349.4 L599.4,349.4 L599.8,349.5 L600.2,349.5 L600.6,349.6 L601.0,349.6 L601.4,349.7 L601.8,349.7 L602.2,349.7 L602.6,349.8 L603.0,349.8 L603.4,349.9 L603.8,349.9 L604.2,349.9 L604.6,350.0 L605.0,350.0 L605.4,350.0 L605.8,350.0 L606.2,350.1 L606.6,350.1 L607.0,350.1 L607.4,350.1 L607.8,350.2 L608.2,350.2 L608.6,350.2 L609.0,350.2 L609.4,350.2 L609.8,350.2 L610.2,350.2 L610.6,350.2 L611.0,350.3 L611.4,350.3 L611.8,350.3 L612.2,350.3 L612.6,350.3 L613.0,350.3 L613.4,350.3 L613.8,350.3 L614.2,350.3 L614.6,350.3 L615.0,350.4 L615.4,350.4 L615.8,350.4 L616.2,350.4 L616.6,350.4 L617.0,350.4 L617.4,350.4 L617.8,350.4 L618.2,350.4 L618.6,350.4 L619.0,350.4 L619.4,350.4 L619.8,350.4 L620.2,350.4 L620.6,350.4 L621.0,350.4 L621.4,350.4 L621.8,350.4 L622.2,350.4 L622.6,350.4 L623.0,350.4 L623.4,350.4 L623.8,350.4 L624.2,350.4 L624.6,350.4 L625.0,350.4 L625.4,350.4 L625.8,350.4 L626.2,350.4 L626.6,350.4 L627.0,350.4 L627.4,350.4 L627.8,350.4 L628.2,350.4 L628.6,350.4 L629.0,350.4 L629.4,350.4 L629.8,350.4 L630.2,350.4 L630.6,350.4 L631.0,350.4 L631.4,350.4 L631.8,350.4 L632.2,350.4 L632.6,350.4 L633.0,350.4 L633.4,350.4 L633.8,350.4 L634.2,350.4 L634.6,350.4 L635.0,350.4 L635.4,350.4 L635.8,350.4 L636.2,350.4 L636.6,350.4 L637.0,350.4 L637.4,350.4 L637.8,350.4 L638.2,350.4 L638.6,350.4 L639.0,350.4 L639.4,350.4 L639.8,350.4 L640.2,350.4 L640.6,350.4 L641.0,350.4 L641.4,350.4 L641.8,350.4 L642.2,350.4 L642.6,350.4 L643.0,350.4 L643.4,350.4 L643.8,350.4 L644.2,350.4 L644.6,350.4 L645.0,350.4 L645.4,350.4 L645.8,350.4 L646.2,350.4 L646.6,350.4 L647.0,350.4 L647.4,350.4 L647.8,350.4 L648.2,350.4 L648.6,350.4 L649.0,350.4 L649.4,350.4 L649.8,350.4 L650.2,350.4 L650.6,350.4 L651.0,350.4 L651.4,350.4 L651.8,350.4 L652.2,350.4 L652.6,350.4 L653.0,350.4 L653.4,350.4 L653.8,350.4 L654.2,350.4 L654.6,350.4 L655.0,350.4 L655.4,350.4 L655.8,350.4 L656.2,350.4 L656.6,350.4 L657.0,350.4 L657.4,350.4 L657.8,350.4 L658.2,350.4 L658.6,350.4 L659.0,350.4 L659.4,350.4 L659.8,350.4 L660.2,350.4 L660.6,350.4 L661.0,350.4 L661.4,350.4 L661.8,350.4 L662.2,350.4 L662.6,350.4 L663.0,350.4 L663.4,350.4 L663.8,350.3 L664.2,350.3 L664.6,350.3 L665.0,350.3 L665.4,350.3 L665.8,350.3 L666.2,350.3 L666.6,350.3 L667.0,350.3 L667.4,350.3 L667.8,350.3 L668.2,350.3 L668.6,350.3 L669.0,350.3 L669.4,350.3 L669.8,350.3 L670.2,350.3 L670.6,350.3 L671.0,350.3 L671.4,350.3 L671.8,350.3 L672.2,350.3 L672.6,350.3 L673.0,350.3 L673.4,350.3 L673.8,350.3 L674.2,350.3 L674.6,350.3 L675.0,350.3 L675.0,350.3" stroke="#000" stroke-width="3.3"/>
</g>
<g stroke="#000" stroke-width="1.5" fill="none">
<path d="M56.7,4.2V447"/>
<path d="M52.5,4.9H57 M52.5,77.9H57 M52.5,150.9H57 M52.5,223.8H57 M52.5,296.8H57 M52.5,369.8H57 M52.5,442.8H57"/>
</g>
<g stroke="#000" stroke-width="1.2" fill="none">
<path d="M56,442.8H675"/>
<path d="M285.1,443V447.2 M514.1,443V447.2" stroke-width="1.4"/>
</g>
<g font-size="14.5" text-anchor="end">
<text x="44.3" y="9.8">300</text>
<text x="44.3" y="82.8">250</text>
<text x="44.3" y="155.8">200</text>
<text x="44.3" y="228.8">150</text>
<text x="44.3" y="301.8">100</text>
<text x="44.3" y="374.8">50</text>
<text x="44.3" y="447.8">0</text>
</g>
<g font-size="14.5" text-anchor="middle">
<text x="57.3" y="465.2">10</text>
<text x="285.2" y="465.2">15</text>
<text x="514.1" y="465.2">20</text>
</g>
<text x="336.4" y="478.7" font-size="23.5">Time (min)</text>
<text transform="translate(15.7,236.3) rotate(-90)" font-size="23">nC</text>
<g stroke="#000" stroke-width="1.7" fill="none" stroke-linejoin="miter">
<path d="M106.6,80.6V72.6H151.2V80.6"/>
<path d="M182.4,265.5V257.8H234.2V265.5"/>
<path d="M243,265.5V257.8H288.1V265.5"/>
<path d="M293,265.5V257.8H323.7V265.5"/>
</g>
<g font-size="14.5">
<text x="110.7" y="64.8">XGO<tspan font-size="9.5" dy="2.8">4</tspan></text>
<text x="190.2" y="249.9">XGO<tspan font-size="9.5" dy="2.8">8</tspan></text>
<text x="246.5" y="249.9">XGO<tspan font-size="9.5" dy="2.8">12</tspan></text>
<text x="290.1" y="249.9">XGO<tspan font-size="9.5" dy="2.8">16</tspan></text>
</g>
</svg>
</body></html>
